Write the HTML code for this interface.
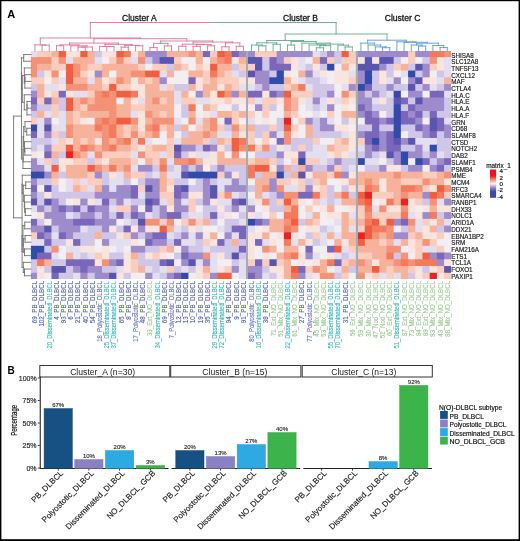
<!DOCTYPE html>
<html><head><meta charset="utf-8"><style>
html,body{margin:0;padding:0;background:#fff;width:520px;height:541px;overflow:hidden;font-family:"Liberation Sans",sans-serif;}
</style></head><body>
<svg width="520" height="541" viewBox="0 0 520 541" style="position:absolute;left:0;top:0;will-change:transform">
<rect x="30.9" y="51" width="7.16" height="7.1" fill="#e4dff0"/>
<rect x="37.06" y="51" width="8.21" height="7.1" fill="#facdbe"/>
<rect x="44.27" y="51" width="8.21" height="7.1" fill="#facdbe"/>
<rect x="51.48" y="51" width="8.21" height="7.1" fill="#f7b29b"/>
<rect x="58.69" y="51" width="8.21" height="7.1" fill="#f05f41"/>
<rect x="65.9" y="51" width="8.21" height="7.1" fill="#f9e4de"/>
<rect x="73.1" y="51" width="8.21" height="7.1" fill="#f9e4de"/>
<rect x="80.31" y="51" width="8.21" height="7.1" fill="#f05f41"/>
<rect x="87.52" y="51" width="8.21" height="7.1" fill="#f7b29b"/>
<rect x="94.73" y="51" width="8.21" height="7.1" fill="#d0c7e8"/>
<rect x="101.94" y="51" width="8.21" height="7.1" fill="#f9e4de"/>
<rect x="109.15" y="51" width="8.21" height="7.1" fill="#f9e4de"/>
<rect x="116.36" y="51" width="8.21" height="7.1" fill="#f05f41"/>
<rect x="123.57" y="51" width="8.21" height="7.1" fill="#f37a5c"/>
<rect x="130.78" y="51" width="8.21" height="7.1" fill="#f9e4de"/>
<rect x="137.98" y="51" width="8.21" height="7.1" fill="#f7b29b"/>
<rect x="145.19" y="51" width="8.21" height="7.1" fill="#9d8bcc"/>
<rect x="152.4" y="51" width="8.21" height="7.1" fill="#9d8bcc"/>
<rect x="159.61" y="51" width="8.21" height="7.1" fill="#9d8bcc"/>
<rect x="166.82" y="51" width="8.21" height="7.1" fill="#f7b29b"/>
<rect x="174.03" y="51" width="8.21" height="7.1" fill="#f7b29b"/>
<rect x="181.24" y="51" width="8.21" height="7.1" fill="#f7b29b"/>
<rect x="188.45" y="51" width="8.21" height="7.1" fill="#f49176"/>
<rect x="195.66" y="51" width="8.21" height="7.1" fill="#f7b29b"/>
<rect x="202.87" y="51" width="8.21" height="7.1" fill="#7a67bc"/>
<rect x="210.07" y="51" width="8.21" height="7.1" fill="#facdbe"/>
<rect x="217.28" y="51" width="8.21" height="7.1" fill="#f05f41"/>
<rect x="224.49" y="51" width="8.21" height="7.1" fill="#f37a5c"/>
<rect x="231.7" y="51" width="8.21" height="7.1" fill="#7a67bc"/>
<rect x="238.91" y="51" width="7.19" height="7.1" fill="#9d8bcc"/>
<rect x="248" y="51" width="8.01" height="7.1" fill="#9d8bcc"/>
<rect x="255.01" y="51" width="8.21" height="7.1" fill="#facdbe"/>
<rect x="262.22" y="51" width="8.21" height="7.1" fill="#facdbe"/>
<rect x="269.43" y="51" width="8.21" height="7.1" fill="#facdbe"/>
<rect x="276.64" y="51" width="8.21" height="7.1" fill="#9d8bcc"/>
<rect x="283.85" y="51" width="8.21" height="7.1" fill="#9d8bcc"/>
<rect x="291.05" y="51" width="8.21" height="7.1" fill="#9d8bcc"/>
<rect x="298.26" y="51" width="8.21" height="7.1" fill="#9d8bcc"/>
<rect x="305.47" y="51" width="8.21" height="7.1" fill="#9d8bcc"/>
<rect x="312.68" y="51" width="8.21" height="7.1" fill="#e4dff0"/>
<rect x="319.89" y="51" width="8.21" height="7.1" fill="#d0c7e8"/>
<rect x="327.1" y="51" width="8.21" height="7.1" fill="#9d8bcc"/>
<rect x="334.31" y="51" width="8.21" height="7.1" fill="#d0c7e8"/>
<rect x="341.52" y="51" width="8.21" height="7.1" fill="#f05f41"/>
<rect x="348.73" y="51" width="7.17" height="7.1" fill="#facdbe"/>
<rect x="358" y="51" width="7.81" height="7.1" fill="#9d8bcc"/>
<rect x="364.81" y="51" width="8.21" height="7.1" fill="#9d8bcc"/>
<rect x="372.02" y="51" width="8.21" height="7.1" fill="#9d8bcc"/>
<rect x="379.23" y="51" width="8.21" height="7.1" fill="#9d8bcc"/>
<rect x="386.44" y="51" width="8.21" height="7.1" fill="#9d8bcc"/>
<rect x="393.65" y="51" width="8.21" height="7.1" fill="#9d8bcc"/>
<rect x="400.85" y="51" width="8.21" height="7.1" fill="#9d8bcc"/>
<rect x="408.06" y="51" width="8.21" height="7.1" fill="#facdbe"/>
<rect x="415.27" y="51" width="8.21" height="7.1" fill="#9d8bcc"/>
<rect x="422.48" y="51" width="8.21" height="7.1" fill="#9d8bcc"/>
<rect x="429.69" y="51" width="8.21" height="7.1" fill="#f37a5c"/>
<rect x="436.9" y="51" width="8.21" height="7.1" fill="#f37a5c"/>
<rect x="444.11" y="51" width="6.89" height="7.1" fill="#f49176"/>
<rect x="30.9" y="57.1" width="7.16" height="7.74" fill="#f49176"/>
<rect x="37.06" y="57.1" width="8.21" height="7.74" fill="#f49176"/>
<rect x="44.27" y="57.1" width="8.21" height="7.74" fill="#f49176"/>
<rect x="51.48" y="57.1" width="8.21" height="7.74" fill="#facdbe"/>
<rect x="58.69" y="57.1" width="8.21" height="7.74" fill="#f49176"/>
<rect x="65.9" y="57.1" width="8.21" height="7.74" fill="#e4dff0"/>
<rect x="73.1" y="57.1" width="8.21" height="7.74" fill="#f7b29b"/>
<rect x="80.31" y="57.1" width="8.21" height="7.74" fill="#f7b29b"/>
<rect x="87.52" y="57.1" width="8.21" height="7.74" fill="#f7b29b"/>
<rect x="94.73" y="57.1" width="8.21" height="7.74" fill="#e4dff0"/>
<rect x="101.94" y="57.1" width="8.21" height="7.74" fill="#f2eef2"/>
<rect x="109.15" y="57.1" width="8.21" height="7.74" fill="#facdbe"/>
<rect x="116.36" y="57.1" width="8.21" height="7.74" fill="#f49176"/>
<rect x="123.57" y="57.1" width="8.21" height="7.74" fill="#facdbe"/>
<rect x="130.78" y="57.1" width="8.21" height="7.74" fill="#e4dff0"/>
<rect x="137.98" y="57.1" width="8.21" height="7.74" fill="#f49176"/>
<rect x="145.19" y="57.1" width="8.21" height="7.74" fill="#d0c7e8"/>
<rect x="152.4" y="57.1" width="8.21" height="7.74" fill="#9d8bcc"/>
<rect x="159.61" y="57.1" width="8.21" height="7.74" fill="#5a55af"/>
<rect x="166.82" y="57.1" width="8.21" height="7.74" fill="#5a55af"/>
<rect x="174.03" y="57.1" width="8.21" height="7.74" fill="#facdbe"/>
<rect x="181.24" y="57.1" width="8.21" height="7.74" fill="#f2eef2"/>
<rect x="188.45" y="57.1" width="8.21" height="7.74" fill="#f2eef2"/>
<rect x="195.66" y="57.1" width="8.21" height="7.74" fill="#f7b29b"/>
<rect x="202.87" y="57.1" width="8.21" height="7.74" fill="#f2eef2"/>
<rect x="210.07" y="57.1" width="8.21" height="7.74" fill="#f7b29b"/>
<rect x="217.28" y="57.1" width="8.21" height="7.74" fill="#f49176"/>
<rect x="224.49" y="57.1" width="8.21" height="7.74" fill="#f37a5c"/>
<rect x="231.7" y="57.1" width="8.21" height="7.74" fill="#f9e4de"/>
<rect x="238.91" y="57.1" width="7.19" height="7.74" fill="#f7b29b"/>
<rect x="248" y="57.1" width="8.01" height="7.74" fill="#5a55af"/>
<rect x="255.01" y="57.1" width="8.21" height="7.74" fill="#5a55af"/>
<rect x="262.22" y="57.1" width="8.21" height="7.74" fill="#d0c7e8"/>
<rect x="269.43" y="57.1" width="8.21" height="7.74" fill="#7a67bc"/>
<rect x="276.64" y="57.1" width="8.21" height="7.74" fill="#9d8bcc"/>
<rect x="283.85" y="57.1" width="8.21" height="7.74" fill="#facdbe"/>
<rect x="291.05" y="57.1" width="8.21" height="7.74" fill="#f9e4de"/>
<rect x="298.26" y="57.1" width="8.21" height="7.74" fill="#e4dff0"/>
<rect x="305.47" y="57.1" width="8.21" height="7.74" fill="#f2eef2"/>
<rect x="312.68" y="57.1" width="8.21" height="7.74" fill="#f7b29b"/>
<rect x="319.89" y="57.1" width="8.21" height="7.74" fill="#7a67bc"/>
<rect x="327.1" y="57.1" width="8.21" height="7.74" fill="#facdbe"/>
<rect x="334.31" y="57.1" width="8.21" height="7.74" fill="#d0c7e8"/>
<rect x="341.52" y="57.1" width="8.21" height="7.74" fill="#facdbe"/>
<rect x="348.73" y="57.1" width="7.17" height="7.74" fill="#facdbe"/>
<rect x="358" y="57.1" width="7.81" height="7.74" fill="#f9e4de"/>
<rect x="364.81" y="57.1" width="8.21" height="7.74" fill="#5a55af"/>
<rect x="372.02" y="57.1" width="8.21" height="7.74" fill="#f9e4de"/>
<rect x="379.23" y="57.1" width="8.21" height="7.74" fill="#5a55af"/>
<rect x="386.44" y="57.1" width="8.21" height="7.74" fill="#5a55af"/>
<rect x="393.65" y="57.1" width="8.21" height="7.74" fill="#d0c7e8"/>
<rect x="400.85" y="57.1" width="8.21" height="7.74" fill="#f2eef2"/>
<rect x="408.06" y="57.1" width="8.21" height="7.74" fill="#facdbe"/>
<rect x="415.27" y="57.1" width="8.21" height="7.74" fill="#f2eef2"/>
<rect x="422.48" y="57.1" width="8.21" height="7.74" fill="#d0c7e8"/>
<rect x="429.69" y="57.1" width="8.21" height="7.74" fill="#f49176"/>
<rect x="436.9" y="57.1" width="8.21" height="7.74" fill="#f9e4de"/>
<rect x="444.11" y="57.1" width="6.89" height="7.74" fill="#e4dff0"/>
<rect x="30.9" y="63.84" width="7.16" height="7.74" fill="#f49176"/>
<rect x="37.06" y="63.84" width="8.21" height="7.74" fill="#f7b29b"/>
<rect x="44.27" y="63.84" width="8.21" height="7.74" fill="#f7b29b"/>
<rect x="51.48" y="63.84" width="8.21" height="7.74" fill="#facdbe"/>
<rect x="58.69" y="63.84" width="8.21" height="7.74" fill="#facdbe"/>
<rect x="65.9" y="63.84" width="8.21" height="7.74" fill="#f05f41"/>
<rect x="73.1" y="63.84" width="8.21" height="7.74" fill="#f49176"/>
<rect x="80.31" y="63.84" width="8.21" height="7.74" fill="#f7b29b"/>
<rect x="87.52" y="63.84" width="8.21" height="7.74" fill="#facdbe"/>
<rect x="94.73" y="63.84" width="8.21" height="7.74" fill="#facdbe"/>
<rect x="101.94" y="63.84" width="8.21" height="7.74" fill="#f7b29b"/>
<rect x="109.15" y="63.84" width="8.21" height="7.74" fill="#f7b29b"/>
<rect x="116.36" y="63.84" width="8.21" height="7.74" fill="#f7b29b"/>
<rect x="123.57" y="63.84" width="8.21" height="7.74" fill="#f7b29b"/>
<rect x="130.78" y="63.84" width="8.21" height="7.74" fill="#f7b29b"/>
<rect x="137.98" y="63.84" width="8.21" height="7.74" fill="#facdbe"/>
<rect x="145.19" y="63.84" width="8.21" height="7.74" fill="#f2eef2"/>
<rect x="152.4" y="63.84" width="8.21" height="7.74" fill="#facdbe"/>
<rect x="159.61" y="63.84" width="8.21" height="7.74" fill="#facdbe"/>
<rect x="166.82" y="63.84" width="8.21" height="7.74" fill="#d0c7e8"/>
<rect x="174.03" y="63.84" width="8.21" height="7.74" fill="#f7b29b"/>
<rect x="181.24" y="63.84" width="8.21" height="7.74" fill="#facdbe"/>
<rect x="188.45" y="63.84" width="8.21" height="7.74" fill="#f2eef2"/>
<rect x="195.66" y="63.84" width="8.21" height="7.74" fill="#facdbe"/>
<rect x="202.87" y="63.84" width="8.21" height="7.74" fill="#f9e4de"/>
<rect x="210.07" y="63.84" width="8.21" height="7.74" fill="#f05f41"/>
<rect x="217.28" y="63.84" width="8.21" height="7.74" fill="#f7b29b"/>
<rect x="224.49" y="63.84" width="8.21" height="7.74" fill="#f7b29b"/>
<rect x="231.7" y="63.84" width="8.21" height="7.74" fill="#d0c7e8"/>
<rect x="238.91" y="63.84" width="7.19" height="7.74" fill="#facdbe"/>
<rect x="248" y="63.84" width="8.01" height="7.74" fill="#facdbe"/>
<rect x="255.01" y="63.84" width="8.21" height="7.74" fill="#5a55af"/>
<rect x="262.22" y="63.84" width="8.21" height="7.74" fill="#d0c7e8"/>
<rect x="269.43" y="63.84" width="8.21" height="7.74" fill="#7a67bc"/>
<rect x="276.64" y="63.84" width="8.21" height="7.74" fill="#7a67bc"/>
<rect x="283.85" y="63.84" width="8.21" height="7.74" fill="#7a67bc"/>
<rect x="291.05" y="63.84" width="8.21" height="7.74" fill="#f9e4de"/>
<rect x="298.26" y="63.84" width="8.21" height="7.74" fill="#e4dff0"/>
<rect x="305.47" y="63.84" width="8.21" height="7.74" fill="#d0c7e8"/>
<rect x="312.68" y="63.84" width="8.21" height="7.74" fill="#f9e4de"/>
<rect x="319.89" y="63.84" width="8.21" height="7.74" fill="#d0c7e8"/>
<rect x="327.1" y="63.84" width="8.21" height="7.74" fill="#324baa"/>
<rect x="334.31" y="63.84" width="8.21" height="7.74" fill="#f2eef2"/>
<rect x="341.52" y="63.84" width="8.21" height="7.74" fill="#f7b29b"/>
<rect x="348.73" y="63.84" width="7.17" height="7.74" fill="#f9e4de"/>
<rect x="358" y="63.84" width="7.81" height="7.74" fill="#5a55af"/>
<rect x="364.81" y="63.84" width="8.21" height="7.74" fill="#5a55af"/>
<rect x="372.02" y="63.84" width="8.21" height="7.74" fill="#5a55af"/>
<rect x="379.23" y="63.84" width="8.21" height="7.74" fill="#9d8bcc"/>
<rect x="386.44" y="63.84" width="8.21" height="7.74" fill="#d0c7e8"/>
<rect x="393.65" y="63.84" width="8.21" height="7.74" fill="#facdbe"/>
<rect x="400.85" y="63.84" width="8.21" height="7.74" fill="#f7b29b"/>
<rect x="408.06" y="63.84" width="8.21" height="7.74" fill="#d0c7e8"/>
<rect x="415.27" y="63.84" width="8.21" height="7.74" fill="#5a55af"/>
<rect x="422.48" y="63.84" width="8.21" height="7.74" fill="#9d8bcc"/>
<rect x="429.69" y="63.84" width="8.21" height="7.74" fill="#facdbe"/>
<rect x="436.9" y="63.84" width="8.21" height="7.74" fill="#f9e4de"/>
<rect x="444.11" y="63.84" width="6.89" height="7.74" fill="#e4dff0"/>
<rect x="30.9" y="70.58" width="7.16" height="7.74" fill="#f49176"/>
<rect x="37.06" y="70.58" width="8.21" height="7.74" fill="#d0c7e8"/>
<rect x="44.27" y="70.58" width="8.21" height="7.74" fill="#f9e4de"/>
<rect x="51.48" y="70.58" width="8.21" height="7.74" fill="#f49176"/>
<rect x="58.69" y="70.58" width="8.21" height="7.74" fill="#f2eef2"/>
<rect x="65.9" y="70.58" width="8.21" height="7.74" fill="#f05f41"/>
<rect x="73.1" y="70.58" width="8.21" height="7.74" fill="#f49176"/>
<rect x="80.31" y="70.58" width="8.21" height="7.74" fill="#facdbe"/>
<rect x="87.52" y="70.58" width="8.21" height="7.74" fill="#f9e4de"/>
<rect x="94.73" y="70.58" width="8.21" height="7.74" fill="#9d8bcc"/>
<rect x="101.94" y="70.58" width="8.21" height="7.74" fill="#f7b29b"/>
<rect x="109.15" y="70.58" width="8.21" height="7.74" fill="#f2eef2"/>
<rect x="116.36" y="70.58" width="8.21" height="7.74" fill="#f7b29b"/>
<rect x="123.57" y="70.58" width="8.21" height="7.74" fill="#f7b29b"/>
<rect x="130.78" y="70.58" width="8.21" height="7.74" fill="#f49176"/>
<rect x="137.98" y="70.58" width="8.21" height="7.74" fill="#f49176"/>
<rect x="145.19" y="70.58" width="8.21" height="7.74" fill="#f05f41"/>
<rect x="152.4" y="70.58" width="8.21" height="7.74" fill="#f05f41"/>
<rect x="159.61" y="70.58" width="8.21" height="7.74" fill="#e4dff0"/>
<rect x="166.82" y="70.58" width="8.21" height="7.74" fill="#f7b29b"/>
<rect x="174.03" y="70.58" width="8.21" height="7.74" fill="#f2eef2"/>
<rect x="181.24" y="70.58" width="8.21" height="7.74" fill="#f2eef2"/>
<rect x="188.45" y="70.58" width="8.21" height="7.74" fill="#f7b29b"/>
<rect x="195.66" y="70.58" width="8.21" height="7.74" fill="#f7b29b"/>
<rect x="202.87" y="70.58" width="8.21" height="7.74" fill="#facdbe"/>
<rect x="210.07" y="70.58" width="8.21" height="7.74" fill="#f37a5c"/>
<rect x="217.28" y="70.58" width="8.21" height="7.74" fill="#f7b29b"/>
<rect x="224.49" y="70.58" width="8.21" height="7.74" fill="#facdbe"/>
<rect x="231.7" y="70.58" width="8.21" height="7.74" fill="#e4dff0"/>
<rect x="238.91" y="70.58" width="7.19" height="7.74" fill="#d0c7e8"/>
<rect x="248" y="70.58" width="8.01" height="7.74" fill="#5a55af"/>
<rect x="255.01" y="70.58" width="8.21" height="7.74" fill="#9d8bcc"/>
<rect x="262.22" y="70.58" width="8.21" height="7.74" fill="#9d8bcc"/>
<rect x="269.43" y="70.58" width="8.21" height="7.74" fill="#d0c7e8"/>
<rect x="276.64" y="70.58" width="8.21" height="7.74" fill="#324baa"/>
<rect x="283.85" y="70.58" width="8.21" height="7.74" fill="#f9e4de"/>
<rect x="291.05" y="70.58" width="8.21" height="7.74" fill="#f2eef2"/>
<rect x="298.26" y="70.58" width="8.21" height="7.74" fill="#f7b29b"/>
<rect x="305.47" y="70.58" width="8.21" height="7.74" fill="#9d8bcc"/>
<rect x="312.68" y="70.58" width="8.21" height="7.74" fill="#e4dff0"/>
<rect x="319.89" y="70.58" width="8.21" height="7.74" fill="#f9e4de"/>
<rect x="327.1" y="70.58" width="8.21" height="7.74" fill="#f2eef2"/>
<rect x="334.31" y="70.58" width="8.21" height="7.74" fill="#f9e4de"/>
<rect x="341.52" y="70.58" width="8.21" height="7.74" fill="#f9e4de"/>
<rect x="348.73" y="70.58" width="7.17" height="7.74" fill="#e4dff0"/>
<rect x="358" y="70.58" width="7.81" height="7.74" fill="#9d8bcc"/>
<rect x="364.81" y="70.58" width="8.21" height="7.74" fill="#324baa"/>
<rect x="372.02" y="70.58" width="8.21" height="7.74" fill="#d0c7e8"/>
<rect x="379.23" y="70.58" width="8.21" height="7.74" fill="#f9e4de"/>
<rect x="386.44" y="70.58" width="8.21" height="7.74" fill="#d0c7e8"/>
<rect x="393.65" y="70.58" width="8.21" height="7.74" fill="#f2eef2"/>
<rect x="400.85" y="70.58" width="8.21" height="7.74" fill="#e4dff0"/>
<rect x="408.06" y="70.58" width="8.21" height="7.74" fill="#324baa"/>
<rect x="415.27" y="70.58" width="8.21" height="7.74" fill="#d0c7e8"/>
<rect x="422.48" y="70.58" width="8.21" height="7.74" fill="#9d8bcc"/>
<rect x="429.69" y="70.58" width="8.21" height="7.74" fill="#f2eef2"/>
<rect x="436.9" y="70.58" width="8.21" height="7.74" fill="#d0c7e8"/>
<rect x="444.11" y="70.58" width="6.89" height="7.74" fill="#e4dff0"/>
<rect x="30.9" y="77.32" width="7.16" height="7.74" fill="#facdbe"/>
<rect x="37.06" y="77.32" width="8.21" height="7.74" fill="#facdbe"/>
<rect x="44.27" y="77.32" width="8.21" height="7.74" fill="#f2eef2"/>
<rect x="51.48" y="77.32" width="8.21" height="7.74" fill="#facdbe"/>
<rect x="58.69" y="77.32" width="8.21" height="7.74" fill="#e4dff0"/>
<rect x="65.9" y="77.32" width="8.21" height="7.74" fill="#f05f41"/>
<rect x="73.1" y="77.32" width="8.21" height="7.74" fill="#f7b29b"/>
<rect x="80.31" y="77.32" width="8.21" height="7.74" fill="#f7b29b"/>
<rect x="87.52" y="77.32" width="8.21" height="7.74" fill="#e4dff0"/>
<rect x="94.73" y="77.32" width="8.21" height="7.74" fill="#f7b29b"/>
<rect x="101.94" y="77.32" width="8.21" height="7.74" fill="#f9e4de"/>
<rect x="109.15" y="77.32" width="8.21" height="7.74" fill="#facdbe"/>
<rect x="116.36" y="77.32" width="8.21" height="7.74" fill="#f49176"/>
<rect x="123.57" y="77.32" width="8.21" height="7.74" fill="#f7b29b"/>
<rect x="130.78" y="77.32" width="8.21" height="7.74" fill="#f9e4de"/>
<rect x="137.98" y="77.32" width="8.21" height="7.74" fill="#f7b29b"/>
<rect x="145.19" y="77.32" width="8.21" height="7.74" fill="#facdbe"/>
<rect x="152.4" y="77.32" width="8.21" height="7.74" fill="#f7b29b"/>
<rect x="159.61" y="77.32" width="8.21" height="7.74" fill="#9d8bcc"/>
<rect x="166.82" y="77.32" width="8.21" height="7.74" fill="#f2eef2"/>
<rect x="174.03" y="77.32" width="8.21" height="7.74" fill="#f2eef2"/>
<rect x="181.24" y="77.32" width="8.21" height="7.74" fill="#f2eef2"/>
<rect x="188.45" y="77.32" width="8.21" height="7.74" fill="#7a67bc"/>
<rect x="195.66" y="77.32" width="8.21" height="7.74" fill="#f9e4de"/>
<rect x="202.87" y="77.32" width="8.21" height="7.74" fill="#facdbe"/>
<rect x="210.07" y="77.32" width="8.21" height="7.74" fill="#f7b29b"/>
<rect x="217.28" y="77.32" width="8.21" height="7.74" fill="#facdbe"/>
<rect x="224.49" y="77.32" width="8.21" height="7.74" fill="#facdbe"/>
<rect x="231.7" y="77.32" width="8.21" height="7.74" fill="#facdbe"/>
<rect x="238.91" y="77.32" width="7.19" height="7.74" fill="#f9e4de"/>
<rect x="248" y="77.32" width="8.01" height="7.74" fill="#f9e4de"/>
<rect x="255.01" y="77.32" width="8.21" height="7.74" fill="#9d8bcc"/>
<rect x="262.22" y="77.32" width="8.21" height="7.74" fill="#9d8bcc"/>
<rect x="269.43" y="77.32" width="8.21" height="7.74" fill="#324baa"/>
<rect x="276.64" y="77.32" width="8.21" height="7.74" fill="#324baa"/>
<rect x="283.85" y="77.32" width="8.21" height="7.74" fill="#f7b29b"/>
<rect x="291.05" y="77.32" width="8.21" height="7.74" fill="#f9e4de"/>
<rect x="298.26" y="77.32" width="8.21" height="7.74" fill="#e4dff0"/>
<rect x="305.47" y="77.32" width="8.21" height="7.74" fill="#d0c7e8"/>
<rect x="312.68" y="77.32" width="8.21" height="7.74" fill="#d0c7e8"/>
<rect x="319.89" y="77.32" width="8.21" height="7.74" fill="#e4dff0"/>
<rect x="327.1" y="77.32" width="8.21" height="7.74" fill="#f2eef2"/>
<rect x="334.31" y="77.32" width="8.21" height="7.74" fill="#f9e4de"/>
<rect x="341.52" y="77.32" width="8.21" height="7.74" fill="#f9e4de"/>
<rect x="348.73" y="77.32" width="7.17" height="7.74" fill="#facdbe"/>
<rect x="358" y="77.32" width="7.81" height="7.74" fill="#9d8bcc"/>
<rect x="364.81" y="77.32" width="8.21" height="7.74" fill="#324baa"/>
<rect x="372.02" y="77.32" width="8.21" height="7.74" fill="#d0c7e8"/>
<rect x="379.23" y="77.32" width="8.21" height="7.74" fill="#f9e4de"/>
<rect x="386.44" y="77.32" width="8.21" height="7.74" fill="#e4dff0"/>
<rect x="393.65" y="77.32" width="8.21" height="7.74" fill="#9d8bcc"/>
<rect x="400.85" y="77.32" width="8.21" height="7.74" fill="#f2eef2"/>
<rect x="408.06" y="77.32" width="8.21" height="7.74" fill="#9d8bcc"/>
<rect x="415.27" y="77.32" width="8.21" height="7.74" fill="#5a55af"/>
<rect x="422.48" y="77.32" width="8.21" height="7.74" fill="#f9e4de"/>
<rect x="429.69" y="77.32" width="8.21" height="7.74" fill="#f9e4de"/>
<rect x="436.9" y="77.32" width="8.21" height="7.74" fill="#e4dff0"/>
<rect x="444.11" y="77.32" width="6.89" height="7.74" fill="#f7b29b"/>
<rect x="30.9" y="84.06" width="7.16" height="7.74" fill="#d0c7e8"/>
<rect x="37.06" y="84.06" width="8.21" height="7.74" fill="#f7b29b"/>
<rect x="44.27" y="84.06" width="8.21" height="7.74" fill="#e4dff0"/>
<rect x="51.48" y="84.06" width="8.21" height="7.74" fill="#e4dff0"/>
<rect x="58.69" y="84.06" width="8.21" height="7.74" fill="#f9e4de"/>
<rect x="65.9" y="84.06" width="8.21" height="7.74" fill="#f49176"/>
<rect x="73.1" y="84.06" width="8.21" height="7.74" fill="#f49176"/>
<rect x="80.31" y="84.06" width="8.21" height="7.74" fill="#f49176"/>
<rect x="87.52" y="84.06" width="8.21" height="7.74" fill="#f7b29b"/>
<rect x="94.73" y="84.06" width="8.21" height="7.74" fill="#f7b29b"/>
<rect x="101.94" y="84.06" width="8.21" height="7.74" fill="#facdbe"/>
<rect x="109.15" y="84.06" width="8.21" height="7.74" fill="#f05f41"/>
<rect x="116.36" y="84.06" width="8.21" height="7.74" fill="#facdbe"/>
<rect x="123.57" y="84.06" width="8.21" height="7.74" fill="#facdbe"/>
<rect x="130.78" y="84.06" width="8.21" height="7.74" fill="#f9e4de"/>
<rect x="137.98" y="84.06" width="8.21" height="7.74" fill="#f9e4de"/>
<rect x="145.19" y="84.06" width="8.21" height="7.74" fill="#f7b29b"/>
<rect x="152.4" y="84.06" width="8.21" height="7.74" fill="#f7b29b"/>
<rect x="159.61" y="84.06" width="8.21" height="7.74" fill="#e4dff0"/>
<rect x="166.82" y="84.06" width="8.21" height="7.74" fill="#facdbe"/>
<rect x="174.03" y="84.06" width="8.21" height="7.74" fill="#d0c7e8"/>
<rect x="181.24" y="84.06" width="8.21" height="7.74" fill="#d0c7e8"/>
<rect x="188.45" y="84.06" width="8.21" height="7.74" fill="#f7b29b"/>
<rect x="195.66" y="84.06" width="8.21" height="7.74" fill="#f9e4de"/>
<rect x="202.87" y="84.06" width="8.21" height="7.74" fill="#f7b29b"/>
<rect x="210.07" y="84.06" width="8.21" height="7.74" fill="#f7b29b"/>
<rect x="217.28" y="84.06" width="8.21" height="7.74" fill="#f9e4de"/>
<rect x="224.49" y="84.06" width="8.21" height="7.74" fill="#f7b29b"/>
<rect x="231.7" y="84.06" width="8.21" height="7.74" fill="#facdbe"/>
<rect x="238.91" y="84.06" width="7.19" height="7.74" fill="#e4dff0"/>
<rect x="248" y="84.06" width="8.01" height="7.74" fill="#e4dff0"/>
<rect x="255.01" y="84.06" width="8.21" height="7.74" fill="#d0c7e8"/>
<rect x="262.22" y="84.06" width="8.21" height="7.74" fill="#9d8bcc"/>
<rect x="269.43" y="84.06" width="8.21" height="7.74" fill="#d0c7e8"/>
<rect x="276.64" y="84.06" width="8.21" height="7.74" fill="#d0c7e8"/>
<rect x="283.85" y="84.06" width="8.21" height="7.74" fill="#facdbe"/>
<rect x="291.05" y="84.06" width="8.21" height="7.74" fill="#f7b29b"/>
<rect x="298.26" y="84.06" width="8.21" height="7.74" fill="#f37a5c"/>
<rect x="305.47" y="84.06" width="8.21" height="7.74" fill="#e4dff0"/>
<rect x="312.68" y="84.06" width="8.21" height="7.74" fill="#d0c7e8"/>
<rect x="319.89" y="84.06" width="8.21" height="7.74" fill="#d0c7e8"/>
<rect x="327.1" y="84.06" width="8.21" height="7.74" fill="#d0c7e8"/>
<rect x="334.31" y="84.06" width="8.21" height="7.74" fill="#f2eef2"/>
<rect x="341.52" y="84.06" width="8.21" height="7.74" fill="#e4dff0"/>
<rect x="348.73" y="84.06" width="7.17" height="7.74" fill="#9d8bcc"/>
<rect x="358" y="84.06" width="7.81" height="7.74" fill="#324baa"/>
<rect x="364.81" y="84.06" width="8.21" height="7.74" fill="#7a67bc"/>
<rect x="372.02" y="84.06" width="8.21" height="7.74" fill="#d0c7e8"/>
<rect x="379.23" y="84.06" width="8.21" height="7.74" fill="#d0c7e8"/>
<rect x="386.44" y="84.06" width="8.21" height="7.74" fill="#9d8bcc"/>
<rect x="393.65" y="84.06" width="8.21" height="7.74" fill="#d0c7e8"/>
<rect x="400.85" y="84.06" width="8.21" height="7.74" fill="#d0c7e8"/>
<rect x="408.06" y="84.06" width="8.21" height="7.74" fill="#5a55af"/>
<rect x="415.27" y="84.06" width="8.21" height="7.74" fill="#d0c7e8"/>
<rect x="422.48" y="84.06" width="8.21" height="7.74" fill="#9d8bcc"/>
<rect x="429.69" y="84.06" width="8.21" height="7.74" fill="#e4dff0"/>
<rect x="436.9" y="84.06" width="8.21" height="7.74" fill="#d0c7e8"/>
<rect x="444.11" y="84.06" width="6.89" height="7.74" fill="#9d8bcc"/>
<rect x="30.9" y="90.8" width="7.16" height="7.74" fill="#9d8bcc"/>
<rect x="37.06" y="90.8" width="8.21" height="7.74" fill="#f7b29b"/>
<rect x="44.27" y="90.8" width="8.21" height="7.74" fill="#f9e4de"/>
<rect x="51.48" y="90.8" width="8.21" height="7.74" fill="#facdbe"/>
<rect x="58.69" y="90.8" width="8.21" height="7.74" fill="#7a67bc"/>
<rect x="65.9" y="90.8" width="8.21" height="7.74" fill="#f9e4de"/>
<rect x="73.1" y="90.8" width="8.21" height="7.74" fill="#e4dff0"/>
<rect x="80.31" y="90.8" width="8.21" height="7.74" fill="#e4dff0"/>
<rect x="87.52" y="90.8" width="8.21" height="7.74" fill="#facdbe"/>
<rect x="94.73" y="90.8" width="8.21" height="7.74" fill="#f49176"/>
<rect x="101.94" y="90.8" width="8.21" height="7.74" fill="#f37a5c"/>
<rect x="109.15" y="90.8" width="8.21" height="7.74" fill="#f49176"/>
<rect x="116.36" y="90.8" width="8.21" height="7.74" fill="#f05f41"/>
<rect x="123.57" y="90.8" width="8.21" height="7.74" fill="#f05f41"/>
<rect x="130.78" y="90.8" width="8.21" height="7.74" fill="#f37a5c"/>
<rect x="137.98" y="90.8" width="8.21" height="7.74" fill="#f9e4de"/>
<rect x="145.19" y="90.8" width="8.21" height="7.74" fill="#f7b29b"/>
<rect x="152.4" y="90.8" width="8.21" height="7.74" fill="#f7b29b"/>
<rect x="159.61" y="90.8" width="8.21" height="7.74" fill="#f7b29b"/>
<rect x="166.82" y="90.8" width="8.21" height="7.74" fill="#f7b29b"/>
<rect x="174.03" y="90.8" width="8.21" height="7.74" fill="#e4dff0"/>
<rect x="181.24" y="90.8" width="8.21" height="7.74" fill="#f7b29b"/>
<rect x="188.45" y="90.8" width="8.21" height="7.74" fill="#f2eef2"/>
<rect x="195.66" y="90.8" width="8.21" height="7.74" fill="#9d8bcc"/>
<rect x="202.87" y="90.8" width="8.21" height="7.74" fill="#f7b29b"/>
<rect x="210.07" y="90.8" width="8.21" height="7.74" fill="#f9e4de"/>
<rect x="217.28" y="90.8" width="8.21" height="7.74" fill="#f05f41"/>
<rect x="224.49" y="90.8" width="8.21" height="7.74" fill="#f49176"/>
<rect x="231.7" y="90.8" width="8.21" height="7.74" fill="#9d8bcc"/>
<rect x="238.91" y="90.8" width="7.19" height="7.74" fill="#f7b29b"/>
<rect x="248" y="90.8" width="8.01" height="7.74" fill="#7a67bc"/>
<rect x="255.01" y="90.8" width="8.21" height="7.74" fill="#7a67bc"/>
<rect x="262.22" y="90.8" width="8.21" height="7.74" fill="#f9e4de"/>
<rect x="269.43" y="90.8" width="8.21" height="7.74" fill="#7a67bc"/>
<rect x="276.64" y="90.8" width="8.21" height="7.74" fill="#9d8bcc"/>
<rect x="283.85" y="90.8" width="8.21" height="7.74" fill="#f05f41"/>
<rect x="291.05" y="90.8" width="8.21" height="7.74" fill="#facdbe"/>
<rect x="298.26" y="90.8" width="8.21" height="7.74" fill="#facdbe"/>
<rect x="305.47" y="90.8" width="8.21" height="7.74" fill="#facdbe"/>
<rect x="312.68" y="90.8" width="8.21" height="7.74" fill="#d0c7e8"/>
<rect x="319.89" y="90.8" width="8.21" height="7.74" fill="#d0c7e8"/>
<rect x="327.1" y="90.8" width="8.21" height="7.74" fill="#9d8bcc"/>
<rect x="334.31" y="90.8" width="8.21" height="7.74" fill="#f2eef2"/>
<rect x="341.52" y="90.8" width="8.21" height="7.74" fill="#f49176"/>
<rect x="348.73" y="90.8" width="7.17" height="7.74" fill="#facdbe"/>
<rect x="358" y="90.8" width="7.81" height="7.74" fill="#9d8bcc"/>
<rect x="364.81" y="90.8" width="8.21" height="7.74" fill="#d0c7e8"/>
<rect x="372.02" y="90.8" width="8.21" height="7.74" fill="#9d8bcc"/>
<rect x="379.23" y="90.8" width="8.21" height="7.74" fill="#d0c7e8"/>
<rect x="386.44" y="90.8" width="8.21" height="7.74" fill="#e4dff0"/>
<rect x="393.65" y="90.8" width="8.21" height="7.74" fill="#324baa"/>
<rect x="400.85" y="90.8" width="8.21" height="7.74" fill="#f2eef2"/>
<rect x="408.06" y="90.8" width="8.21" height="7.74" fill="#9d8bcc"/>
<rect x="415.27" y="90.8" width="8.21" height="7.74" fill="#9d8bcc"/>
<rect x="422.48" y="90.8" width="8.21" height="7.74" fill="#f2eef2"/>
<rect x="429.69" y="90.8" width="8.21" height="7.74" fill="#7a67bc"/>
<rect x="436.9" y="90.8" width="8.21" height="7.74" fill="#7a67bc"/>
<rect x="444.11" y="90.8" width="6.89" height="7.74" fill="#e4dff0"/>
<rect x="30.9" y="97.54" width="7.16" height="7.74" fill="#7a67bc"/>
<rect x="37.06" y="97.54" width="8.21" height="7.74" fill="#facdbe"/>
<rect x="44.27" y="97.54" width="8.21" height="7.74" fill="#7a67bc"/>
<rect x="51.48" y="97.54" width="8.21" height="7.74" fill="#f7b29b"/>
<rect x="58.69" y="97.54" width="8.21" height="7.74" fill="#d0c7e8"/>
<rect x="65.9" y="97.54" width="8.21" height="7.74" fill="#f05f41"/>
<rect x="73.1" y="97.54" width="8.21" height="7.74" fill="#f7b29b"/>
<rect x="80.31" y="97.54" width="8.21" height="7.74" fill="#f49176"/>
<rect x="87.52" y="97.54" width="8.21" height="7.74" fill="#f7b29b"/>
<rect x="94.73" y="97.54" width="8.21" height="7.74" fill="#f49176"/>
<rect x="101.94" y="97.54" width="8.21" height="7.74" fill="#f49176"/>
<rect x="109.15" y="97.54" width="8.21" height="7.74" fill="#f49176"/>
<rect x="116.36" y="97.54" width="8.21" height="7.74" fill="#f2eef2"/>
<rect x="123.57" y="97.54" width="8.21" height="7.74" fill="#f7b29b"/>
<rect x="130.78" y="97.54" width="8.21" height="7.74" fill="#f9e4de"/>
<rect x="137.98" y="97.54" width="8.21" height="7.74" fill="#e4dff0"/>
<rect x="145.19" y="97.54" width="8.21" height="7.74" fill="#f7b29b"/>
<rect x="152.4" y="97.54" width="8.21" height="7.74" fill="#f49176"/>
<rect x="159.61" y="97.54" width="8.21" height="7.74" fill="#facdbe"/>
<rect x="166.82" y="97.54" width="8.21" height="7.74" fill="#f7b29b"/>
<rect x="174.03" y="97.54" width="8.21" height="7.74" fill="#e4dff0"/>
<rect x="181.24" y="97.54" width="8.21" height="7.74" fill="#facdbe"/>
<rect x="188.45" y="97.54" width="8.21" height="7.74" fill="#facdbe"/>
<rect x="195.66" y="97.54" width="8.21" height="7.74" fill="#e4dff0"/>
<rect x="202.87" y="97.54" width="8.21" height="7.74" fill="#e4dff0"/>
<rect x="210.07" y="97.54" width="8.21" height="7.74" fill="#f9e4de"/>
<rect x="217.28" y="97.54" width="8.21" height="7.74" fill="#f9e4de"/>
<rect x="224.49" y="97.54" width="8.21" height="7.74" fill="#facdbe"/>
<rect x="231.7" y="97.54" width="8.21" height="7.74" fill="#f9e4de"/>
<rect x="238.91" y="97.54" width="7.19" height="7.74" fill="#f9e4de"/>
<rect x="248" y="97.54" width="8.01" height="7.74" fill="#facdbe"/>
<rect x="255.01" y="97.54" width="8.21" height="7.74" fill="#e4dff0"/>
<rect x="262.22" y="97.54" width="8.21" height="7.74" fill="#facdbe"/>
<rect x="269.43" y="97.54" width="8.21" height="7.74" fill="#facdbe"/>
<rect x="276.64" y="97.54" width="8.21" height="7.74" fill="#f9e4de"/>
<rect x="283.85" y="97.54" width="8.21" height="7.74" fill="#f49176"/>
<rect x="291.05" y="97.54" width="8.21" height="7.74" fill="#f7b29b"/>
<rect x="298.26" y="97.54" width="8.21" height="7.74" fill="#f9e4de"/>
<rect x="305.47" y="97.54" width="8.21" height="7.74" fill="#e4dff0"/>
<rect x="312.68" y="97.54" width="8.21" height="7.74" fill="#9d8bcc"/>
<rect x="319.89" y="97.54" width="8.21" height="7.74" fill="#e4dff0"/>
<rect x="327.1" y="97.54" width="8.21" height="7.74" fill="#f9e4de"/>
<rect x="334.31" y="97.54" width="8.21" height="7.74" fill="#e4dff0"/>
<rect x="341.52" y="97.54" width="8.21" height="7.74" fill="#facdbe"/>
<rect x="348.73" y="97.54" width="7.17" height="7.74" fill="#f9e4de"/>
<rect x="358" y="97.54" width="7.81" height="7.74" fill="#9d8bcc"/>
<rect x="364.81" y="97.54" width="8.21" height="7.74" fill="#9d8bcc"/>
<rect x="372.02" y="97.54" width="8.21" height="7.74" fill="#e4dff0"/>
<rect x="379.23" y="97.54" width="8.21" height="7.74" fill="#f9e4de"/>
<rect x="386.44" y="97.54" width="8.21" height="7.74" fill="#d0c7e8"/>
<rect x="393.65" y="97.54" width="8.21" height="7.74" fill="#5a55af"/>
<rect x="400.85" y="97.54" width="8.21" height="7.74" fill="#7a67bc"/>
<rect x="408.06" y="97.54" width="8.21" height="7.74" fill="#d0c7e8"/>
<rect x="415.27" y="97.54" width="8.21" height="7.74" fill="#5a55af"/>
<rect x="422.48" y="97.54" width="8.21" height="7.74" fill="#9d8bcc"/>
<rect x="429.69" y="97.54" width="8.21" height="7.74" fill="#9d8bcc"/>
<rect x="436.9" y="97.54" width="8.21" height="7.74" fill="#9d8bcc"/>
<rect x="444.11" y="97.54" width="6.89" height="7.74" fill="#d0c7e8"/>
<rect x="30.9" y="104.28" width="7.16" height="7.74" fill="#9d8bcc"/>
<rect x="37.06" y="104.28" width="8.21" height="7.74" fill="#d0c7e8"/>
<rect x="44.27" y="104.28" width="8.21" height="7.74" fill="#d0c7e8"/>
<rect x="51.48" y="104.28" width="8.21" height="7.74" fill="#facdbe"/>
<rect x="58.69" y="104.28" width="8.21" height="7.74" fill="#d0c7e8"/>
<rect x="65.9" y="104.28" width="8.21" height="7.74" fill="#f05f41"/>
<rect x="73.1" y="104.28" width="8.21" height="7.74" fill="#f7b29b"/>
<rect x="80.31" y="104.28" width="8.21" height="7.74" fill="#facdbe"/>
<rect x="87.52" y="104.28" width="8.21" height="7.74" fill="#f49176"/>
<rect x="94.73" y="104.28" width="8.21" height="7.74" fill="#f49176"/>
<rect x="101.94" y="104.28" width="8.21" height="7.74" fill="#f49176"/>
<rect x="109.15" y="104.28" width="8.21" height="7.74" fill="#f49176"/>
<rect x="116.36" y="104.28" width="8.21" height="7.74" fill="#f7b29b"/>
<rect x="123.57" y="104.28" width="8.21" height="7.74" fill="#f7b29b"/>
<rect x="130.78" y="104.28" width="8.21" height="7.74" fill="#facdbe"/>
<rect x="137.98" y="104.28" width="8.21" height="7.74" fill="#facdbe"/>
<rect x="145.19" y="104.28" width="8.21" height="7.74" fill="#f7b29b"/>
<rect x="152.4" y="104.28" width="8.21" height="7.74" fill="#f7b29b"/>
<rect x="159.61" y="104.28" width="8.21" height="7.74" fill="#f7b29b"/>
<rect x="166.82" y="104.28" width="8.21" height="7.74" fill="#f7b29b"/>
<rect x="174.03" y="104.28" width="8.21" height="7.74" fill="#f2eef2"/>
<rect x="181.24" y="104.28" width="8.21" height="7.74" fill="#d0c7e8"/>
<rect x="188.45" y="104.28" width="8.21" height="7.74" fill="#f37a5c"/>
<rect x="195.66" y="104.28" width="8.21" height="7.74" fill="#f2eef2"/>
<rect x="202.87" y="104.28" width="8.21" height="7.74" fill="#f7b29b"/>
<rect x="210.07" y="104.28" width="8.21" height="7.74" fill="#facdbe"/>
<rect x="217.28" y="104.28" width="8.21" height="7.74" fill="#f2eef2"/>
<rect x="224.49" y="104.28" width="8.21" height="7.74" fill="#f2eef2"/>
<rect x="231.7" y="104.28" width="8.21" height="7.74" fill="#d0c7e8"/>
<rect x="238.91" y="104.28" width="7.19" height="7.74" fill="#f2eef2"/>
<rect x="248" y="104.28" width="8.01" height="7.74" fill="#f2eef2"/>
<rect x="255.01" y="104.28" width="8.21" height="7.74" fill="#9d8bcc"/>
<rect x="262.22" y="104.28" width="8.21" height="7.74" fill="#facdbe"/>
<rect x="269.43" y="104.28" width="8.21" height="7.74" fill="#d0c7e8"/>
<rect x="276.64" y="104.28" width="8.21" height="7.74" fill="#f2eef2"/>
<rect x="283.85" y="104.28" width="8.21" height="7.74" fill="#f49176"/>
<rect x="291.05" y="104.28" width="8.21" height="7.74" fill="#f7b29b"/>
<rect x="298.26" y="104.28" width="8.21" height="7.74" fill="#f2eef2"/>
<rect x="305.47" y="104.28" width="8.21" height="7.74" fill="#e4dff0"/>
<rect x="312.68" y="104.28" width="8.21" height="7.74" fill="#d0c7e8"/>
<rect x="319.89" y="104.28" width="8.21" height="7.74" fill="#e4dff0"/>
<rect x="327.1" y="104.28" width="8.21" height="7.74" fill="#9d8bcc"/>
<rect x="334.31" y="104.28" width="8.21" height="7.74" fill="#f2eef2"/>
<rect x="341.52" y="104.28" width="8.21" height="7.74" fill="#f9e4de"/>
<rect x="348.73" y="104.28" width="7.17" height="7.74" fill="#f2eef2"/>
<rect x="358" y="104.28" width="7.81" height="7.74" fill="#7a67bc"/>
<rect x="364.81" y="104.28" width="8.21" height="7.74" fill="#9d8bcc"/>
<rect x="372.02" y="104.28" width="8.21" height="7.74" fill="#d0c7e8"/>
<rect x="379.23" y="104.28" width="8.21" height="7.74" fill="#d0c7e8"/>
<rect x="386.44" y="104.28" width="8.21" height="7.74" fill="#d0c7e8"/>
<rect x="393.65" y="104.28" width="8.21" height="7.74" fill="#324baa"/>
<rect x="400.85" y="104.28" width="8.21" height="7.74" fill="#d0c7e8"/>
<rect x="408.06" y="104.28" width="8.21" height="7.74" fill="#7a67bc"/>
<rect x="415.27" y="104.28" width="8.21" height="7.74" fill="#9d8bcc"/>
<rect x="422.48" y="104.28" width="8.21" height="7.74" fill="#9d8bcc"/>
<rect x="429.69" y="104.28" width="8.21" height="7.74" fill="#9d8bcc"/>
<rect x="436.9" y="104.28" width="8.21" height="7.74" fill="#9d8bcc"/>
<rect x="444.11" y="104.28" width="6.89" height="7.74" fill="#d0c7e8"/>
<rect x="30.9" y="111.02" width="7.16" height="7.74" fill="#d0c7e8"/>
<rect x="37.06" y="111.02" width="8.21" height="7.74" fill="#f7b29b"/>
<rect x="44.27" y="111.02" width="8.21" height="7.74" fill="#e4dff0"/>
<rect x="51.48" y="111.02" width="8.21" height="7.74" fill="#facdbe"/>
<rect x="58.69" y="111.02" width="8.21" height="7.74" fill="#e4dff0"/>
<rect x="65.9" y="111.02" width="8.21" height="7.74" fill="#f7b29b"/>
<rect x="73.1" y="111.02" width="8.21" height="7.74" fill="#facdbe"/>
<rect x="80.31" y="111.02" width="8.21" height="7.74" fill="#f7b29b"/>
<rect x="87.52" y="111.02" width="8.21" height="7.74" fill="#f7b29b"/>
<rect x="94.73" y="111.02" width="8.21" height="7.74" fill="#f7b29b"/>
<rect x="101.94" y="111.02" width="8.21" height="7.74" fill="#f7b29b"/>
<rect x="109.15" y="111.02" width="8.21" height="7.74" fill="#f49176"/>
<rect x="116.36" y="111.02" width="8.21" height="7.74" fill="#f7b29b"/>
<rect x="123.57" y="111.02" width="8.21" height="7.74" fill="#f7b29b"/>
<rect x="130.78" y="111.02" width="8.21" height="7.74" fill="#e4dff0"/>
<rect x="137.98" y="111.02" width="8.21" height="7.74" fill="#f9e4de"/>
<rect x="145.19" y="111.02" width="8.21" height="7.74" fill="#f49176"/>
<rect x="152.4" y="111.02" width="8.21" height="7.74" fill="#f7b29b"/>
<rect x="159.61" y="111.02" width="8.21" height="7.74" fill="#facdbe"/>
<rect x="166.82" y="111.02" width="8.21" height="7.74" fill="#f7b29b"/>
<rect x="174.03" y="111.02" width="8.21" height="7.74" fill="#f2eef2"/>
<rect x="181.24" y="111.02" width="8.21" height="7.74" fill="#d0c7e8"/>
<rect x="188.45" y="111.02" width="8.21" height="7.74" fill="#f7b29b"/>
<rect x="195.66" y="111.02" width="8.21" height="7.74" fill="#f2eef2"/>
<rect x="202.87" y="111.02" width="8.21" height="7.74" fill="#f9e4de"/>
<rect x="210.07" y="111.02" width="8.21" height="7.74" fill="#e4dff0"/>
<rect x="217.28" y="111.02" width="8.21" height="7.74" fill="#f7b29b"/>
<rect x="224.49" y="111.02" width="8.21" height="7.74" fill="#f7b29b"/>
<rect x="231.7" y="111.02" width="8.21" height="7.74" fill="#facdbe"/>
<rect x="238.91" y="111.02" width="7.19" height="7.74" fill="#f7b29b"/>
<rect x="248" y="111.02" width="8.01" height="7.74" fill="#facdbe"/>
<rect x="255.01" y="111.02" width="8.21" height="7.74" fill="#f2eef2"/>
<rect x="262.22" y="111.02" width="8.21" height="7.74" fill="#facdbe"/>
<rect x="269.43" y="111.02" width="8.21" height="7.74" fill="#f2eef2"/>
<rect x="276.64" y="111.02" width="8.21" height="7.74" fill="#f2eef2"/>
<rect x="283.85" y="111.02" width="8.21" height="7.74" fill="#f7b29b"/>
<rect x="291.05" y="111.02" width="8.21" height="7.74" fill="#facdbe"/>
<rect x="298.26" y="111.02" width="8.21" height="7.74" fill="#f2eef2"/>
<rect x="305.47" y="111.02" width="8.21" height="7.74" fill="#f2eef2"/>
<rect x="312.68" y="111.02" width="8.21" height="7.74" fill="#e4dff0"/>
<rect x="319.89" y="111.02" width="8.21" height="7.74" fill="#f2eef2"/>
<rect x="327.1" y="111.02" width="8.21" height="7.74" fill="#facdbe"/>
<rect x="334.31" y="111.02" width="8.21" height="7.74" fill="#f2eef2"/>
<rect x="341.52" y="111.02" width="8.21" height="7.74" fill="#f7b29b"/>
<rect x="348.73" y="111.02" width="7.17" height="7.74" fill="#f7b29b"/>
<rect x="358" y="111.02" width="7.81" height="7.74" fill="#9d8bcc"/>
<rect x="364.81" y="111.02" width="8.21" height="7.74" fill="#7a67bc"/>
<rect x="372.02" y="111.02" width="8.21" height="7.74" fill="#9d8bcc"/>
<rect x="379.23" y="111.02" width="8.21" height="7.74" fill="#f2eef2"/>
<rect x="386.44" y="111.02" width="8.21" height="7.74" fill="#d0c7e8"/>
<rect x="393.65" y="111.02" width="8.21" height="7.74" fill="#324baa"/>
<rect x="400.85" y="111.02" width="8.21" height="7.74" fill="#7a67bc"/>
<rect x="408.06" y="111.02" width="8.21" height="7.74" fill="#9d8bcc"/>
<rect x="415.27" y="111.02" width="8.21" height="7.74" fill="#7a67bc"/>
<rect x="422.48" y="111.02" width="8.21" height="7.74" fill="#d0c7e8"/>
<rect x="429.69" y="111.02" width="8.21" height="7.74" fill="#7a67bc"/>
<rect x="436.9" y="111.02" width="8.21" height="7.74" fill="#d0c7e8"/>
<rect x="444.11" y="111.02" width="6.89" height="7.74" fill="#d0c7e8"/>
<rect x="30.9" y="117.76" width="7.16" height="7.74" fill="#facdbe"/>
<rect x="37.06" y="117.76" width="8.21" height="7.74" fill="#e4dff0"/>
<rect x="44.27" y="117.76" width="8.21" height="7.74" fill="#9d8bcc"/>
<rect x="51.48" y="117.76" width="8.21" height="7.74" fill="#f2eef2"/>
<rect x="58.69" y="117.76" width="8.21" height="7.74" fill="#e4dff0"/>
<rect x="65.9" y="117.76" width="8.21" height="7.74" fill="#f7b29b"/>
<rect x="73.1" y="117.76" width="8.21" height="7.74" fill="#facdbe"/>
<rect x="80.31" y="117.76" width="8.21" height="7.74" fill="#f9e4de"/>
<rect x="87.52" y="117.76" width="8.21" height="7.74" fill="#f2eef2"/>
<rect x="94.73" y="117.76" width="8.21" height="7.74" fill="#f49176"/>
<rect x="101.94" y="117.76" width="8.21" height="7.74" fill="#f37a5c"/>
<rect x="109.15" y="117.76" width="8.21" height="7.74" fill="#f49176"/>
<rect x="116.36" y="117.76" width="8.21" height="7.74" fill="#f05f41"/>
<rect x="123.57" y="117.76" width="8.21" height="7.74" fill="#f05f41"/>
<rect x="130.78" y="117.76" width="8.21" height="7.74" fill="#f49176"/>
<rect x="137.98" y="117.76" width="8.21" height="7.74" fill="#f9e4de"/>
<rect x="145.19" y="117.76" width="8.21" height="7.74" fill="#f7b29b"/>
<rect x="152.4" y="117.76" width="8.21" height="7.74" fill="#f49176"/>
<rect x="159.61" y="117.76" width="8.21" height="7.74" fill="#f49176"/>
<rect x="166.82" y="117.76" width="8.21" height="7.74" fill="#f49176"/>
<rect x="174.03" y="117.76" width="8.21" height="7.74" fill="#e4dff0"/>
<rect x="181.24" y="117.76" width="8.21" height="7.74" fill="#f2eef2"/>
<rect x="188.45" y="117.76" width="8.21" height="7.74" fill="#f49176"/>
<rect x="195.66" y="117.76" width="8.21" height="7.74" fill="#e4dff0"/>
<rect x="202.87" y="117.76" width="8.21" height="7.74" fill="#f7b29b"/>
<rect x="210.07" y="117.76" width="8.21" height="7.74" fill="#f49176"/>
<rect x="217.28" y="117.76" width="8.21" height="7.74" fill="#f2eef2"/>
<rect x="224.49" y="117.76" width="8.21" height="7.74" fill="#7a67bc"/>
<rect x="231.7" y="117.76" width="8.21" height="7.74" fill="#facdbe"/>
<rect x="238.91" y="117.76" width="7.19" height="7.74" fill="#f2eef2"/>
<rect x="248" y="117.76" width="8.01" height="7.74" fill="#e4dff0"/>
<rect x="255.01" y="117.76" width="8.21" height="7.74" fill="#f2eef2"/>
<rect x="262.22" y="117.76" width="8.21" height="7.74" fill="#f9e4de"/>
<rect x="269.43" y="117.76" width="8.21" height="7.74" fill="#f2eef2"/>
<rect x="276.64" y="117.76" width="8.21" height="7.74" fill="#d0c7e8"/>
<rect x="283.85" y="117.76" width="8.21" height="7.74" fill="#e82326"/>
<rect x="291.05" y="117.76" width="8.21" height="7.74" fill="#f2eef2"/>
<rect x="298.26" y="117.76" width="8.21" height="7.74" fill="#facdbe"/>
<rect x="305.47" y="117.76" width="8.21" height="7.74" fill="#9d8bcc"/>
<rect x="312.68" y="117.76" width="8.21" height="7.74" fill="#d0c7e8"/>
<rect x="319.89" y="117.76" width="8.21" height="7.74" fill="#9d8bcc"/>
<rect x="327.1" y="117.76" width="8.21" height="7.74" fill="#e4dff0"/>
<rect x="334.31" y="117.76" width="8.21" height="7.74" fill="#f2eef2"/>
<rect x="341.52" y="117.76" width="8.21" height="7.74" fill="#d0c7e8"/>
<rect x="348.73" y="117.76" width="7.17" height="7.74" fill="#f9e4de"/>
<rect x="358" y="117.76" width="7.81" height="7.74" fill="#f2eef2"/>
<rect x="364.81" y="117.76" width="8.21" height="7.74" fill="#7a67bc"/>
<rect x="372.02" y="117.76" width="8.21" height="7.74" fill="#7a67bc"/>
<rect x="379.23" y="117.76" width="8.21" height="7.74" fill="#9d8bcc"/>
<rect x="386.44" y="117.76" width="8.21" height="7.74" fill="#7a67bc"/>
<rect x="393.65" y="117.76" width="8.21" height="7.74" fill="#324baa"/>
<rect x="400.85" y="117.76" width="8.21" height="7.74" fill="#7a67bc"/>
<rect x="408.06" y="117.76" width="8.21" height="7.74" fill="#7a67bc"/>
<rect x="415.27" y="117.76" width="8.21" height="7.74" fill="#9d8bcc"/>
<rect x="422.48" y="117.76" width="8.21" height="7.74" fill="#f2eef2"/>
<rect x="429.69" y="117.76" width="8.21" height="7.74" fill="#5a55af"/>
<rect x="436.9" y="117.76" width="8.21" height="7.74" fill="#7a67bc"/>
<rect x="444.11" y="117.76" width="6.89" height="7.74" fill="#e4dff0"/>
<rect x="30.9" y="124.5" width="7.16" height="7.74" fill="#324baa"/>
<rect x="37.06" y="124.5" width="8.21" height="7.74" fill="#e4dff0"/>
<rect x="44.27" y="124.5" width="8.21" height="7.74" fill="#5a55af"/>
<rect x="51.48" y="124.5" width="8.21" height="7.74" fill="#e4dff0"/>
<rect x="58.69" y="124.5" width="8.21" height="7.74" fill="#e4dff0"/>
<rect x="65.9" y="124.5" width="8.21" height="7.74" fill="#f49176"/>
<rect x="73.1" y="124.5" width="8.21" height="7.74" fill="#f7b29b"/>
<rect x="80.31" y="124.5" width="8.21" height="7.74" fill="#f7b29b"/>
<rect x="87.52" y="124.5" width="8.21" height="7.74" fill="#f7b29b"/>
<rect x="94.73" y="124.5" width="8.21" height="7.74" fill="#f37a5c"/>
<rect x="101.94" y="124.5" width="8.21" height="7.74" fill="#f49176"/>
<rect x="109.15" y="124.5" width="8.21" height="7.74" fill="#f37a5c"/>
<rect x="116.36" y="124.5" width="8.21" height="7.74" fill="#f7b29b"/>
<rect x="123.57" y="124.5" width="8.21" height="7.74" fill="#facdbe"/>
<rect x="130.78" y="124.5" width="8.21" height="7.74" fill="#f7b29b"/>
<rect x="137.98" y="124.5" width="8.21" height="7.74" fill="#f9e4de"/>
<rect x="145.19" y="124.5" width="8.21" height="7.74" fill="#f49176"/>
<rect x="152.4" y="124.5" width="8.21" height="7.74" fill="#f37a5c"/>
<rect x="159.61" y="124.5" width="8.21" height="7.74" fill="#facdbe"/>
<rect x="166.82" y="124.5" width="8.21" height="7.74" fill="#f7b29b"/>
<rect x="174.03" y="124.5" width="8.21" height="7.74" fill="#d0c7e8"/>
<rect x="181.24" y="124.5" width="8.21" height="7.74" fill="#f7b29b"/>
<rect x="188.45" y="124.5" width="8.21" height="7.74" fill="#f2eef2"/>
<rect x="195.66" y="124.5" width="8.21" height="7.74" fill="#facdbe"/>
<rect x="202.87" y="124.5" width="8.21" height="7.74" fill="#f7b29b"/>
<rect x="210.07" y="124.5" width="8.21" height="7.74" fill="#f49176"/>
<rect x="217.28" y="124.5" width="8.21" height="7.74" fill="#facdbe"/>
<rect x="224.49" y="124.5" width="8.21" height="7.74" fill="#d0c7e8"/>
<rect x="231.7" y="124.5" width="8.21" height="7.74" fill="#f49176"/>
<rect x="238.91" y="124.5" width="7.19" height="7.74" fill="#facdbe"/>
<rect x="248" y="124.5" width="8.01" height="7.74" fill="#f7b29b"/>
<rect x="255.01" y="124.5" width="8.21" height="7.74" fill="#d0c7e8"/>
<rect x="262.22" y="124.5" width="8.21" height="7.74" fill="#d0c7e8"/>
<rect x="269.43" y="124.5" width="8.21" height="7.74" fill="#facdbe"/>
<rect x="276.64" y="124.5" width="8.21" height="7.74" fill="#d0c7e8"/>
<rect x="283.85" y="124.5" width="8.21" height="7.74" fill="#f05f41"/>
<rect x="291.05" y="124.5" width="8.21" height="7.74" fill="#facdbe"/>
<rect x="298.26" y="124.5" width="8.21" height="7.74" fill="#f2eef2"/>
<rect x="305.47" y="124.5" width="8.21" height="7.74" fill="#f7b29b"/>
<rect x="312.68" y="124.5" width="8.21" height="7.74" fill="#d0c7e8"/>
<rect x="319.89" y="124.5" width="8.21" height="7.74" fill="#9d8bcc"/>
<rect x="327.1" y="124.5" width="8.21" height="7.74" fill="#9d8bcc"/>
<rect x="334.31" y="124.5" width="8.21" height="7.74" fill="#f9e4de"/>
<rect x="341.52" y="124.5" width="8.21" height="7.74" fill="#f9e4de"/>
<rect x="348.73" y="124.5" width="7.17" height="7.74" fill="#f2eef2"/>
<rect x="358" y="124.5" width="7.81" height="7.74" fill="#d0c7e8"/>
<rect x="364.81" y="124.5" width="8.21" height="7.74" fill="#d0c7e8"/>
<rect x="372.02" y="124.5" width="8.21" height="7.74" fill="#7a67bc"/>
<rect x="379.23" y="124.5" width="8.21" height="7.74" fill="#d0c7e8"/>
<rect x="386.44" y="124.5" width="8.21" height="7.74" fill="#d0c7e8"/>
<rect x="393.65" y="124.5" width="8.21" height="7.74" fill="#324baa"/>
<rect x="400.85" y="124.5" width="8.21" height="7.74" fill="#d0c7e8"/>
<rect x="408.06" y="124.5" width="8.21" height="7.74" fill="#d0c7e8"/>
<rect x="415.27" y="124.5" width="8.21" height="7.74" fill="#7a67bc"/>
<rect x="422.48" y="124.5" width="8.21" height="7.74" fill="#9d8bcc"/>
<rect x="429.69" y="124.5" width="8.21" height="7.74" fill="#5a55af"/>
<rect x="436.9" y="124.5" width="8.21" height="7.74" fill="#7a67bc"/>
<rect x="444.11" y="124.5" width="6.89" height="7.74" fill="#9d8bcc"/>
<rect x="30.9" y="131.24" width="7.16" height="7.74" fill="#7a67bc"/>
<rect x="37.06" y="131.24" width="8.21" height="7.74" fill="#e4dff0"/>
<rect x="44.27" y="131.24" width="8.21" height="7.74" fill="#9d8bcc"/>
<rect x="51.48" y="131.24" width="8.21" height="7.74" fill="#facdbe"/>
<rect x="58.69" y="131.24" width="8.21" height="7.74" fill="#d0c7e8"/>
<rect x="65.9" y="131.24" width="8.21" height="7.74" fill="#f49176"/>
<rect x="73.1" y="131.24" width="8.21" height="7.74" fill="#f7b29b"/>
<rect x="80.31" y="131.24" width="8.21" height="7.74" fill="#f7b29b"/>
<rect x="87.52" y="131.24" width="8.21" height="7.74" fill="#f7b29b"/>
<rect x="94.73" y="131.24" width="8.21" height="7.74" fill="#f7b29b"/>
<rect x="101.94" y="131.24" width="8.21" height="7.74" fill="#f49176"/>
<rect x="109.15" y="131.24" width="8.21" height="7.74" fill="#f37a5c"/>
<rect x="116.36" y="131.24" width="8.21" height="7.74" fill="#f7b29b"/>
<rect x="123.57" y="131.24" width="8.21" height="7.74" fill="#facdbe"/>
<rect x="130.78" y="131.24" width="8.21" height="7.74" fill="#f49176"/>
<rect x="137.98" y="131.24" width="8.21" height="7.74" fill="#facdbe"/>
<rect x="145.19" y="131.24" width="8.21" height="7.74" fill="#f7b29b"/>
<rect x="152.4" y="131.24" width="8.21" height="7.74" fill="#f49176"/>
<rect x="159.61" y="131.24" width="8.21" height="7.74" fill="#f2eef2"/>
<rect x="166.82" y="131.24" width="8.21" height="7.74" fill="#f7b29b"/>
<rect x="174.03" y="131.24" width="8.21" height="7.74" fill="#f2eef2"/>
<rect x="181.24" y="131.24" width="8.21" height="7.74" fill="#d0c7e8"/>
<rect x="188.45" y="131.24" width="8.21" height="7.74" fill="#f7b29b"/>
<rect x="195.66" y="131.24" width="8.21" height="7.74" fill="#f7b29b"/>
<rect x="202.87" y="131.24" width="8.21" height="7.74" fill="#f49176"/>
<rect x="210.07" y="131.24" width="8.21" height="7.74" fill="#f7b29b"/>
<rect x="217.28" y="131.24" width="8.21" height="7.74" fill="#e4dff0"/>
<rect x="224.49" y="131.24" width="8.21" height="7.74" fill="#e4dff0"/>
<rect x="231.7" y="131.24" width="8.21" height="7.74" fill="#f7b29b"/>
<rect x="238.91" y="131.24" width="7.19" height="7.74" fill="#f9e4de"/>
<rect x="248" y="131.24" width="8.01" height="7.74" fill="#facdbe"/>
<rect x="255.01" y="131.24" width="8.21" height="7.74" fill="#d0c7e8"/>
<rect x="262.22" y="131.24" width="8.21" height="7.74" fill="#facdbe"/>
<rect x="269.43" y="131.24" width="8.21" height="7.74" fill="#9d8bcc"/>
<rect x="276.64" y="131.24" width="8.21" height="7.74" fill="#e4dff0"/>
<rect x="283.85" y="131.24" width="8.21" height="7.74" fill="#f49176"/>
<rect x="291.05" y="131.24" width="8.21" height="7.74" fill="#f9e4de"/>
<rect x="298.26" y="131.24" width="8.21" height="7.74" fill="#f2eef2"/>
<rect x="305.47" y="131.24" width="8.21" height="7.74" fill="#f7b29b"/>
<rect x="312.68" y="131.24" width="8.21" height="7.74" fill="#d0c7e8"/>
<rect x="319.89" y="131.24" width="8.21" height="7.74" fill="#d0c7e8"/>
<rect x="327.1" y="131.24" width="8.21" height="7.74" fill="#d0c7e8"/>
<rect x="334.31" y="131.24" width="8.21" height="7.74" fill="#d0c7e8"/>
<rect x="341.52" y="131.24" width="8.21" height="7.74" fill="#e4dff0"/>
<rect x="348.73" y="131.24" width="7.17" height="7.74" fill="#f9e4de"/>
<rect x="358" y="131.24" width="7.81" height="7.74" fill="#9d8bcc"/>
<rect x="364.81" y="131.24" width="8.21" height="7.74" fill="#7a67bc"/>
<rect x="372.02" y="131.24" width="8.21" height="7.74" fill="#7a67bc"/>
<rect x="379.23" y="131.24" width="8.21" height="7.74" fill="#9d8bcc"/>
<rect x="386.44" y="131.24" width="8.21" height="7.74" fill="#7a67bc"/>
<rect x="393.65" y="131.24" width="8.21" height="7.74" fill="#324baa"/>
<rect x="400.85" y="131.24" width="8.21" height="7.74" fill="#f2eef2"/>
<rect x="408.06" y="131.24" width="8.21" height="7.74" fill="#d0c7e8"/>
<rect x="415.27" y="131.24" width="8.21" height="7.74" fill="#d0c7e8"/>
<rect x="422.48" y="131.24" width="8.21" height="7.74" fill="#9d8bcc"/>
<rect x="429.69" y="131.24" width="8.21" height="7.74" fill="#7a67bc"/>
<rect x="436.9" y="131.24" width="8.21" height="7.74" fill="#d0c7e8"/>
<rect x="444.11" y="131.24" width="6.89" height="7.74" fill="#9d8bcc"/>
<rect x="30.9" y="137.98" width="7.16" height="7.74" fill="#d0c7e8"/>
<rect x="37.06" y="137.98" width="8.21" height="7.74" fill="#d0c7e8"/>
<rect x="44.27" y="137.98" width="8.21" height="7.74" fill="#d0c7e8"/>
<rect x="51.48" y="137.98" width="8.21" height="7.74" fill="#e4dff0"/>
<rect x="58.69" y="137.98" width="8.21" height="7.74" fill="#facdbe"/>
<rect x="65.9" y="137.98" width="8.21" height="7.74" fill="#f9e4de"/>
<rect x="73.1" y="137.98" width="8.21" height="7.74" fill="#f7b29b"/>
<rect x="80.31" y="137.98" width="8.21" height="7.74" fill="#facdbe"/>
<rect x="87.52" y="137.98" width="8.21" height="7.74" fill="#f7b29b"/>
<rect x="94.73" y="137.98" width="8.21" height="7.74" fill="#f9e4de"/>
<rect x="101.94" y="137.98" width="8.21" height="7.74" fill="#f49176"/>
<rect x="109.15" y="137.98" width="8.21" height="7.74" fill="#f7b29b"/>
<rect x="116.36" y="137.98" width="8.21" height="7.74" fill="#f49176"/>
<rect x="123.57" y="137.98" width="8.21" height="7.74" fill="#f37a5c"/>
<rect x="130.78" y="137.98" width="8.21" height="7.74" fill="#facdbe"/>
<rect x="137.98" y="137.98" width="8.21" height="7.74" fill="#f37a5c"/>
<rect x="145.19" y="137.98" width="8.21" height="7.74" fill="#e4dff0"/>
<rect x="152.4" y="137.98" width="8.21" height="7.74" fill="#f2eef2"/>
<rect x="159.61" y="137.98" width="8.21" height="7.74" fill="#f2eef2"/>
<rect x="166.82" y="137.98" width="8.21" height="7.74" fill="#facdbe"/>
<rect x="174.03" y="137.98" width="8.21" height="7.74" fill="#e4dff0"/>
<rect x="181.24" y="137.98" width="8.21" height="7.74" fill="#f7b29b"/>
<rect x="188.45" y="137.98" width="8.21" height="7.74" fill="#f7b29b"/>
<rect x="195.66" y="137.98" width="8.21" height="7.74" fill="#f7b29b"/>
<rect x="202.87" y="137.98" width="8.21" height="7.74" fill="#facdbe"/>
<rect x="210.07" y="137.98" width="8.21" height="7.74" fill="#d0c7e8"/>
<rect x="217.28" y="137.98" width="8.21" height="7.74" fill="#f7b29b"/>
<rect x="224.49" y="137.98" width="8.21" height="7.74" fill="#facdbe"/>
<rect x="231.7" y="137.98" width="8.21" height="7.74" fill="#f05f41"/>
<rect x="238.91" y="137.98" width="7.19" height="7.74" fill="#f37a5c"/>
<rect x="248" y="137.98" width="8.01" height="7.74" fill="#facdbe"/>
<rect x="255.01" y="137.98" width="8.21" height="7.74" fill="#f2eef2"/>
<rect x="262.22" y="137.98" width="8.21" height="7.74" fill="#facdbe"/>
<rect x="269.43" y="137.98" width="8.21" height="7.74" fill="#f2eef2"/>
<rect x="276.64" y="137.98" width="8.21" height="7.74" fill="#7a67bc"/>
<rect x="283.85" y="137.98" width="8.21" height="7.74" fill="#f49176"/>
<rect x="291.05" y="137.98" width="8.21" height="7.74" fill="#d0c7e8"/>
<rect x="298.26" y="137.98" width="8.21" height="7.74" fill="#d0c7e8"/>
<rect x="305.47" y="137.98" width="8.21" height="7.74" fill="#d0c7e8"/>
<rect x="312.68" y="137.98" width="8.21" height="7.74" fill="#facdbe"/>
<rect x="319.89" y="137.98" width="8.21" height="7.74" fill="#f2eef2"/>
<rect x="327.1" y="137.98" width="8.21" height="7.74" fill="#f2eef2"/>
<rect x="334.31" y="137.98" width="8.21" height="7.74" fill="#facdbe"/>
<rect x="341.52" y="137.98" width="8.21" height="7.74" fill="#f7b29b"/>
<rect x="348.73" y="137.98" width="7.17" height="7.74" fill="#f9e4de"/>
<rect x="358" y="137.98" width="7.81" height="7.74" fill="#facdbe"/>
<rect x="364.81" y="137.98" width="8.21" height="7.74" fill="#7a67bc"/>
<rect x="372.02" y="137.98" width="8.21" height="7.74" fill="#324baa"/>
<rect x="379.23" y="137.98" width="8.21" height="7.74" fill="#9d8bcc"/>
<rect x="386.44" y="137.98" width="8.21" height="7.74" fill="#7a67bc"/>
<rect x="393.65" y="137.98" width="8.21" height="7.74" fill="#5a55af"/>
<rect x="400.85" y="137.98" width="8.21" height="7.74" fill="#9d8bcc"/>
<rect x="408.06" y="137.98" width="8.21" height="7.74" fill="#5a55af"/>
<rect x="415.27" y="137.98" width="8.21" height="7.74" fill="#e4dff0"/>
<rect x="422.48" y="137.98" width="8.21" height="7.74" fill="#e4dff0"/>
<rect x="429.69" y="137.98" width="8.21" height="7.74" fill="#e4dff0"/>
<rect x="436.9" y="137.98" width="8.21" height="7.74" fill="#d0c7e8"/>
<rect x="444.11" y="137.98" width="6.89" height="7.74" fill="#d0c7e8"/>
<rect x="30.9" y="144.72" width="7.16" height="7.74" fill="#d0c7e8"/>
<rect x="37.06" y="144.72" width="8.21" height="7.74" fill="#e4dff0"/>
<rect x="44.27" y="144.72" width="8.21" height="7.74" fill="#9d8bcc"/>
<rect x="51.48" y="144.72" width="8.21" height="7.74" fill="#facdbe"/>
<rect x="58.69" y="144.72" width="8.21" height="7.74" fill="#facdbe"/>
<rect x="65.9" y="144.72" width="8.21" height="7.74" fill="#f05f41"/>
<rect x="73.1" y="144.72" width="8.21" height="7.74" fill="#f7b29b"/>
<rect x="80.31" y="144.72" width="8.21" height="7.74" fill="#f37a5c"/>
<rect x="87.52" y="144.72" width="8.21" height="7.74" fill="#f49176"/>
<rect x="94.73" y="144.72" width="8.21" height="7.74" fill="#f7b29b"/>
<rect x="101.94" y="144.72" width="8.21" height="7.74" fill="#f49176"/>
<rect x="109.15" y="144.72" width="8.21" height="7.74" fill="#f37a5c"/>
<rect x="116.36" y="144.72" width="8.21" height="7.74" fill="#f7b29b"/>
<rect x="123.57" y="144.72" width="8.21" height="7.74" fill="#f7b29b"/>
<rect x="130.78" y="144.72" width="8.21" height="7.74" fill="#facdbe"/>
<rect x="137.98" y="144.72" width="8.21" height="7.74" fill="#f9e4de"/>
<rect x="145.19" y="144.72" width="8.21" height="7.74" fill="#facdbe"/>
<rect x="152.4" y="144.72" width="8.21" height="7.74" fill="#f7b29b"/>
<rect x="159.61" y="144.72" width="8.21" height="7.74" fill="#f7b29b"/>
<rect x="166.82" y="144.72" width="8.21" height="7.74" fill="#facdbe"/>
<rect x="174.03" y="144.72" width="8.21" height="7.74" fill="#5a55af"/>
<rect x="181.24" y="144.72" width="8.21" height="7.74" fill="#9d8bcc"/>
<rect x="188.45" y="144.72" width="8.21" height="7.74" fill="#9d8bcc"/>
<rect x="195.66" y="144.72" width="8.21" height="7.74" fill="#d0c7e8"/>
<rect x="202.87" y="144.72" width="8.21" height="7.74" fill="#7a67bc"/>
<rect x="210.07" y="144.72" width="8.21" height="7.74" fill="#9d8bcc"/>
<rect x="217.28" y="144.72" width="8.21" height="7.74" fill="#f9e4de"/>
<rect x="224.49" y="144.72" width="8.21" height="7.74" fill="#d0c7e8"/>
<rect x="231.7" y="144.72" width="8.21" height="7.74" fill="#f05f41"/>
<rect x="238.91" y="144.72" width="7.19" height="7.74" fill="#f49176"/>
<rect x="248" y="144.72" width="8.01" height="7.74" fill="#f37a5c"/>
<rect x="255.01" y="144.72" width="8.21" height="7.74" fill="#facdbe"/>
<rect x="262.22" y="144.72" width="8.21" height="7.74" fill="#f49176"/>
<rect x="269.43" y="144.72" width="8.21" height="7.74" fill="#d0c7e8"/>
<rect x="276.64" y="144.72" width="8.21" height="7.74" fill="#f9e4de"/>
<rect x="283.85" y="144.72" width="8.21" height="7.74" fill="#e4dff0"/>
<rect x="291.05" y="144.72" width="8.21" height="7.74" fill="#d0c7e8"/>
<rect x="298.26" y="144.72" width="8.21" height="7.74" fill="#facdbe"/>
<rect x="305.47" y="144.72" width="8.21" height="7.74" fill="#d0c7e8"/>
<rect x="312.68" y="144.72" width="8.21" height="7.74" fill="#e4dff0"/>
<rect x="319.89" y="144.72" width="8.21" height="7.74" fill="#e4dff0"/>
<rect x="327.1" y="144.72" width="8.21" height="7.74" fill="#f7b29b"/>
<rect x="334.31" y="144.72" width="8.21" height="7.74" fill="#facdbe"/>
<rect x="341.52" y="144.72" width="8.21" height="7.74" fill="#facdbe"/>
<rect x="348.73" y="144.72" width="7.17" height="7.74" fill="#f9e4de"/>
<rect x="358" y="144.72" width="7.81" height="7.74" fill="#e4dff0"/>
<rect x="364.81" y="144.72" width="8.21" height="7.74" fill="#9d8bcc"/>
<rect x="372.02" y="144.72" width="8.21" height="7.74" fill="#7a67bc"/>
<rect x="379.23" y="144.72" width="8.21" height="7.74" fill="#9d8bcc"/>
<rect x="386.44" y="144.72" width="8.21" height="7.74" fill="#7a67bc"/>
<rect x="393.65" y="144.72" width="8.21" height="7.74" fill="#7a67bc"/>
<rect x="400.85" y="144.72" width="8.21" height="7.74" fill="#d0c7e8"/>
<rect x="408.06" y="144.72" width="8.21" height="7.74" fill="#d0c7e8"/>
<rect x="415.27" y="144.72" width="8.21" height="7.74" fill="#9d8bcc"/>
<rect x="422.48" y="144.72" width="8.21" height="7.74" fill="#e4dff0"/>
<rect x="429.69" y="144.72" width="8.21" height="7.74" fill="#324baa"/>
<rect x="436.9" y="144.72" width="8.21" height="7.74" fill="#d0c7e8"/>
<rect x="444.11" y="144.72" width="6.89" height="7.74" fill="#d0c7e8"/>
<rect x="30.9" y="151.46" width="7.16" height="7.74" fill="#f9e4de"/>
<rect x="37.06" y="151.46" width="8.21" height="7.74" fill="#f2eef2"/>
<rect x="44.27" y="151.46" width="8.21" height="7.74" fill="#7a67bc"/>
<rect x="51.48" y="151.46" width="8.21" height="7.74" fill="#f7b29b"/>
<rect x="58.69" y="151.46" width="8.21" height="7.74" fill="#d0c7e8"/>
<rect x="65.9" y="151.46" width="8.21" height="7.74" fill="#e82326"/>
<rect x="73.1" y="151.46" width="8.21" height="7.74" fill="#f49176"/>
<rect x="80.31" y="151.46" width="8.21" height="7.74" fill="#f7b29b"/>
<rect x="87.52" y="151.46" width="8.21" height="7.74" fill="#e4dff0"/>
<rect x="94.73" y="151.46" width="8.21" height="7.74" fill="#f49176"/>
<rect x="101.94" y="151.46" width="8.21" height="7.74" fill="#facdbe"/>
<rect x="109.15" y="151.46" width="8.21" height="7.74" fill="#facdbe"/>
<rect x="116.36" y="151.46" width="8.21" height="7.74" fill="#facdbe"/>
<rect x="123.57" y="151.46" width="8.21" height="7.74" fill="#facdbe"/>
<rect x="130.78" y="151.46" width="8.21" height="7.74" fill="#e4dff0"/>
<rect x="137.98" y="151.46" width="8.21" height="7.74" fill="#f49176"/>
<rect x="145.19" y="151.46" width="8.21" height="7.74" fill="#facdbe"/>
<rect x="152.4" y="151.46" width="8.21" height="7.74" fill="#facdbe"/>
<rect x="159.61" y="151.46" width="8.21" height="7.74" fill="#e4dff0"/>
<rect x="166.82" y="151.46" width="8.21" height="7.74" fill="#facdbe"/>
<rect x="174.03" y="151.46" width="8.21" height="7.74" fill="#7a67bc"/>
<rect x="181.24" y="151.46" width="8.21" height="7.74" fill="#d0c7e8"/>
<rect x="188.45" y="151.46" width="8.21" height="7.74" fill="#f9e4de"/>
<rect x="195.66" y="151.46" width="8.21" height="7.74" fill="#e4dff0"/>
<rect x="202.87" y="151.46" width="8.21" height="7.74" fill="#e4dff0"/>
<rect x="210.07" y="151.46" width="8.21" height="7.74" fill="#f9e4de"/>
<rect x="217.28" y="151.46" width="8.21" height="7.74" fill="#f7b29b"/>
<rect x="224.49" y="151.46" width="8.21" height="7.74" fill="#f2eef2"/>
<rect x="231.7" y="151.46" width="8.21" height="7.74" fill="#f49176"/>
<rect x="238.91" y="151.46" width="7.19" height="7.74" fill="#f2eef2"/>
<rect x="248" y="151.46" width="8.01" height="7.74" fill="#f2eef2"/>
<rect x="255.01" y="151.46" width="8.21" height="7.74" fill="#d0c7e8"/>
<rect x="262.22" y="151.46" width="8.21" height="7.74" fill="#d0c7e8"/>
<rect x="269.43" y="151.46" width="8.21" height="7.74" fill="#d0c7e8"/>
<rect x="276.64" y="151.46" width="8.21" height="7.74" fill="#9d8bcc"/>
<rect x="283.85" y="151.46" width="8.21" height="7.74" fill="#f9e4de"/>
<rect x="291.05" y="151.46" width="8.21" height="7.74" fill="#f9e4de"/>
<rect x="298.26" y="151.46" width="8.21" height="7.74" fill="#7a67bc"/>
<rect x="305.47" y="151.46" width="8.21" height="7.74" fill="#e4dff0"/>
<rect x="312.68" y="151.46" width="8.21" height="7.74" fill="#e4dff0"/>
<rect x="319.89" y="151.46" width="8.21" height="7.74" fill="#e4dff0"/>
<rect x="327.1" y="151.46" width="8.21" height="7.74" fill="#f9e4de"/>
<rect x="334.31" y="151.46" width="8.21" height="7.74" fill="#facdbe"/>
<rect x="341.52" y="151.46" width="8.21" height="7.74" fill="#f9e4de"/>
<rect x="348.73" y="151.46" width="7.17" height="7.74" fill="#e4dff0"/>
<rect x="358" y="151.46" width="7.81" height="7.74" fill="#d0c7e8"/>
<rect x="364.81" y="151.46" width="8.21" height="7.74" fill="#9d8bcc"/>
<rect x="372.02" y="151.46" width="8.21" height="7.74" fill="#d0c7e8"/>
<rect x="379.23" y="151.46" width="8.21" height="7.74" fill="#e4dff0"/>
<rect x="386.44" y="151.46" width="8.21" height="7.74" fill="#5a55af"/>
<rect x="393.65" y="151.46" width="8.21" height="7.74" fill="#9d8bcc"/>
<rect x="400.85" y="151.46" width="8.21" height="7.74" fill="#324baa"/>
<rect x="408.06" y="151.46" width="8.21" height="7.74" fill="#9d8bcc"/>
<rect x="415.27" y="151.46" width="8.21" height="7.74" fill="#9d8bcc"/>
<rect x="422.48" y="151.46" width="8.21" height="7.74" fill="#d0c7e8"/>
<rect x="429.69" y="151.46" width="8.21" height="7.74" fill="#9d8bcc"/>
<rect x="436.9" y="151.46" width="8.21" height="7.74" fill="#e4dff0"/>
<rect x="444.11" y="151.46" width="6.89" height="7.74" fill="#d0c7e8"/>
<rect x="30.9" y="158.2" width="7.16" height="7.74" fill="#9d8bcc"/>
<rect x="37.06" y="158.2" width="8.21" height="7.74" fill="#e4dff0"/>
<rect x="44.27" y="158.2" width="8.21" height="7.74" fill="#facdbe"/>
<rect x="51.48" y="158.2" width="8.21" height="7.74" fill="#d0c7e8"/>
<rect x="58.69" y="158.2" width="8.21" height="7.74" fill="#f9e4de"/>
<rect x="65.9" y="158.2" width="8.21" height="7.74" fill="#f9e4de"/>
<rect x="73.1" y="158.2" width="8.21" height="7.74" fill="#facdbe"/>
<rect x="80.31" y="158.2" width="8.21" height="7.74" fill="#facdbe"/>
<rect x="87.52" y="158.2" width="8.21" height="7.74" fill="#d0c7e8"/>
<rect x="94.73" y="158.2" width="8.21" height="7.74" fill="#facdbe"/>
<rect x="101.94" y="158.2" width="8.21" height="7.74" fill="#f9e4de"/>
<rect x="109.15" y="158.2" width="8.21" height="7.74" fill="#f7b29b"/>
<rect x="116.36" y="158.2" width="8.21" height="7.74" fill="#f7b29b"/>
<rect x="123.57" y="158.2" width="8.21" height="7.74" fill="#f7b29b"/>
<rect x="130.78" y="158.2" width="8.21" height="7.74" fill="#facdbe"/>
<rect x="137.98" y="158.2" width="8.21" height="7.74" fill="#f2eef2"/>
<rect x="145.19" y="158.2" width="8.21" height="7.74" fill="#f7b29b"/>
<rect x="152.4" y="158.2" width="8.21" height="7.74" fill="#facdbe"/>
<rect x="159.61" y="158.2" width="8.21" height="7.74" fill="#f49176"/>
<rect x="166.82" y="158.2" width="8.21" height="7.74" fill="#e4dff0"/>
<rect x="174.03" y="158.2" width="8.21" height="7.74" fill="#f49176"/>
<rect x="181.24" y="158.2" width="8.21" height="7.74" fill="#f49176"/>
<rect x="188.45" y="158.2" width="8.21" height="7.74" fill="#f37a5c"/>
<rect x="195.66" y="158.2" width="8.21" height="7.74" fill="#f7b29b"/>
<rect x="202.87" y="158.2" width="8.21" height="7.74" fill="#f9e4de"/>
<rect x="210.07" y="158.2" width="8.21" height="7.74" fill="#f9e4de"/>
<rect x="217.28" y="158.2" width="8.21" height="7.74" fill="#f7b29b"/>
<rect x="224.49" y="158.2" width="8.21" height="7.74" fill="#f7b29b"/>
<rect x="231.7" y="158.2" width="8.21" height="7.74" fill="#f7b29b"/>
<rect x="238.91" y="158.2" width="7.19" height="7.74" fill="#f7b29b"/>
<rect x="248" y="158.2" width="8.01" height="7.74" fill="#facdbe"/>
<rect x="255.01" y="158.2" width="8.21" height="7.74" fill="#f7b29b"/>
<rect x="262.22" y="158.2" width="8.21" height="7.74" fill="#f7b29b"/>
<rect x="269.43" y="158.2" width="8.21" height="7.74" fill="#facdbe"/>
<rect x="276.64" y="158.2" width="8.21" height="7.74" fill="#d0c7e8"/>
<rect x="283.85" y="158.2" width="8.21" height="7.74" fill="#f2eef2"/>
<rect x="291.05" y="158.2" width="8.21" height="7.74" fill="#facdbe"/>
<rect x="298.26" y="158.2" width="8.21" height="7.74" fill="#324baa"/>
<rect x="305.47" y="158.2" width="8.21" height="7.74" fill="#facdbe"/>
<rect x="312.68" y="158.2" width="8.21" height="7.74" fill="#facdbe"/>
<rect x="319.89" y="158.2" width="8.21" height="7.74" fill="#e4dff0"/>
<rect x="327.1" y="158.2" width="8.21" height="7.74" fill="#d0c7e8"/>
<rect x="334.31" y="158.2" width="8.21" height="7.74" fill="#9d8bcc"/>
<rect x="341.52" y="158.2" width="8.21" height="7.74" fill="#d0c7e8"/>
<rect x="348.73" y="158.2" width="7.17" height="7.74" fill="#d0c7e8"/>
<rect x="358" y="158.2" width="7.81" height="7.74" fill="#324baa"/>
<rect x="364.81" y="158.2" width="8.21" height="7.74" fill="#e4dff0"/>
<rect x="372.02" y="158.2" width="8.21" height="7.74" fill="#e4dff0"/>
<rect x="379.23" y="158.2" width="8.21" height="7.74" fill="#f2eef2"/>
<rect x="386.44" y="158.2" width="8.21" height="7.74" fill="#d0c7e8"/>
<rect x="393.65" y="158.2" width="8.21" height="7.74" fill="#9d8bcc"/>
<rect x="400.85" y="158.2" width="8.21" height="7.74" fill="#324baa"/>
<rect x="408.06" y="158.2" width="8.21" height="7.74" fill="#f2eef2"/>
<rect x="415.27" y="158.2" width="8.21" height="7.74" fill="#324baa"/>
<rect x="422.48" y="158.2" width="8.21" height="7.74" fill="#7a67bc"/>
<rect x="429.69" y="158.2" width="8.21" height="7.74" fill="#d0c7e8"/>
<rect x="436.9" y="158.2" width="8.21" height="7.74" fill="#9d8bcc"/>
<rect x="444.11" y="158.2" width="6.89" height="7.74" fill="#7a67bc"/>
<rect x="30.9" y="164.94" width="7.16" height="7.74" fill="#9d8bcc"/>
<rect x="37.06" y="164.94" width="8.21" height="7.74" fill="#9d8bcc"/>
<rect x="44.27" y="164.94" width="8.21" height="7.74" fill="#e4dff0"/>
<rect x="51.48" y="164.94" width="8.21" height="7.74" fill="#f05f41"/>
<rect x="58.69" y="164.94" width="8.21" height="7.74" fill="#f9e4de"/>
<rect x="65.9" y="164.94" width="8.21" height="7.74" fill="#f7b29b"/>
<rect x="73.1" y="164.94" width="8.21" height="7.74" fill="#f7b29b"/>
<rect x="80.31" y="164.94" width="8.21" height="7.74" fill="#f7b29b"/>
<rect x="87.52" y="164.94" width="8.21" height="7.74" fill="#f05f41"/>
<rect x="94.73" y="164.94" width="8.21" height="7.74" fill="#f49176"/>
<rect x="101.94" y="164.94" width="8.21" height="7.74" fill="#f7b29b"/>
<rect x="109.15" y="164.94" width="8.21" height="7.74" fill="#f37a5c"/>
<rect x="116.36" y="164.94" width="8.21" height="7.74" fill="#f7b29b"/>
<rect x="123.57" y="164.94" width="8.21" height="7.74" fill="#f49176"/>
<rect x="130.78" y="164.94" width="8.21" height="7.74" fill="#e4dff0"/>
<rect x="137.98" y="164.94" width="8.21" height="7.74" fill="#9d8bcc"/>
<rect x="145.19" y="164.94" width="8.21" height="7.74" fill="#9d8bcc"/>
<rect x="152.4" y="164.94" width="8.21" height="7.74" fill="#d0c7e8"/>
<rect x="159.61" y="164.94" width="8.21" height="7.74" fill="#f37a5c"/>
<rect x="166.82" y="164.94" width="8.21" height="7.74" fill="#d0c7e8"/>
<rect x="174.03" y="164.94" width="8.21" height="7.74" fill="#e4dff0"/>
<rect x="181.24" y="164.94" width="8.21" height="7.74" fill="#9d8bcc"/>
<rect x="188.45" y="164.94" width="8.21" height="7.74" fill="#d0c7e8"/>
<rect x="195.66" y="164.94" width="8.21" height="7.74" fill="#9d8bcc"/>
<rect x="202.87" y="164.94" width="8.21" height="7.74" fill="#f2eef2"/>
<rect x="210.07" y="164.94" width="8.21" height="7.74" fill="#d0c7e8"/>
<rect x="217.28" y="164.94" width="8.21" height="7.74" fill="#9d8bcc"/>
<rect x="224.49" y="164.94" width="8.21" height="7.74" fill="#d0c7e8"/>
<rect x="231.7" y="164.94" width="8.21" height="7.74" fill="#d0c7e8"/>
<rect x="238.91" y="164.94" width="7.19" height="7.74" fill="#d0c7e8"/>
<rect x="248" y="164.94" width="8.01" height="7.74" fill="#f37a5c"/>
<rect x="255.01" y="164.94" width="8.21" height="7.74" fill="#f05f41"/>
<rect x="262.22" y="164.94" width="8.21" height="7.74" fill="#f05f41"/>
<rect x="269.43" y="164.94" width="8.21" height="7.74" fill="#f9e4de"/>
<rect x="276.64" y="164.94" width="8.21" height="7.74" fill="#9d8bcc"/>
<rect x="283.85" y="164.94" width="8.21" height="7.74" fill="#f7b29b"/>
<rect x="291.05" y="164.94" width="8.21" height="7.74" fill="#d0c7e8"/>
<rect x="298.26" y="164.94" width="8.21" height="7.74" fill="#f7b29b"/>
<rect x="305.47" y="164.94" width="8.21" height="7.74" fill="#9d8bcc"/>
<rect x="312.68" y="164.94" width="8.21" height="7.74" fill="#d0c7e8"/>
<rect x="319.89" y="164.94" width="8.21" height="7.74" fill="#d0c7e8"/>
<rect x="327.1" y="164.94" width="8.21" height="7.74" fill="#9d8bcc"/>
<rect x="334.31" y="164.94" width="8.21" height="7.74" fill="#facdbe"/>
<rect x="341.52" y="164.94" width="8.21" height="7.74" fill="#d0c7e8"/>
<rect x="348.73" y="164.94" width="7.17" height="7.74" fill="#e4dff0"/>
<rect x="358" y="164.94" width="7.81" height="7.74" fill="#f2eef2"/>
<rect x="364.81" y="164.94" width="8.21" height="7.74" fill="#d0c7e8"/>
<rect x="372.02" y="164.94" width="8.21" height="7.74" fill="#d0c7e8"/>
<rect x="379.23" y="164.94" width="8.21" height="7.74" fill="#9d8bcc"/>
<rect x="386.44" y="164.94" width="8.21" height="7.74" fill="#f9e4de"/>
<rect x="393.65" y="164.94" width="8.21" height="7.74" fill="#f9e4de"/>
<rect x="400.85" y="164.94" width="8.21" height="7.74" fill="#d0c7e8"/>
<rect x="408.06" y="164.94" width="8.21" height="7.74" fill="#9d8bcc"/>
<rect x="415.27" y="164.94" width="8.21" height="7.74" fill="#9d8bcc"/>
<rect x="422.48" y="164.94" width="8.21" height="7.74" fill="#f2eef2"/>
<rect x="429.69" y="164.94" width="8.21" height="7.74" fill="#9d8bcc"/>
<rect x="436.9" y="164.94" width="8.21" height="7.74" fill="#7a67bc"/>
<rect x="444.11" y="164.94" width="6.89" height="7.74" fill="#d0c7e8"/>
<rect x="30.9" y="171.68" width="7.16" height="7.74" fill="#324baa"/>
<rect x="37.06" y="171.68" width="8.21" height="7.74" fill="#324baa"/>
<rect x="44.27" y="171.68" width="8.21" height="7.74" fill="#9d8bcc"/>
<rect x="51.48" y="171.68" width="8.21" height="7.74" fill="#f7b29b"/>
<rect x="58.69" y="171.68" width="8.21" height="7.74" fill="#d0c7e8"/>
<rect x="65.9" y="171.68" width="8.21" height="7.74" fill="#f7b29b"/>
<rect x="73.1" y="171.68" width="8.21" height="7.74" fill="#f7b29b"/>
<rect x="80.31" y="171.68" width="8.21" height="7.74" fill="#f7b29b"/>
<rect x="87.52" y="171.68" width="8.21" height="7.74" fill="#facdbe"/>
<rect x="94.73" y="171.68" width="8.21" height="7.74" fill="#9d8bcc"/>
<rect x="101.94" y="171.68" width="8.21" height="7.74" fill="#d0c7e8"/>
<rect x="109.15" y="171.68" width="8.21" height="7.74" fill="#f9e4de"/>
<rect x="116.36" y="171.68" width="8.21" height="7.74" fill="#e4dff0"/>
<rect x="123.57" y="171.68" width="8.21" height="7.74" fill="#f7b29b"/>
<rect x="130.78" y="171.68" width="8.21" height="7.74" fill="#facdbe"/>
<rect x="137.98" y="171.68" width="8.21" height="7.74" fill="#facdbe"/>
<rect x="145.19" y="171.68" width="8.21" height="7.74" fill="#d0c7e8"/>
<rect x="152.4" y="171.68" width="8.21" height="7.74" fill="#e4dff0"/>
<rect x="159.61" y="171.68" width="8.21" height="7.74" fill="#f7b29b"/>
<rect x="166.82" y="171.68" width="8.21" height="7.74" fill="#e4dff0"/>
<rect x="174.03" y="171.68" width="8.21" height="7.74" fill="#e4dff0"/>
<rect x="181.24" y="171.68" width="8.21" height="7.74" fill="#5a55af"/>
<rect x="188.45" y="171.68" width="8.21" height="7.74" fill="#324baa"/>
<rect x="195.66" y="171.68" width="8.21" height="7.74" fill="#324baa"/>
<rect x="202.87" y="171.68" width="8.21" height="7.74" fill="#324baa"/>
<rect x="210.07" y="171.68" width="8.21" height="7.74" fill="#324baa"/>
<rect x="217.28" y="171.68" width="8.21" height="7.74" fill="#facdbe"/>
<rect x="224.49" y="171.68" width="8.21" height="7.74" fill="#9d8bcc"/>
<rect x="231.7" y="171.68" width="8.21" height="7.74" fill="#f9e4de"/>
<rect x="238.91" y="171.68" width="7.19" height="7.74" fill="#d0c7e8"/>
<rect x="248" y="171.68" width="8.01" height="7.74" fill="#f37a5c"/>
<rect x="255.01" y="171.68" width="8.21" height="7.74" fill="#d0c7e8"/>
<rect x="262.22" y="171.68" width="8.21" height="7.74" fill="#f7b29b"/>
<rect x="269.43" y="171.68" width="8.21" height="7.74" fill="#f7b29b"/>
<rect x="276.64" y="171.68" width="8.21" height="7.74" fill="#324baa"/>
<rect x="283.85" y="171.68" width="8.21" height="7.74" fill="#d0c7e8"/>
<rect x="291.05" y="171.68" width="8.21" height="7.74" fill="#f7b29b"/>
<rect x="298.26" y="171.68" width="8.21" height="7.74" fill="#5a55af"/>
<rect x="305.47" y="171.68" width="8.21" height="7.74" fill="#f9e4de"/>
<rect x="312.68" y="171.68" width="8.21" height="7.74" fill="#f7b29b"/>
<rect x="319.89" y="171.68" width="8.21" height="7.74" fill="#f7b29b"/>
<rect x="327.1" y="171.68" width="8.21" height="7.74" fill="#facdbe"/>
<rect x="334.31" y="171.68" width="8.21" height="7.74" fill="#f37a5c"/>
<rect x="341.52" y="171.68" width="8.21" height="7.74" fill="#9d8bcc"/>
<rect x="348.73" y="171.68" width="7.17" height="7.74" fill="#f9e4de"/>
<rect x="358" y="171.68" width="7.81" height="7.74" fill="#f7b29b"/>
<rect x="364.81" y="171.68" width="8.21" height="7.74" fill="#f7b29b"/>
<rect x="372.02" y="171.68" width="8.21" height="7.74" fill="#f7b29b"/>
<rect x="379.23" y="171.68" width="8.21" height="7.74" fill="#f7b29b"/>
<rect x="386.44" y="171.68" width="8.21" height="7.74" fill="#f7b29b"/>
<rect x="393.65" y="171.68" width="8.21" height="7.74" fill="#f49176"/>
<rect x="400.85" y="171.68" width="8.21" height="7.74" fill="#f7b29b"/>
<rect x="408.06" y="171.68" width="8.21" height="7.74" fill="#f7b29b"/>
<rect x="415.27" y="171.68" width="8.21" height="7.74" fill="#f7b29b"/>
<rect x="422.48" y="171.68" width="8.21" height="7.74" fill="#facdbe"/>
<rect x="429.69" y="171.68" width="8.21" height="7.74" fill="#facdbe"/>
<rect x="436.9" y="171.68" width="8.21" height="7.74" fill="#f7b29b"/>
<rect x="444.11" y="171.68" width="6.89" height="7.74" fill="#f49176"/>
<rect x="30.9" y="178.42" width="7.16" height="7.74" fill="#9d8bcc"/>
<rect x="37.06" y="178.42" width="8.21" height="7.74" fill="#d0c7e8"/>
<rect x="44.27" y="178.42" width="8.21" height="7.74" fill="#d0c7e8"/>
<rect x="51.48" y="178.42" width="8.21" height="7.74" fill="#facdbe"/>
<rect x="58.69" y="178.42" width="8.21" height="7.74" fill="#f2eef2"/>
<rect x="65.9" y="178.42" width="8.21" height="7.74" fill="#e4dff0"/>
<rect x="73.1" y="178.42" width="8.21" height="7.74" fill="#facdbe"/>
<rect x="80.31" y="178.42" width="8.21" height="7.74" fill="#e4dff0"/>
<rect x="87.52" y="178.42" width="8.21" height="7.74" fill="#facdbe"/>
<rect x="94.73" y="178.42" width="8.21" height="7.74" fill="#facdbe"/>
<rect x="101.94" y="178.42" width="8.21" height="7.74" fill="#d0c7e8"/>
<rect x="109.15" y="178.42" width="8.21" height="7.74" fill="#e4dff0"/>
<rect x="116.36" y="178.42" width="8.21" height="7.74" fill="#e4dff0"/>
<rect x="123.57" y="178.42" width="8.21" height="7.74" fill="#d0c7e8"/>
<rect x="130.78" y="178.42" width="8.21" height="7.74" fill="#f2eef2"/>
<rect x="137.98" y="178.42" width="8.21" height="7.74" fill="#d0c7e8"/>
<rect x="145.19" y="178.42" width="8.21" height="7.74" fill="#9d8bcc"/>
<rect x="152.4" y="178.42" width="8.21" height="7.74" fill="#9d8bcc"/>
<rect x="159.61" y="178.42" width="8.21" height="7.74" fill="#f7b29b"/>
<rect x="166.82" y="178.42" width="8.21" height="7.74" fill="#facdbe"/>
<rect x="174.03" y="178.42" width="8.21" height="7.74" fill="#d0c7e8"/>
<rect x="181.24" y="178.42" width="8.21" height="7.74" fill="#d0c7e8"/>
<rect x="188.45" y="178.42" width="8.21" height="7.74" fill="#f2eef2"/>
<rect x="195.66" y="178.42" width="8.21" height="7.74" fill="#d0c7e8"/>
<rect x="202.87" y="178.42" width="8.21" height="7.74" fill="#9d8bcc"/>
<rect x="210.07" y="178.42" width="8.21" height="7.74" fill="#d0c7e8"/>
<rect x="217.28" y="178.42" width="8.21" height="7.74" fill="#e4dff0"/>
<rect x="224.49" y="178.42" width="8.21" height="7.74" fill="#e4dff0"/>
<rect x="231.7" y="178.42" width="8.21" height="7.74" fill="#9d8bcc"/>
<rect x="238.91" y="178.42" width="7.19" height="7.74" fill="#d0c7e8"/>
<rect x="248" y="178.42" width="8.01" height="7.74" fill="#f2eef2"/>
<rect x="255.01" y="178.42" width="8.21" height="7.74" fill="#f7b29b"/>
<rect x="262.22" y="178.42" width="8.21" height="7.74" fill="#f7b29b"/>
<rect x="269.43" y="178.42" width="8.21" height="7.74" fill="#9d8bcc"/>
<rect x="276.64" y="178.42" width="8.21" height="7.74" fill="#facdbe"/>
<rect x="283.85" y="178.42" width="8.21" height="7.74" fill="#facdbe"/>
<rect x="291.05" y="178.42" width="8.21" height="7.74" fill="#f9e4de"/>
<rect x="298.26" y="178.42" width="8.21" height="7.74" fill="#facdbe"/>
<rect x="305.47" y="178.42" width="8.21" height="7.74" fill="#d0c7e8"/>
<rect x="312.68" y="178.42" width="8.21" height="7.74" fill="#facdbe"/>
<rect x="319.89" y="178.42" width="8.21" height="7.74" fill="#f7b29b"/>
<rect x="327.1" y="178.42" width="8.21" height="7.74" fill="#f2eef2"/>
<rect x="334.31" y="178.42" width="8.21" height="7.74" fill="#f2eef2"/>
<rect x="341.52" y="178.42" width="8.21" height="7.74" fill="#f9e4de"/>
<rect x="348.73" y="178.42" width="7.17" height="7.74" fill="#f7b29b"/>
<rect x="358" y="178.42" width="7.81" height="7.74" fill="#f7b29b"/>
<rect x="364.81" y="178.42" width="8.21" height="7.74" fill="#f49176"/>
<rect x="372.02" y="178.42" width="8.21" height="7.74" fill="#f7b29b"/>
<rect x="379.23" y="178.42" width="8.21" height="7.74" fill="#f9e4de"/>
<rect x="386.44" y="178.42" width="8.21" height="7.74" fill="#f7b29b"/>
<rect x="393.65" y="178.42" width="8.21" height="7.74" fill="#f7b29b"/>
<rect x="400.85" y="178.42" width="8.21" height="7.74" fill="#facdbe"/>
<rect x="408.06" y="178.42" width="8.21" height="7.74" fill="#facdbe"/>
<rect x="415.27" y="178.42" width="8.21" height="7.74" fill="#facdbe"/>
<rect x="422.48" y="178.42" width="8.21" height="7.74" fill="#f49176"/>
<rect x="429.69" y="178.42" width="8.21" height="7.74" fill="#f7b29b"/>
<rect x="436.9" y="178.42" width="8.21" height="7.74" fill="#f7b29b"/>
<rect x="444.11" y="178.42" width="6.89" height="7.74" fill="#f9e4de"/>
<rect x="30.9" y="185.16" width="7.16" height="7.74" fill="#7a67bc"/>
<rect x="37.06" y="185.16" width="8.21" height="7.74" fill="#f2eef2"/>
<rect x="44.27" y="185.16" width="8.21" height="7.74" fill="#5a55af"/>
<rect x="51.48" y="185.16" width="8.21" height="7.74" fill="#d0c7e8"/>
<rect x="58.69" y="185.16" width="8.21" height="7.74" fill="#f2eef2"/>
<rect x="65.9" y="185.16" width="8.21" height="7.74" fill="#e4dff0"/>
<rect x="73.1" y="185.16" width="8.21" height="7.74" fill="#f7b29b"/>
<rect x="80.31" y="185.16" width="8.21" height="7.74" fill="#facdbe"/>
<rect x="87.52" y="185.16" width="8.21" height="7.74" fill="#e4dff0"/>
<rect x="94.73" y="185.16" width="8.21" height="7.74" fill="#f7b29b"/>
<rect x="101.94" y="185.16" width="8.21" height="7.74" fill="#9d8bcc"/>
<rect x="109.15" y="185.16" width="8.21" height="7.74" fill="#e4dff0"/>
<rect x="116.36" y="185.16" width="8.21" height="7.74" fill="#9d8bcc"/>
<rect x="123.57" y="185.16" width="8.21" height="7.74" fill="#9d8bcc"/>
<rect x="130.78" y="185.16" width="8.21" height="7.74" fill="#7a67bc"/>
<rect x="137.98" y="185.16" width="8.21" height="7.74" fill="#facdbe"/>
<rect x="145.19" y="185.16" width="8.21" height="7.74" fill="#5a55af"/>
<rect x="152.4" y="185.16" width="8.21" height="7.74" fill="#9d8bcc"/>
<rect x="159.61" y="185.16" width="8.21" height="7.74" fill="#f7b29b"/>
<rect x="166.82" y="185.16" width="8.21" height="7.74" fill="#f9e4de"/>
<rect x="174.03" y="185.16" width="8.21" height="7.74" fill="#7a67bc"/>
<rect x="181.24" y="185.16" width="8.21" height="7.74" fill="#5a55af"/>
<rect x="188.45" y="185.16" width="8.21" height="7.74" fill="#d0c7e8"/>
<rect x="195.66" y="185.16" width="8.21" height="7.74" fill="#d0c7e8"/>
<rect x="202.87" y="185.16" width="8.21" height="7.74" fill="#9d8bcc"/>
<rect x="210.07" y="185.16" width="8.21" height="7.74" fill="#5a55af"/>
<rect x="217.28" y="185.16" width="8.21" height="7.74" fill="#e4dff0"/>
<rect x="224.49" y="185.16" width="8.21" height="7.74" fill="#9d8bcc"/>
<rect x="231.7" y="185.16" width="8.21" height="7.74" fill="#9d8bcc"/>
<rect x="238.91" y="185.16" width="7.19" height="7.74" fill="#9d8bcc"/>
<rect x="248" y="185.16" width="8.01" height="7.74" fill="#d0c7e8"/>
<rect x="255.01" y="185.16" width="8.21" height="7.74" fill="#f7b29b"/>
<rect x="262.22" y="185.16" width="8.21" height="7.74" fill="#f49176"/>
<rect x="269.43" y="185.16" width="8.21" height="7.74" fill="#9d8bcc"/>
<rect x="276.64" y="185.16" width="8.21" height="7.74" fill="#f49176"/>
<rect x="283.85" y="185.16" width="8.21" height="7.74" fill="#e4dff0"/>
<rect x="291.05" y="185.16" width="8.21" height="7.74" fill="#e4dff0"/>
<rect x="298.26" y="185.16" width="8.21" height="7.74" fill="#facdbe"/>
<rect x="305.47" y="185.16" width="8.21" height="7.74" fill="#9d8bcc"/>
<rect x="312.68" y="185.16" width="8.21" height="7.74" fill="#f9e4de"/>
<rect x="319.89" y="185.16" width="8.21" height="7.74" fill="#facdbe"/>
<rect x="327.1" y="185.16" width="8.21" height="7.74" fill="#d0c7e8"/>
<rect x="334.31" y="185.16" width="8.21" height="7.74" fill="#f2eef2"/>
<rect x="341.52" y="185.16" width="8.21" height="7.74" fill="#d0c7e8"/>
<rect x="348.73" y="185.16" width="7.17" height="7.74" fill="#f9e4de"/>
<rect x="358" y="185.16" width="7.81" height="7.74" fill="#facdbe"/>
<rect x="364.81" y="185.16" width="8.21" height="7.74" fill="#f37a5c"/>
<rect x="372.02" y="185.16" width="8.21" height="7.74" fill="#f49176"/>
<rect x="379.23" y="185.16" width="8.21" height="7.74" fill="#f9e4de"/>
<rect x="386.44" y="185.16" width="8.21" height="7.74" fill="#f7b29b"/>
<rect x="393.65" y="185.16" width="8.21" height="7.74" fill="#f7b29b"/>
<rect x="400.85" y="185.16" width="8.21" height="7.74" fill="#f37a5c"/>
<rect x="408.06" y="185.16" width="8.21" height="7.74" fill="#f37a5c"/>
<rect x="415.27" y="185.16" width="8.21" height="7.74" fill="#f49176"/>
<rect x="422.48" y="185.16" width="8.21" height="7.74" fill="#facdbe"/>
<rect x="429.69" y="185.16" width="8.21" height="7.74" fill="#f9e4de"/>
<rect x="436.9" y="185.16" width="8.21" height="7.74" fill="#f05f41"/>
<rect x="444.11" y="185.16" width="6.89" height="7.74" fill="#f49176"/>
<rect x="30.9" y="191.9" width="7.16" height="7.74" fill="#9d8bcc"/>
<rect x="37.06" y="191.9" width="8.21" height="7.74" fill="#d0c7e8"/>
<rect x="44.27" y="191.9" width="8.21" height="7.74" fill="#f9e4de"/>
<rect x="51.48" y="191.9" width="8.21" height="7.74" fill="#d0c7e8"/>
<rect x="58.69" y="191.9" width="8.21" height="7.74" fill="#d0c7e8"/>
<rect x="65.9" y="191.9" width="8.21" height="7.74" fill="#d0c7e8"/>
<rect x="73.1" y="191.9" width="8.21" height="7.74" fill="#d0c7e8"/>
<rect x="80.31" y="191.9" width="8.21" height="7.74" fill="#d0c7e8"/>
<rect x="87.52" y="191.9" width="8.21" height="7.74" fill="#d0c7e8"/>
<rect x="94.73" y="191.9" width="8.21" height="7.74" fill="#9d8bcc"/>
<rect x="101.94" y="191.9" width="8.21" height="7.74" fill="#9d8bcc"/>
<rect x="109.15" y="191.9" width="8.21" height="7.74" fill="#9d8bcc"/>
<rect x="116.36" y="191.9" width="8.21" height="7.74" fill="#9d8bcc"/>
<rect x="123.57" y="191.9" width="8.21" height="7.74" fill="#9d8bcc"/>
<rect x="130.78" y="191.9" width="8.21" height="7.74" fill="#7a67bc"/>
<rect x="137.98" y="191.9" width="8.21" height="7.74" fill="#e4dff0"/>
<rect x="145.19" y="191.9" width="8.21" height="7.74" fill="#9d8bcc"/>
<rect x="152.4" y="191.9" width="8.21" height="7.74" fill="#9d8bcc"/>
<rect x="159.61" y="191.9" width="8.21" height="7.74" fill="#facdbe"/>
<rect x="166.82" y="191.9" width="8.21" height="7.74" fill="#facdbe"/>
<rect x="174.03" y="191.9" width="8.21" height="7.74" fill="#7a67bc"/>
<rect x="181.24" y="191.9" width="8.21" height="7.74" fill="#9d8bcc"/>
<rect x="188.45" y="191.9" width="8.21" height="7.74" fill="#f9e4de"/>
<rect x="195.66" y="191.9" width="8.21" height="7.74" fill="#f9e4de"/>
<rect x="202.87" y="191.9" width="8.21" height="7.74" fill="#9d8bcc"/>
<rect x="210.07" y="191.9" width="8.21" height="7.74" fill="#5a55af"/>
<rect x="217.28" y="191.9" width="8.21" height="7.74" fill="#facdbe"/>
<rect x="224.49" y="191.9" width="8.21" height="7.74" fill="#f49176"/>
<rect x="231.7" y="191.9" width="8.21" height="7.74" fill="#e4dff0"/>
<rect x="238.91" y="191.9" width="7.19" height="7.74" fill="#d0c7e8"/>
<rect x="248" y="191.9" width="8.01" height="7.74" fill="#f2eef2"/>
<rect x="255.01" y="191.9" width="8.21" height="7.74" fill="#f7b29b"/>
<rect x="262.22" y="191.9" width="8.21" height="7.74" fill="#e4dff0"/>
<rect x="269.43" y="191.9" width="8.21" height="7.74" fill="#d0c7e8"/>
<rect x="276.64" y="191.9" width="8.21" height="7.74" fill="#9d8bcc"/>
<rect x="283.85" y="191.9" width="8.21" height="7.74" fill="#f49176"/>
<rect x="291.05" y="191.9" width="8.21" height="7.74" fill="#f49176"/>
<rect x="298.26" y="191.9" width="8.21" height="7.74" fill="#7a67bc"/>
<rect x="305.47" y="191.9" width="8.21" height="7.74" fill="#7a67bc"/>
<rect x="312.68" y="191.9" width="8.21" height="7.74" fill="#f37a5c"/>
<rect x="319.89" y="191.9" width="8.21" height="7.74" fill="#facdbe"/>
<rect x="327.1" y="191.9" width="8.21" height="7.74" fill="#d0c7e8"/>
<rect x="334.31" y="191.9" width="8.21" height="7.74" fill="#f7b29b"/>
<rect x="341.52" y="191.9" width="8.21" height="7.74" fill="#f37a5c"/>
<rect x="348.73" y="191.9" width="7.17" height="7.74" fill="#d0c7e8"/>
<rect x="358" y="191.9" width="7.81" height="7.74" fill="#f05f41"/>
<rect x="364.81" y="191.9" width="8.21" height="7.74" fill="#e82326"/>
<rect x="372.02" y="191.9" width="8.21" height="7.74" fill="#facdbe"/>
<rect x="379.23" y="191.9" width="8.21" height="7.74" fill="#facdbe"/>
<rect x="386.44" y="191.9" width="8.21" height="7.74" fill="#facdbe"/>
<rect x="393.65" y="191.9" width="8.21" height="7.74" fill="#f7b29b"/>
<rect x="400.85" y="191.9" width="8.21" height="7.74" fill="#f49176"/>
<rect x="408.06" y="191.9" width="8.21" height="7.74" fill="#f7b29b"/>
<rect x="415.27" y="191.9" width="8.21" height="7.74" fill="#f7b29b"/>
<rect x="422.48" y="191.9" width="8.21" height="7.74" fill="#9d8bcc"/>
<rect x="429.69" y="191.9" width="8.21" height="7.74" fill="#f05f41"/>
<rect x="436.9" y="191.9" width="8.21" height="7.74" fill="#f37a5c"/>
<rect x="444.11" y="191.9" width="6.89" height="7.74" fill="#facdbe"/>
<rect x="30.9" y="198.64" width="7.16" height="7.74" fill="#5a55af"/>
<rect x="37.06" y="198.64" width="8.21" height="7.74" fill="#d0c7e8"/>
<rect x="44.27" y="198.64" width="8.21" height="7.74" fill="#5a55af"/>
<rect x="51.48" y="198.64" width="8.21" height="7.74" fill="#9d8bcc"/>
<rect x="58.69" y="198.64" width="8.21" height="7.74" fill="#d0c7e8"/>
<rect x="65.9" y="198.64" width="8.21" height="7.74" fill="#f2eef2"/>
<rect x="73.1" y="198.64" width="8.21" height="7.74" fill="#f9e4de"/>
<rect x="80.31" y="198.64" width="8.21" height="7.74" fill="#9d8bcc"/>
<rect x="87.52" y="198.64" width="8.21" height="7.74" fill="#f9e4de"/>
<rect x="94.73" y="198.64" width="8.21" height="7.74" fill="#e4dff0"/>
<rect x="101.94" y="198.64" width="8.21" height="7.74" fill="#7a67bc"/>
<rect x="109.15" y="198.64" width="8.21" height="7.74" fill="#d0c7e8"/>
<rect x="116.36" y="198.64" width="8.21" height="7.74" fill="#9d8bcc"/>
<rect x="123.57" y="198.64" width="8.21" height="7.74" fill="#e4dff0"/>
<rect x="130.78" y="198.64" width="8.21" height="7.74" fill="#d0c7e8"/>
<rect x="137.98" y="198.64" width="8.21" height="7.74" fill="#d0c7e8"/>
<rect x="145.19" y="198.64" width="8.21" height="7.74" fill="#5a55af"/>
<rect x="152.4" y="198.64" width="8.21" height="7.74" fill="#7a67bc"/>
<rect x="159.61" y="198.64" width="8.21" height="7.74" fill="#e4dff0"/>
<rect x="166.82" y="198.64" width="8.21" height="7.74" fill="#facdbe"/>
<rect x="174.03" y="198.64" width="8.21" height="7.74" fill="#9d8bcc"/>
<rect x="181.24" y="198.64" width="8.21" height="7.74" fill="#e4dff0"/>
<rect x="188.45" y="198.64" width="8.21" height="7.74" fill="#facdbe"/>
<rect x="195.66" y="198.64" width="8.21" height="7.74" fill="#d0c7e8"/>
<rect x="202.87" y="198.64" width="8.21" height="7.74" fill="#9d8bcc"/>
<rect x="210.07" y="198.64" width="8.21" height="7.74" fill="#f9e4de"/>
<rect x="217.28" y="198.64" width="8.21" height="7.74" fill="#e4dff0"/>
<rect x="224.49" y="198.64" width="8.21" height="7.74" fill="#e4dff0"/>
<rect x="231.7" y="198.64" width="8.21" height="7.74" fill="#7a67bc"/>
<rect x="238.91" y="198.64" width="7.19" height="7.74" fill="#5a55af"/>
<rect x="248" y="198.64" width="8.01" height="7.74" fill="#e4dff0"/>
<rect x="255.01" y="198.64" width="8.21" height="7.74" fill="#f9e4de"/>
<rect x="262.22" y="198.64" width="8.21" height="7.74" fill="#f49176"/>
<rect x="269.43" y="198.64" width="8.21" height="7.74" fill="#d0c7e8"/>
<rect x="276.64" y="198.64" width="8.21" height="7.74" fill="#facdbe"/>
<rect x="283.85" y="198.64" width="8.21" height="7.74" fill="#f05f41"/>
<rect x="291.05" y="198.64" width="8.21" height="7.74" fill="#f7b29b"/>
<rect x="298.26" y="198.64" width="8.21" height="7.74" fill="#f9e4de"/>
<rect x="305.47" y="198.64" width="8.21" height="7.74" fill="#f2eef2"/>
<rect x="312.68" y="198.64" width="8.21" height="7.74" fill="#facdbe"/>
<rect x="319.89" y="198.64" width="8.21" height="7.74" fill="#e4dff0"/>
<rect x="327.1" y="198.64" width="8.21" height="7.74" fill="#d0c7e8"/>
<rect x="334.31" y="198.64" width="8.21" height="7.74" fill="#e4dff0"/>
<rect x="341.52" y="198.64" width="8.21" height="7.74" fill="#f7b29b"/>
<rect x="348.73" y="198.64" width="7.17" height="7.74" fill="#f7b29b"/>
<rect x="358" y="198.64" width="7.81" height="7.74" fill="#f37a5c"/>
<rect x="364.81" y="198.64" width="8.21" height="7.74" fill="#f05f41"/>
<rect x="372.02" y="198.64" width="8.21" height="7.74" fill="#f2eef2"/>
<rect x="379.23" y="198.64" width="8.21" height="7.74" fill="#f9e4de"/>
<rect x="386.44" y="198.64" width="8.21" height="7.74" fill="#f37a5c"/>
<rect x="393.65" y="198.64" width="8.21" height="7.74" fill="#f7b29b"/>
<rect x="400.85" y="198.64" width="8.21" height="7.74" fill="#e82326"/>
<rect x="408.06" y="198.64" width="8.21" height="7.74" fill="#f9e4de"/>
<rect x="415.27" y="198.64" width="8.21" height="7.74" fill="#facdbe"/>
<rect x="422.48" y="198.64" width="8.21" height="7.74" fill="#d0c7e8"/>
<rect x="429.69" y="198.64" width="8.21" height="7.74" fill="#f49176"/>
<rect x="436.9" y="198.64" width="8.21" height="7.74" fill="#e4dff0"/>
<rect x="444.11" y="198.64" width="6.89" height="7.74" fill="#9d8bcc"/>
<rect x="30.9" y="205.38" width="7.16" height="7.74" fill="#e4dff0"/>
<rect x="37.06" y="205.38" width="8.21" height="7.74" fill="#9d8bcc"/>
<rect x="44.27" y="205.38" width="8.21" height="7.74" fill="#d0c7e8"/>
<rect x="51.48" y="205.38" width="8.21" height="7.74" fill="#9d8bcc"/>
<rect x="58.69" y="205.38" width="8.21" height="7.74" fill="#7a67bc"/>
<rect x="65.9" y="205.38" width="8.21" height="7.74" fill="#9d8bcc"/>
<rect x="73.1" y="205.38" width="8.21" height="7.74" fill="#7a67bc"/>
<rect x="80.31" y="205.38" width="8.21" height="7.74" fill="#d0c7e8"/>
<rect x="87.52" y="205.38" width="8.21" height="7.74" fill="#7a67bc"/>
<rect x="94.73" y="205.38" width="8.21" height="7.74" fill="#9d8bcc"/>
<rect x="101.94" y="205.38" width="8.21" height="7.74" fill="#9d8bcc"/>
<rect x="109.15" y="205.38" width="8.21" height="7.74" fill="#e4dff0"/>
<rect x="116.36" y="205.38" width="8.21" height="7.74" fill="#facdbe"/>
<rect x="123.57" y="205.38" width="8.21" height="7.74" fill="#facdbe"/>
<rect x="130.78" y="205.38" width="8.21" height="7.74" fill="#9d8bcc"/>
<rect x="137.98" y="205.38" width="8.21" height="7.74" fill="#f2eef2"/>
<rect x="145.19" y="205.38" width="8.21" height="7.74" fill="#7a67bc"/>
<rect x="152.4" y="205.38" width="8.21" height="7.74" fill="#d0c7e8"/>
<rect x="159.61" y="205.38" width="8.21" height="7.74" fill="#9d8bcc"/>
<rect x="166.82" y="205.38" width="8.21" height="7.74" fill="#f9e4de"/>
<rect x="174.03" y="205.38" width="8.21" height="7.74" fill="#9d8bcc"/>
<rect x="181.24" y="205.38" width="8.21" height="7.74" fill="#9d8bcc"/>
<rect x="188.45" y="205.38" width="8.21" height="7.74" fill="#facdbe"/>
<rect x="195.66" y="205.38" width="8.21" height="7.74" fill="#f2eef2"/>
<rect x="202.87" y="205.38" width="8.21" height="7.74" fill="#d0c7e8"/>
<rect x="210.07" y="205.38" width="8.21" height="7.74" fill="#d0c7e8"/>
<rect x="217.28" y="205.38" width="8.21" height="7.74" fill="#f9e4de"/>
<rect x="224.49" y="205.38" width="8.21" height="7.74" fill="#d0c7e8"/>
<rect x="231.7" y="205.38" width="8.21" height="7.74" fill="#9d8bcc"/>
<rect x="238.91" y="205.38" width="7.19" height="7.74" fill="#e4dff0"/>
<rect x="248" y="205.38" width="8.01" height="7.74" fill="#9d8bcc"/>
<rect x="255.01" y="205.38" width="8.21" height="7.74" fill="#f2eef2"/>
<rect x="262.22" y="205.38" width="8.21" height="7.74" fill="#f9e4de"/>
<rect x="269.43" y="205.38" width="8.21" height="7.74" fill="#d0c7e8"/>
<rect x="276.64" y="205.38" width="8.21" height="7.74" fill="#d0c7e8"/>
<rect x="283.85" y="205.38" width="8.21" height="7.74" fill="#f7b29b"/>
<rect x="291.05" y="205.38" width="8.21" height="7.74" fill="#f37a5c"/>
<rect x="298.26" y="205.38" width="8.21" height="7.74" fill="#f2eef2"/>
<rect x="305.47" y="205.38" width="8.21" height="7.74" fill="#facdbe"/>
<rect x="312.68" y="205.38" width="8.21" height="7.74" fill="#f2eef2"/>
<rect x="319.89" y="205.38" width="8.21" height="7.74" fill="#f9e4de"/>
<rect x="327.1" y="205.38" width="8.21" height="7.74" fill="#f7b29b"/>
<rect x="334.31" y="205.38" width="8.21" height="7.74" fill="#f2eef2"/>
<rect x="341.52" y="205.38" width="8.21" height="7.74" fill="#f2eef2"/>
<rect x="348.73" y="205.38" width="7.17" height="7.74" fill="#f9e4de"/>
<rect x="358" y="205.38" width="7.81" height="7.74" fill="#facdbe"/>
<rect x="364.81" y="205.38" width="8.21" height="7.74" fill="#f37a5c"/>
<rect x="372.02" y="205.38" width="8.21" height="7.74" fill="#e4dff0"/>
<rect x="379.23" y="205.38" width="8.21" height="7.74" fill="#f49176"/>
<rect x="386.44" y="205.38" width="8.21" height="7.74" fill="#f9e4de"/>
<rect x="393.65" y="205.38" width="8.21" height="7.74" fill="#f9e4de"/>
<rect x="400.85" y="205.38" width="8.21" height="7.74" fill="#f49176"/>
<rect x="408.06" y="205.38" width="8.21" height="7.74" fill="#f9e4de"/>
<rect x="415.27" y="205.38" width="8.21" height="7.74" fill="#f2eef2"/>
<rect x="422.48" y="205.38" width="8.21" height="7.74" fill="#f9e4de"/>
<rect x="429.69" y="205.38" width="8.21" height="7.74" fill="#f7b29b"/>
<rect x="436.9" y="205.38" width="8.21" height="7.74" fill="#f9e4de"/>
<rect x="444.11" y="205.38" width="6.89" height="7.74" fill="#f9e4de"/>
<rect x="30.9" y="212.12" width="7.16" height="7.74" fill="#f2eef2"/>
<rect x="37.06" y="212.12" width="8.21" height="7.74" fill="#f9e4de"/>
<rect x="44.27" y="212.12" width="8.21" height="7.74" fill="#9d8bcc"/>
<rect x="51.48" y="212.12" width="8.21" height="7.74" fill="#9d8bcc"/>
<rect x="58.69" y="212.12" width="8.21" height="7.74" fill="#9d8bcc"/>
<rect x="65.9" y="212.12" width="8.21" height="7.74" fill="#e4dff0"/>
<rect x="73.1" y="212.12" width="8.21" height="7.74" fill="#d0c7e8"/>
<rect x="80.31" y="212.12" width="8.21" height="7.74" fill="#9d8bcc"/>
<rect x="87.52" y="212.12" width="8.21" height="7.74" fill="#9d8bcc"/>
<rect x="94.73" y="212.12" width="8.21" height="7.74" fill="#d0c7e8"/>
<rect x="101.94" y="212.12" width="8.21" height="7.74" fill="#9d8bcc"/>
<rect x="109.15" y="212.12" width="8.21" height="7.74" fill="#d0c7e8"/>
<rect x="116.36" y="212.12" width="8.21" height="7.74" fill="#7a67bc"/>
<rect x="123.57" y="212.12" width="8.21" height="7.74" fill="#d0c7e8"/>
<rect x="130.78" y="212.12" width="8.21" height="7.74" fill="#7a67bc"/>
<rect x="137.98" y="212.12" width="8.21" height="7.74" fill="#9d8bcc"/>
<rect x="145.19" y="212.12" width="8.21" height="7.74" fill="#e4dff0"/>
<rect x="152.4" y="212.12" width="8.21" height="7.74" fill="#d0c7e8"/>
<rect x="159.61" y="212.12" width="8.21" height="7.74" fill="#9d8bcc"/>
<rect x="166.82" y="212.12" width="8.21" height="7.74" fill="#7a67bc"/>
<rect x="174.03" y="212.12" width="8.21" height="7.74" fill="#7a67bc"/>
<rect x="181.24" y="212.12" width="8.21" height="7.74" fill="#d0c7e8"/>
<rect x="188.45" y="212.12" width="8.21" height="7.74" fill="#e4dff0"/>
<rect x="195.66" y="212.12" width="8.21" height="7.74" fill="#e4dff0"/>
<rect x="202.87" y="212.12" width="8.21" height="7.74" fill="#d0c7e8"/>
<rect x="210.07" y="212.12" width="8.21" height="7.74" fill="#7a67bc"/>
<rect x="217.28" y="212.12" width="8.21" height="7.74" fill="#e4dff0"/>
<rect x="224.49" y="212.12" width="8.21" height="7.74" fill="#f9e4de"/>
<rect x="231.7" y="212.12" width="8.21" height="7.74" fill="#f2eef2"/>
<rect x="238.91" y="212.12" width="7.19" height="7.74" fill="#d0c7e8"/>
<rect x="248" y="212.12" width="8.01" height="7.74" fill="#f9e4de"/>
<rect x="255.01" y="212.12" width="8.21" height="7.74" fill="#e4dff0"/>
<rect x="262.22" y="212.12" width="8.21" height="7.74" fill="#f2eef2"/>
<rect x="269.43" y="212.12" width="8.21" height="7.74" fill="#facdbe"/>
<rect x="276.64" y="212.12" width="8.21" height="7.74" fill="#f2eef2"/>
<rect x="283.85" y="212.12" width="8.21" height="7.74" fill="#f37a5c"/>
<rect x="291.05" y="212.12" width="8.21" height="7.74" fill="#f37a5c"/>
<rect x="298.26" y="212.12" width="8.21" height="7.74" fill="#f2eef2"/>
<rect x="305.47" y="212.12" width="8.21" height="7.74" fill="#e4dff0"/>
<rect x="312.68" y="212.12" width="8.21" height="7.74" fill="#f7b29b"/>
<rect x="319.89" y="212.12" width="8.21" height="7.74" fill="#f2eef2"/>
<rect x="327.1" y="212.12" width="8.21" height="7.74" fill="#f9e4de"/>
<rect x="334.31" y="212.12" width="8.21" height="7.74" fill="#f9e4de"/>
<rect x="341.52" y="212.12" width="8.21" height="7.74" fill="#f7b29b"/>
<rect x="348.73" y="212.12" width="7.17" height="7.74" fill="#e4dff0"/>
<rect x="358" y="212.12" width="7.81" height="7.74" fill="#facdbe"/>
<rect x="364.81" y="212.12" width="8.21" height="7.74" fill="#f49176"/>
<rect x="372.02" y="212.12" width="8.21" height="7.74" fill="#facdbe"/>
<rect x="379.23" y="212.12" width="8.21" height="7.74" fill="#facdbe"/>
<rect x="386.44" y="212.12" width="8.21" height="7.74" fill="#facdbe"/>
<rect x="393.65" y="212.12" width="8.21" height="7.74" fill="#facdbe"/>
<rect x="400.85" y="212.12" width="8.21" height="7.74" fill="#f37a5c"/>
<rect x="408.06" y="212.12" width="8.21" height="7.74" fill="#e4dff0"/>
<rect x="415.27" y="212.12" width="8.21" height="7.74" fill="#f9e4de"/>
<rect x="422.48" y="212.12" width="8.21" height="7.74" fill="#9d8bcc"/>
<rect x="429.69" y="212.12" width="8.21" height="7.74" fill="#f37a5c"/>
<rect x="436.9" y="212.12" width="8.21" height="7.74" fill="#d0c7e8"/>
<rect x="444.11" y="212.12" width="6.89" height="7.74" fill="#9d8bcc"/>
<rect x="30.9" y="218.86" width="7.16" height="7.74" fill="#7a67bc"/>
<rect x="37.06" y="218.86" width="8.21" height="7.74" fill="#d0c7e8"/>
<rect x="44.27" y="218.86" width="8.21" height="7.74" fill="#f2eef2"/>
<rect x="51.48" y="218.86" width="8.21" height="7.74" fill="#9d8bcc"/>
<rect x="58.69" y="218.86" width="8.21" height="7.74" fill="#9d8bcc"/>
<rect x="65.9" y="218.86" width="8.21" height="7.74" fill="#9d8bcc"/>
<rect x="73.1" y="218.86" width="8.21" height="7.74" fill="#7a67bc"/>
<rect x="80.31" y="218.86" width="8.21" height="7.74" fill="#7a67bc"/>
<rect x="87.52" y="218.86" width="8.21" height="7.74" fill="#7a67bc"/>
<rect x="94.73" y="218.86" width="8.21" height="7.74" fill="#9d8bcc"/>
<rect x="101.94" y="218.86" width="8.21" height="7.74" fill="#9d8bcc"/>
<rect x="109.15" y="218.86" width="8.21" height="7.74" fill="#9d8bcc"/>
<rect x="116.36" y="218.86" width="8.21" height="7.74" fill="#f2eef2"/>
<rect x="123.57" y="218.86" width="8.21" height="7.74" fill="#e4dff0"/>
<rect x="130.78" y="218.86" width="8.21" height="7.74" fill="#d0c7e8"/>
<rect x="137.98" y="218.86" width="8.21" height="7.74" fill="#5a55af"/>
<rect x="145.19" y="218.86" width="8.21" height="7.74" fill="#f49176"/>
<rect x="152.4" y="218.86" width="8.21" height="7.74" fill="#f49176"/>
<rect x="159.61" y="218.86" width="8.21" height="7.74" fill="#facdbe"/>
<rect x="166.82" y="218.86" width="8.21" height="7.74" fill="#f49176"/>
<rect x="174.03" y="218.86" width="8.21" height="7.74" fill="#f2eef2"/>
<rect x="181.24" y="218.86" width="8.21" height="7.74" fill="#facdbe"/>
<rect x="188.45" y="218.86" width="8.21" height="7.74" fill="#f49176"/>
<rect x="195.66" y="218.86" width="8.21" height="7.74" fill="#facdbe"/>
<rect x="202.87" y="218.86" width="8.21" height="7.74" fill="#f7b29b"/>
<rect x="210.07" y="218.86" width="8.21" height="7.74" fill="#d0c7e8"/>
<rect x="217.28" y="218.86" width="8.21" height="7.74" fill="#f2eef2"/>
<rect x="224.49" y="218.86" width="8.21" height="7.74" fill="#d0c7e8"/>
<rect x="231.7" y="218.86" width="8.21" height="7.74" fill="#d0c7e8"/>
<rect x="238.91" y="218.86" width="7.19" height="7.74" fill="#e4dff0"/>
<rect x="248" y="218.86" width="8.01" height="7.74" fill="#324baa"/>
<rect x="255.01" y="218.86" width="8.21" height="7.74" fill="#7a67bc"/>
<rect x="262.22" y="218.86" width="8.21" height="7.74" fill="#9d8bcc"/>
<rect x="269.43" y="218.86" width="8.21" height="7.74" fill="#f7b29b"/>
<rect x="276.64" y="218.86" width="8.21" height="7.74" fill="#f7b29b"/>
<rect x="283.85" y="218.86" width="8.21" height="7.74" fill="#f49176"/>
<rect x="291.05" y="218.86" width="8.21" height="7.74" fill="#f05f41"/>
<rect x="298.26" y="218.86" width="8.21" height="7.74" fill="#d0c7e8"/>
<rect x="305.47" y="218.86" width="8.21" height="7.74" fill="#f7b29b"/>
<rect x="312.68" y="218.86" width="8.21" height="7.74" fill="#facdbe"/>
<rect x="319.89" y="218.86" width="8.21" height="7.74" fill="#f2eef2"/>
<rect x="327.1" y="218.86" width="8.21" height="7.74" fill="#f2eef2"/>
<rect x="334.31" y="218.86" width="8.21" height="7.74" fill="#e4dff0"/>
<rect x="341.52" y="218.86" width="8.21" height="7.74" fill="#f7b29b"/>
<rect x="348.73" y="218.86" width="7.17" height="7.74" fill="#facdbe"/>
<rect x="358" y="218.86" width="7.81" height="7.74" fill="#f7b29b"/>
<rect x="364.81" y="218.86" width="8.21" height="7.74" fill="#f37a5c"/>
<rect x="372.02" y="218.86" width="8.21" height="7.74" fill="#f05f41"/>
<rect x="379.23" y="218.86" width="8.21" height="7.74" fill="#facdbe"/>
<rect x="386.44" y="218.86" width="8.21" height="7.74" fill="#f05f41"/>
<rect x="393.65" y="218.86" width="8.21" height="7.74" fill="#9d8bcc"/>
<rect x="400.85" y="218.86" width="8.21" height="7.74" fill="#7a67bc"/>
<rect x="408.06" y="218.86" width="8.21" height="7.74" fill="#f49176"/>
<rect x="415.27" y="218.86" width="8.21" height="7.74" fill="#e4dff0"/>
<rect x="422.48" y="218.86" width="8.21" height="7.74" fill="#facdbe"/>
<rect x="429.69" y="218.86" width="8.21" height="7.74" fill="#f9e4de"/>
<rect x="436.9" y="218.86" width="8.21" height="7.74" fill="#f7b29b"/>
<rect x="444.11" y="218.86" width="6.89" height="7.74" fill="#e4dff0"/>
<rect x="30.9" y="225.6" width="7.16" height="7.74" fill="#9d8bcc"/>
<rect x="37.06" y="225.6" width="8.21" height="7.74" fill="#9d8bcc"/>
<rect x="44.27" y="225.6" width="8.21" height="7.74" fill="#5a55af"/>
<rect x="51.48" y="225.6" width="8.21" height="7.74" fill="#d0c7e8"/>
<rect x="58.69" y="225.6" width="8.21" height="7.74" fill="#9d8bcc"/>
<rect x="65.9" y="225.6" width="8.21" height="7.74" fill="#9d8bcc"/>
<rect x="73.1" y="225.6" width="8.21" height="7.74" fill="#9d8bcc"/>
<rect x="80.31" y="225.6" width="8.21" height="7.74" fill="#e4dff0"/>
<rect x="87.52" y="225.6" width="8.21" height="7.74" fill="#d0c7e8"/>
<rect x="94.73" y="225.6" width="8.21" height="7.74" fill="#d0c7e8"/>
<rect x="101.94" y="225.6" width="8.21" height="7.74" fill="#9d8bcc"/>
<rect x="109.15" y="225.6" width="8.21" height="7.74" fill="#f9e4de"/>
<rect x="116.36" y="225.6" width="8.21" height="7.74" fill="#d0c7e8"/>
<rect x="123.57" y="225.6" width="8.21" height="7.74" fill="#7a67bc"/>
<rect x="130.78" y="225.6" width="8.21" height="7.74" fill="#f9e4de"/>
<rect x="137.98" y="225.6" width="8.21" height="7.74" fill="#9d8bcc"/>
<rect x="145.19" y="225.6" width="8.21" height="7.74" fill="#f9e4de"/>
<rect x="152.4" y="225.6" width="8.21" height="7.74" fill="#f9e4de"/>
<rect x="159.61" y="225.6" width="8.21" height="7.74" fill="#f05f41"/>
<rect x="166.82" y="225.6" width="8.21" height="7.74" fill="#f7b29b"/>
<rect x="174.03" y="225.6" width="8.21" height="7.74" fill="#e4dff0"/>
<rect x="181.24" y="225.6" width="8.21" height="7.74" fill="#d0c7e8"/>
<rect x="188.45" y="225.6" width="8.21" height="7.74" fill="#f9e4de"/>
<rect x="195.66" y="225.6" width="8.21" height="7.74" fill="#e4dff0"/>
<rect x="202.87" y="225.6" width="8.21" height="7.74" fill="#f2eef2"/>
<rect x="210.07" y="225.6" width="8.21" height="7.74" fill="#f2eef2"/>
<rect x="217.28" y="225.6" width="8.21" height="7.74" fill="#e4dff0"/>
<rect x="224.49" y="225.6" width="8.21" height="7.74" fill="#d0c7e8"/>
<rect x="231.7" y="225.6" width="8.21" height="7.74" fill="#7a67bc"/>
<rect x="238.91" y="225.6" width="7.19" height="7.74" fill="#7a67bc"/>
<rect x="248" y="225.6" width="8.01" height="7.74" fill="#e4dff0"/>
<rect x="255.01" y="225.6" width="8.21" height="7.74" fill="#f2eef2"/>
<rect x="262.22" y="225.6" width="8.21" height="7.74" fill="#f9e4de"/>
<rect x="269.43" y="225.6" width="8.21" height="7.74" fill="#f7b29b"/>
<rect x="276.64" y="225.6" width="8.21" height="7.74" fill="#f7b29b"/>
<rect x="283.85" y="225.6" width="8.21" height="7.74" fill="#f37a5c"/>
<rect x="291.05" y="225.6" width="8.21" height="7.74" fill="#f49176"/>
<rect x="298.26" y="225.6" width="8.21" height="7.74" fill="#f2eef2"/>
<rect x="305.47" y="225.6" width="8.21" height="7.74" fill="#f9e4de"/>
<rect x="312.68" y="225.6" width="8.21" height="7.74" fill="#f9e4de"/>
<rect x="319.89" y="225.6" width="8.21" height="7.74" fill="#d0c7e8"/>
<rect x="327.1" y="225.6" width="8.21" height="7.74" fill="#e4dff0"/>
<rect x="334.31" y="225.6" width="8.21" height="7.74" fill="#f2eef2"/>
<rect x="341.52" y="225.6" width="8.21" height="7.74" fill="#f7b29b"/>
<rect x="348.73" y="225.6" width="7.17" height="7.74" fill="#e4dff0"/>
<rect x="358" y="225.6" width="7.81" height="7.74" fill="#facdbe"/>
<rect x="364.81" y="225.6" width="8.21" height="7.74" fill="#f05f41"/>
<rect x="372.02" y="225.6" width="8.21" height="7.74" fill="#f37a5c"/>
<rect x="379.23" y="225.6" width="8.21" height="7.74" fill="#f37a5c"/>
<rect x="386.44" y="225.6" width="8.21" height="7.74" fill="#f49176"/>
<rect x="393.65" y="225.6" width="8.21" height="7.74" fill="#f2eef2"/>
<rect x="400.85" y="225.6" width="8.21" height="7.74" fill="#d0c7e8"/>
<rect x="408.06" y="225.6" width="8.21" height="7.74" fill="#f7b29b"/>
<rect x="415.27" y="225.6" width="8.21" height="7.74" fill="#e4dff0"/>
<rect x="422.48" y="225.6" width="8.21" height="7.74" fill="#f9e4de"/>
<rect x="429.69" y="225.6" width="8.21" height="7.74" fill="#f7b29b"/>
<rect x="436.9" y="225.6" width="8.21" height="7.74" fill="#d0c7e8"/>
<rect x="444.11" y="225.6" width="6.89" height="7.74" fill="#9d8bcc"/>
<rect x="30.9" y="232.34" width="7.16" height="7.74" fill="#facdbe"/>
<rect x="37.06" y="232.34" width="8.21" height="7.74" fill="#7a67bc"/>
<rect x="44.27" y="232.34" width="8.21" height="7.74" fill="#9d8bcc"/>
<rect x="51.48" y="232.34" width="8.21" height="7.74" fill="#e4dff0"/>
<rect x="58.69" y="232.34" width="8.21" height="7.74" fill="#7a67bc"/>
<rect x="65.9" y="232.34" width="8.21" height="7.74" fill="#9d8bcc"/>
<rect x="73.1" y="232.34" width="8.21" height="7.74" fill="#d0c7e8"/>
<rect x="80.31" y="232.34" width="8.21" height="7.74" fill="#d0c7e8"/>
<rect x="87.52" y="232.34" width="8.21" height="7.74" fill="#d0c7e8"/>
<rect x="94.73" y="232.34" width="8.21" height="7.74" fill="#f7b29b"/>
<rect x="101.94" y="232.34" width="8.21" height="7.74" fill="#d0c7e8"/>
<rect x="109.15" y="232.34" width="8.21" height="7.74" fill="#d0c7e8"/>
<rect x="116.36" y="232.34" width="8.21" height="7.74" fill="#f9e4de"/>
<rect x="123.57" y="232.34" width="8.21" height="7.74" fill="#facdbe"/>
<rect x="130.78" y="232.34" width="8.21" height="7.74" fill="#9d8bcc"/>
<rect x="137.98" y="232.34" width="8.21" height="7.74" fill="#d0c7e8"/>
<rect x="145.19" y="232.34" width="8.21" height="7.74" fill="#9d8bcc"/>
<rect x="152.4" y="232.34" width="8.21" height="7.74" fill="#7a67bc"/>
<rect x="159.61" y="232.34" width="8.21" height="7.74" fill="#7a67bc"/>
<rect x="166.82" y="232.34" width="8.21" height="7.74" fill="#e4dff0"/>
<rect x="174.03" y="232.34" width="8.21" height="7.74" fill="#d0c7e8"/>
<rect x="181.24" y="232.34" width="8.21" height="7.74" fill="#9d8bcc"/>
<rect x="188.45" y="232.34" width="8.21" height="7.74" fill="#e4dff0"/>
<rect x="195.66" y="232.34" width="8.21" height="7.74" fill="#9d8bcc"/>
<rect x="202.87" y="232.34" width="8.21" height="7.74" fill="#f9e4de"/>
<rect x="210.07" y="232.34" width="8.21" height="7.74" fill="#f7b29b"/>
<rect x="217.28" y="232.34" width="8.21" height="7.74" fill="#f2eef2"/>
<rect x="224.49" y="232.34" width="8.21" height="7.74" fill="#9d8bcc"/>
<rect x="231.7" y="232.34" width="8.21" height="7.74" fill="#e4dff0"/>
<rect x="238.91" y="232.34" width="7.19" height="7.74" fill="#7a67bc"/>
<rect x="248" y="232.34" width="8.01" height="7.74" fill="#f9e4de"/>
<rect x="255.01" y="232.34" width="8.21" height="7.74" fill="#f9e4de"/>
<rect x="262.22" y="232.34" width="8.21" height="7.74" fill="#f7b29b"/>
<rect x="269.43" y="232.34" width="8.21" height="7.74" fill="#f2eef2"/>
<rect x="276.64" y="232.34" width="8.21" height="7.74" fill="#f9e4de"/>
<rect x="283.85" y="232.34" width="8.21" height="7.74" fill="#e82326"/>
<rect x="291.05" y="232.34" width="8.21" height="7.74" fill="#f9e4de"/>
<rect x="298.26" y="232.34" width="8.21" height="7.74" fill="#f2eef2"/>
<rect x="305.47" y="232.34" width="8.21" height="7.74" fill="#d0c7e8"/>
<rect x="312.68" y="232.34" width="8.21" height="7.74" fill="#facdbe"/>
<rect x="319.89" y="232.34" width="8.21" height="7.74" fill="#e4dff0"/>
<rect x="327.1" y="232.34" width="8.21" height="7.74" fill="#f7b29b"/>
<rect x="334.31" y="232.34" width="8.21" height="7.74" fill="#e4dff0"/>
<rect x="341.52" y="232.34" width="8.21" height="7.74" fill="#f7b29b"/>
<rect x="348.73" y="232.34" width="7.17" height="7.74" fill="#f7b29b"/>
<rect x="358" y="232.34" width="7.81" height="7.74" fill="#e82326"/>
<rect x="364.81" y="232.34" width="8.21" height="7.74" fill="#f05f41"/>
<rect x="372.02" y="232.34" width="8.21" height="7.74" fill="#f49176"/>
<rect x="379.23" y="232.34" width="8.21" height="7.74" fill="#f7b29b"/>
<rect x="386.44" y="232.34" width="8.21" height="7.74" fill="#f49176"/>
<rect x="393.65" y="232.34" width="8.21" height="7.74" fill="#9d8bcc"/>
<rect x="400.85" y="232.34" width="8.21" height="7.74" fill="#9d8bcc"/>
<rect x="408.06" y="232.34" width="8.21" height="7.74" fill="#facdbe"/>
<rect x="415.27" y="232.34" width="8.21" height="7.74" fill="#f7b29b"/>
<rect x="422.48" y="232.34" width="8.21" height="7.74" fill="#f9e4de"/>
<rect x="429.69" y="232.34" width="8.21" height="7.74" fill="#f9e4de"/>
<rect x="436.9" y="232.34" width="8.21" height="7.74" fill="#facdbe"/>
<rect x="444.11" y="232.34" width="6.89" height="7.74" fill="#f2eef2"/>
<rect x="30.9" y="239.08" width="7.16" height="7.74" fill="#e4dff0"/>
<rect x="37.06" y="239.08" width="8.21" height="7.74" fill="#e4dff0"/>
<rect x="44.27" y="239.08" width="8.21" height="7.74" fill="#7a67bc"/>
<rect x="51.48" y="239.08" width="8.21" height="7.74" fill="#d0c7e8"/>
<rect x="58.69" y="239.08" width="8.21" height="7.74" fill="#d0c7e8"/>
<rect x="65.9" y="239.08" width="8.21" height="7.74" fill="#f9e4de"/>
<rect x="73.1" y="239.08" width="8.21" height="7.74" fill="#7a67bc"/>
<rect x="80.31" y="239.08" width="8.21" height="7.74" fill="#d0c7e8"/>
<rect x="87.52" y="239.08" width="8.21" height="7.74" fill="#d0c7e8"/>
<rect x="94.73" y="239.08" width="8.21" height="7.74" fill="#f2eef2"/>
<rect x="101.94" y="239.08" width="8.21" height="7.74" fill="#9d8bcc"/>
<rect x="109.15" y="239.08" width="8.21" height="7.74" fill="#e4dff0"/>
<rect x="116.36" y="239.08" width="8.21" height="7.74" fill="#e4dff0"/>
<rect x="123.57" y="239.08" width="8.21" height="7.74" fill="#e4dff0"/>
<rect x="130.78" y="239.08" width="8.21" height="7.74" fill="#f9e4de"/>
<rect x="137.98" y="239.08" width="8.21" height="7.74" fill="#f2eef2"/>
<rect x="145.19" y="239.08" width="8.21" height="7.74" fill="#7a67bc"/>
<rect x="152.4" y="239.08" width="8.21" height="7.74" fill="#9d8bcc"/>
<rect x="159.61" y="239.08" width="8.21" height="7.74" fill="#9d8bcc"/>
<rect x="166.82" y="239.08" width="8.21" height="7.74" fill="#d0c7e8"/>
<rect x="174.03" y="239.08" width="8.21" height="7.74" fill="#7a67bc"/>
<rect x="181.24" y="239.08" width="8.21" height="7.74" fill="#e4dff0"/>
<rect x="188.45" y="239.08" width="8.21" height="7.74" fill="#e4dff0"/>
<rect x="195.66" y="239.08" width="8.21" height="7.74" fill="#d0c7e8"/>
<rect x="202.87" y="239.08" width="8.21" height="7.74" fill="#facdbe"/>
<rect x="210.07" y="239.08" width="8.21" height="7.74" fill="#f9e4de"/>
<rect x="217.28" y="239.08" width="8.21" height="7.74" fill="#7a67bc"/>
<rect x="224.49" y="239.08" width="8.21" height="7.74" fill="#d0c7e8"/>
<rect x="231.7" y="239.08" width="8.21" height="7.74" fill="#f7b29b"/>
<rect x="238.91" y="239.08" width="7.19" height="7.74" fill="#d0c7e8"/>
<rect x="248" y="239.08" width="8.01" height="7.74" fill="#f9e4de"/>
<rect x="255.01" y="239.08" width="8.21" height="7.74" fill="#7a67bc"/>
<rect x="262.22" y="239.08" width="8.21" height="7.74" fill="#e4dff0"/>
<rect x="269.43" y="239.08" width="8.21" height="7.74" fill="#f9e4de"/>
<rect x="276.64" y="239.08" width="8.21" height="7.74" fill="#f2eef2"/>
<rect x="283.85" y="239.08" width="8.21" height="7.74" fill="#f37a5c"/>
<rect x="291.05" y="239.08" width="8.21" height="7.74" fill="#e4dff0"/>
<rect x="298.26" y="239.08" width="8.21" height="7.74" fill="#f7b29b"/>
<rect x="305.47" y="239.08" width="8.21" height="7.74" fill="#f9e4de"/>
<rect x="312.68" y="239.08" width="8.21" height="7.74" fill="#d0c7e8"/>
<rect x="319.89" y="239.08" width="8.21" height="7.74" fill="#e4dff0"/>
<rect x="327.1" y="239.08" width="8.21" height="7.74" fill="#f2eef2"/>
<rect x="334.31" y="239.08" width="8.21" height="7.74" fill="#f7b29b"/>
<rect x="341.52" y="239.08" width="8.21" height="7.74" fill="#f9e4de"/>
<rect x="348.73" y="239.08" width="7.17" height="7.74" fill="#f7b29b"/>
<rect x="358" y="239.08" width="7.81" height="7.74" fill="#f05f41"/>
<rect x="364.81" y="239.08" width="8.21" height="7.74" fill="#f7b29b"/>
<rect x="372.02" y="239.08" width="8.21" height="7.74" fill="#f7b29b"/>
<rect x="379.23" y="239.08" width="8.21" height="7.74" fill="#facdbe"/>
<rect x="386.44" y="239.08" width="8.21" height="7.74" fill="#f7b29b"/>
<rect x="393.65" y="239.08" width="8.21" height="7.74" fill="#e4dff0"/>
<rect x="400.85" y="239.08" width="8.21" height="7.74" fill="#f7b29b"/>
<rect x="408.06" y="239.08" width="8.21" height="7.74" fill="#f9e4de"/>
<rect x="415.27" y="239.08" width="8.21" height="7.74" fill="#facdbe"/>
<rect x="422.48" y="239.08" width="8.21" height="7.74" fill="#f49176"/>
<rect x="429.69" y="239.08" width="8.21" height="7.74" fill="#facdbe"/>
<rect x="436.9" y="239.08" width="8.21" height="7.74" fill="#f2eef2"/>
<rect x="444.11" y="239.08" width="6.89" height="7.74" fill="#f2eef2"/>
<rect x="30.9" y="245.82" width="7.16" height="7.74" fill="#324baa"/>
<rect x="37.06" y="245.82" width="8.21" height="7.74" fill="#324baa"/>
<rect x="44.27" y="245.82" width="8.21" height="7.74" fill="#d0c7e8"/>
<rect x="51.48" y="245.82" width="8.21" height="7.74" fill="#f49176"/>
<rect x="58.69" y="245.82" width="8.21" height="7.74" fill="#f2eef2"/>
<rect x="65.9" y="245.82" width="8.21" height="7.74" fill="#e4dff0"/>
<rect x="73.1" y="245.82" width="8.21" height="7.74" fill="#e4dff0"/>
<rect x="80.31" y="245.82" width="8.21" height="7.74" fill="#f9e4de"/>
<rect x="87.52" y="245.82" width="8.21" height="7.74" fill="#f9e4de"/>
<rect x="94.73" y="245.82" width="8.21" height="7.74" fill="#f2eef2"/>
<rect x="101.94" y="245.82" width="8.21" height="7.74" fill="#f9e4de"/>
<rect x="109.15" y="245.82" width="8.21" height="7.74" fill="#f2eef2"/>
<rect x="116.36" y="245.82" width="8.21" height="7.74" fill="#e4dff0"/>
<rect x="123.57" y="245.82" width="8.21" height="7.74" fill="#f2eef2"/>
<rect x="130.78" y="245.82" width="8.21" height="7.74" fill="#9d8bcc"/>
<rect x="137.98" y="245.82" width="8.21" height="7.74" fill="#9d8bcc"/>
<rect x="145.19" y="245.82" width="8.21" height="7.74" fill="#d0c7e8"/>
<rect x="152.4" y="245.82" width="8.21" height="7.74" fill="#d0c7e8"/>
<rect x="159.61" y="245.82" width="8.21" height="7.74" fill="#facdbe"/>
<rect x="166.82" y="245.82" width="8.21" height="7.74" fill="#f7b29b"/>
<rect x="174.03" y="245.82" width="8.21" height="7.74" fill="#f2eef2"/>
<rect x="181.24" y="245.82" width="8.21" height="7.74" fill="#9d8bcc"/>
<rect x="188.45" y="245.82" width="8.21" height="7.74" fill="#d0c7e8"/>
<rect x="195.66" y="245.82" width="8.21" height="7.74" fill="#d0c7e8"/>
<rect x="202.87" y="245.82" width="8.21" height="7.74" fill="#e4dff0"/>
<rect x="210.07" y="245.82" width="8.21" height="7.74" fill="#d0c7e8"/>
<rect x="217.28" y="245.82" width="8.21" height="7.74" fill="#d0c7e8"/>
<rect x="224.49" y="245.82" width="8.21" height="7.74" fill="#d0c7e8"/>
<rect x="231.7" y="245.82" width="8.21" height="7.74" fill="#d0c7e8"/>
<rect x="238.91" y="245.82" width="7.19" height="7.74" fill="#7a67bc"/>
<rect x="248" y="245.82" width="8.01" height="7.74" fill="#f9e4de"/>
<rect x="255.01" y="245.82" width="8.21" height="7.74" fill="#f2eef2"/>
<rect x="262.22" y="245.82" width="8.21" height="7.74" fill="#f49176"/>
<rect x="269.43" y="245.82" width="8.21" height="7.74" fill="#f7b29b"/>
<rect x="276.64" y="245.82" width="8.21" height="7.74" fill="#f2eef2"/>
<rect x="283.85" y="245.82" width="8.21" height="7.74" fill="#f7b29b"/>
<rect x="291.05" y="245.82" width="8.21" height="7.74" fill="#f7b29b"/>
<rect x="298.26" y="245.82" width="8.21" height="7.74" fill="#f2eef2"/>
<rect x="305.47" y="245.82" width="8.21" height="7.74" fill="#7a67bc"/>
<rect x="312.68" y="245.82" width="8.21" height="7.74" fill="#f2eef2"/>
<rect x="319.89" y="245.82" width="8.21" height="7.74" fill="#f2eef2"/>
<rect x="327.1" y="245.82" width="8.21" height="7.74" fill="#7a67bc"/>
<rect x="334.31" y="245.82" width="8.21" height="7.74" fill="#f05f41"/>
<rect x="341.52" y="245.82" width="8.21" height="7.74" fill="#e4dff0"/>
<rect x="348.73" y="245.82" width="7.17" height="7.74" fill="#facdbe"/>
<rect x="358" y="245.82" width="7.81" height="7.74" fill="#f7b29b"/>
<rect x="364.81" y="245.82" width="8.21" height="7.74" fill="#f7b29b"/>
<rect x="372.02" y="245.82" width="8.21" height="7.74" fill="#f7b29b"/>
<rect x="379.23" y="245.82" width="8.21" height="7.74" fill="#f7b29b"/>
<rect x="386.44" y="245.82" width="8.21" height="7.74" fill="#f49176"/>
<rect x="393.65" y="245.82" width="8.21" height="7.74" fill="#f49176"/>
<rect x="400.85" y="245.82" width="8.21" height="7.74" fill="#f2eef2"/>
<rect x="408.06" y="245.82" width="8.21" height="7.74" fill="#f9e4de"/>
<rect x="415.27" y="245.82" width="8.21" height="7.74" fill="#facdbe"/>
<rect x="422.48" y="245.82" width="8.21" height="7.74" fill="#e4dff0"/>
<rect x="429.69" y="245.82" width="8.21" height="7.74" fill="#e4dff0"/>
<rect x="436.9" y="245.82" width="8.21" height="7.74" fill="#facdbe"/>
<rect x="444.11" y="245.82" width="6.89" height="7.74" fill="#f2eef2"/>
<rect x="30.9" y="252.56" width="7.16" height="7.74" fill="#324baa"/>
<rect x="37.06" y="252.56" width="8.21" height="7.74" fill="#7a67bc"/>
<rect x="44.27" y="252.56" width="8.21" height="7.74" fill="#7a67bc"/>
<rect x="51.48" y="252.56" width="8.21" height="7.74" fill="#e4dff0"/>
<rect x="58.69" y="252.56" width="8.21" height="7.74" fill="#f2eef2"/>
<rect x="65.9" y="252.56" width="8.21" height="7.74" fill="#f7b29b"/>
<rect x="73.1" y="252.56" width="8.21" height="7.74" fill="#e4dff0"/>
<rect x="80.31" y="252.56" width="8.21" height="7.74" fill="#d0c7e8"/>
<rect x="87.52" y="252.56" width="8.21" height="7.74" fill="#e4dff0"/>
<rect x="94.73" y="252.56" width="8.21" height="7.74" fill="#facdbe"/>
<rect x="101.94" y="252.56" width="8.21" height="7.74" fill="#f9e4de"/>
<rect x="109.15" y="252.56" width="8.21" height="7.74" fill="#d0c7e8"/>
<rect x="116.36" y="252.56" width="8.21" height="7.74" fill="#d0c7e8"/>
<rect x="123.57" y="252.56" width="8.21" height="7.74" fill="#f9e4de"/>
<rect x="130.78" y="252.56" width="8.21" height="7.74" fill="#f7b29b"/>
<rect x="137.98" y="252.56" width="8.21" height="7.74" fill="#d0c7e8"/>
<rect x="145.19" y="252.56" width="8.21" height="7.74" fill="#f9e4de"/>
<rect x="152.4" y="252.56" width="8.21" height="7.74" fill="#facdbe"/>
<rect x="159.61" y="252.56" width="8.21" height="7.74" fill="#f9e4de"/>
<rect x="166.82" y="252.56" width="8.21" height="7.74" fill="#f2eef2"/>
<rect x="174.03" y="252.56" width="8.21" height="7.74" fill="#d0c7e8"/>
<rect x="181.24" y="252.56" width="8.21" height="7.74" fill="#7a67bc"/>
<rect x="188.45" y="252.56" width="8.21" height="7.74" fill="#9d8bcc"/>
<rect x="195.66" y="252.56" width="8.21" height="7.74" fill="#9d8bcc"/>
<rect x="202.87" y="252.56" width="8.21" height="7.74" fill="#f49176"/>
<rect x="210.07" y="252.56" width="8.21" height="7.74" fill="#e4dff0"/>
<rect x="217.28" y="252.56" width="8.21" height="7.74" fill="#f9e4de"/>
<rect x="224.49" y="252.56" width="8.21" height="7.74" fill="#d0c7e8"/>
<rect x="231.7" y="252.56" width="8.21" height="7.74" fill="#5a55af"/>
<rect x="238.91" y="252.56" width="7.19" height="7.74" fill="#d0c7e8"/>
<rect x="248" y="252.56" width="8.01" height="7.74" fill="#f9e4de"/>
<rect x="255.01" y="252.56" width="8.21" height="7.74" fill="#f2eef2"/>
<rect x="262.22" y="252.56" width="8.21" height="7.74" fill="#f9e4de"/>
<rect x="269.43" y="252.56" width="8.21" height="7.74" fill="#f2eef2"/>
<rect x="276.64" y="252.56" width="8.21" height="7.74" fill="#f7b29b"/>
<rect x="283.85" y="252.56" width="8.21" height="7.74" fill="#f49176"/>
<rect x="291.05" y="252.56" width="8.21" height="7.74" fill="#f37a5c"/>
<rect x="298.26" y="252.56" width="8.21" height="7.74" fill="#f9e4de"/>
<rect x="305.47" y="252.56" width="8.21" height="7.74" fill="#9d8bcc"/>
<rect x="312.68" y="252.56" width="8.21" height="7.74" fill="#e4dff0"/>
<rect x="319.89" y="252.56" width="8.21" height="7.74" fill="#f2eef2"/>
<rect x="327.1" y="252.56" width="8.21" height="7.74" fill="#f9e4de"/>
<rect x="334.31" y="252.56" width="8.21" height="7.74" fill="#e4dff0"/>
<rect x="341.52" y="252.56" width="8.21" height="7.74" fill="#d0c7e8"/>
<rect x="348.73" y="252.56" width="7.17" height="7.74" fill="#e4dff0"/>
<rect x="358" y="252.56" width="7.81" height="7.74" fill="#facdbe"/>
<rect x="364.81" y="252.56" width="8.21" height="7.74" fill="#facdbe"/>
<rect x="372.02" y="252.56" width="8.21" height="7.74" fill="#f7b29b"/>
<rect x="379.23" y="252.56" width="8.21" height="7.74" fill="#f7b29b"/>
<rect x="386.44" y="252.56" width="8.21" height="7.74" fill="#f37a5c"/>
<rect x="393.65" y="252.56" width="8.21" height="7.74" fill="#d0c7e8"/>
<rect x="400.85" y="252.56" width="8.21" height="7.74" fill="#f49176"/>
<rect x="408.06" y="252.56" width="8.21" height="7.74" fill="#f2eef2"/>
<rect x="415.27" y="252.56" width="8.21" height="7.74" fill="#facdbe"/>
<rect x="422.48" y="252.56" width="8.21" height="7.74" fill="#f05f41"/>
<rect x="429.69" y="252.56" width="8.21" height="7.74" fill="#9d8bcc"/>
<rect x="436.9" y="252.56" width="8.21" height="7.74" fill="#7a67bc"/>
<rect x="444.11" y="252.56" width="6.89" height="7.74" fill="#9d8bcc"/>
<rect x="30.9" y="259.3" width="7.16" height="7.74" fill="#d0c7e8"/>
<rect x="37.06" y="259.3" width="8.21" height="7.74" fill="#f37a5c"/>
<rect x="44.27" y="259.3" width="8.21" height="7.74" fill="#f7b29b"/>
<rect x="51.48" y="259.3" width="8.21" height="7.74" fill="#d0c7e8"/>
<rect x="58.69" y="259.3" width="8.21" height="7.74" fill="#d0c7e8"/>
<rect x="65.9" y="259.3" width="8.21" height="7.74" fill="#7a67bc"/>
<rect x="73.1" y="259.3" width="8.21" height="7.74" fill="#7a67bc"/>
<rect x="80.31" y="259.3" width="8.21" height="7.74" fill="#7a67bc"/>
<rect x="87.52" y="259.3" width="8.21" height="7.74" fill="#7a67bc"/>
<rect x="94.73" y="259.3" width="8.21" height="7.74" fill="#f9e4de"/>
<rect x="101.94" y="259.3" width="8.21" height="7.74" fill="#f49176"/>
<rect x="109.15" y="259.3" width="8.21" height="7.74" fill="#9d8bcc"/>
<rect x="116.36" y="259.3" width="8.21" height="7.74" fill="#7a67bc"/>
<rect x="123.57" y="259.3" width="8.21" height="7.74" fill="#f9e4de"/>
<rect x="130.78" y="259.3" width="8.21" height="7.74" fill="#facdbe"/>
<rect x="137.98" y="259.3" width="8.21" height="7.74" fill="#d0c7e8"/>
<rect x="145.19" y="259.3" width="8.21" height="7.74" fill="#d0c7e8"/>
<rect x="152.4" y="259.3" width="8.21" height="7.74" fill="#d0c7e8"/>
<rect x="159.61" y="259.3" width="8.21" height="7.74" fill="#7a67bc"/>
<rect x="166.82" y="259.3" width="8.21" height="7.74" fill="#5a55af"/>
<rect x="174.03" y="259.3" width="8.21" height="7.74" fill="#f2eef2"/>
<rect x="181.24" y="259.3" width="8.21" height="7.74" fill="#9d8bcc"/>
<rect x="188.45" y="259.3" width="8.21" height="7.74" fill="#5a55af"/>
<rect x="195.66" y="259.3" width="8.21" height="7.74" fill="#e4dff0"/>
<rect x="202.87" y="259.3" width="8.21" height="7.74" fill="#9d8bcc"/>
<rect x="210.07" y="259.3" width="8.21" height="7.74" fill="#e4dff0"/>
<rect x="217.28" y="259.3" width="8.21" height="7.74" fill="#f2eef2"/>
<rect x="224.49" y="259.3" width="8.21" height="7.74" fill="#f2eef2"/>
<rect x="231.7" y="259.3" width="8.21" height="7.74" fill="#d0c7e8"/>
<rect x="238.91" y="259.3" width="7.19" height="7.74" fill="#e4dff0"/>
<rect x="248" y="259.3" width="8.01" height="7.74" fill="#facdbe"/>
<rect x="255.01" y="259.3" width="8.21" height="7.74" fill="#7a67bc"/>
<rect x="262.22" y="259.3" width="8.21" height="7.74" fill="#facdbe"/>
<rect x="269.43" y="259.3" width="8.21" height="7.74" fill="#5a55af"/>
<rect x="276.64" y="259.3" width="8.21" height="7.74" fill="#facdbe"/>
<rect x="283.85" y="259.3" width="8.21" height="7.74" fill="#f7b29b"/>
<rect x="291.05" y="259.3" width="8.21" height="7.74" fill="#f2eef2"/>
<rect x="298.26" y="259.3" width="8.21" height="7.74" fill="#f9e4de"/>
<rect x="305.47" y="259.3" width="8.21" height="7.74" fill="#f2eef2"/>
<rect x="312.68" y="259.3" width="8.21" height="7.74" fill="#f9e4de"/>
<rect x="319.89" y="259.3" width="8.21" height="7.74" fill="#f7b29b"/>
<rect x="327.1" y="259.3" width="8.21" height="7.74" fill="#f37a5c"/>
<rect x="334.31" y="259.3" width="8.21" height="7.74" fill="#7a67bc"/>
<rect x="341.52" y="259.3" width="8.21" height="7.74" fill="#facdbe"/>
<rect x="348.73" y="259.3" width="7.17" height="7.74" fill="#f7b29b"/>
<rect x="358" y="259.3" width="7.81" height="7.74" fill="#f49176"/>
<rect x="364.81" y="259.3" width="8.21" height="7.74" fill="#f7b29b"/>
<rect x="372.02" y="259.3" width="8.21" height="7.74" fill="#f9e4de"/>
<rect x="379.23" y="259.3" width="8.21" height="7.74" fill="#f7b29b"/>
<rect x="386.44" y="259.3" width="8.21" height="7.74" fill="#f7b29b"/>
<rect x="393.65" y="259.3" width="8.21" height="7.74" fill="#f49176"/>
<rect x="400.85" y="259.3" width="8.21" height="7.74" fill="#f37a5c"/>
<rect x="408.06" y="259.3" width="8.21" height="7.74" fill="#f49176"/>
<rect x="415.27" y="259.3" width="8.21" height="7.74" fill="#f37a5c"/>
<rect x="422.48" y="259.3" width="8.21" height="7.74" fill="#f37a5c"/>
<rect x="429.69" y="259.3" width="8.21" height="7.74" fill="#f37a5c"/>
<rect x="436.9" y="259.3" width="8.21" height="7.74" fill="#9d8bcc"/>
<rect x="444.11" y="259.3" width="6.89" height="7.74" fill="#f9e4de"/>
<rect x="30.9" y="266.04" width="7.16" height="7.74" fill="#d0c7e8"/>
<rect x="37.06" y="266.04" width="8.21" height="7.74" fill="#f9e4de"/>
<rect x="44.27" y="266.04" width="8.21" height="7.74" fill="#d0c7e8"/>
<rect x="51.48" y="266.04" width="8.21" height="7.74" fill="#5a55af"/>
<rect x="58.69" y="266.04" width="8.21" height="7.74" fill="#5a55af"/>
<rect x="65.9" y="266.04" width="8.21" height="7.74" fill="#d0c7e8"/>
<rect x="73.1" y="266.04" width="8.21" height="7.74" fill="#9d8bcc"/>
<rect x="80.31" y="266.04" width="8.21" height="7.74" fill="#7a67bc"/>
<rect x="87.52" y="266.04" width="8.21" height="7.74" fill="#9d8bcc"/>
<rect x="94.73" y="266.04" width="8.21" height="7.74" fill="#9d8bcc"/>
<rect x="101.94" y="266.04" width="8.21" height="7.74" fill="#d0c7e8"/>
<rect x="109.15" y="266.04" width="8.21" height="7.74" fill="#d0c7e8"/>
<rect x="116.36" y="266.04" width="8.21" height="7.74" fill="#e4dff0"/>
<rect x="123.57" y="266.04" width="8.21" height="7.74" fill="#f9e4de"/>
<rect x="130.78" y="266.04" width="8.21" height="7.74" fill="#facdbe"/>
<rect x="137.98" y="266.04" width="8.21" height="7.74" fill="#f7b29b"/>
<rect x="145.19" y="266.04" width="8.21" height="7.74" fill="#e4dff0"/>
<rect x="152.4" y="266.04" width="8.21" height="7.74" fill="#d0c7e8"/>
<rect x="159.61" y="266.04" width="8.21" height="7.74" fill="#e4dff0"/>
<rect x="166.82" y="266.04" width="8.21" height="7.74" fill="#facdbe"/>
<rect x="174.03" y="266.04" width="8.21" height="7.74" fill="#d0c7e8"/>
<rect x="181.24" y="266.04" width="8.21" height="7.74" fill="#e4dff0"/>
<rect x="188.45" y="266.04" width="8.21" height="7.74" fill="#d0c7e8"/>
<rect x="195.66" y="266.04" width="8.21" height="7.74" fill="#f9e4de"/>
<rect x="202.87" y="266.04" width="8.21" height="7.74" fill="#f7b29b"/>
<rect x="210.07" y="266.04" width="8.21" height="7.74" fill="#e4dff0"/>
<rect x="217.28" y="266.04" width="8.21" height="7.74" fill="#f9e4de"/>
<rect x="224.49" y="266.04" width="8.21" height="7.74" fill="#facdbe"/>
<rect x="231.7" y="266.04" width="8.21" height="7.74" fill="#9d8bcc"/>
<rect x="238.91" y="266.04" width="7.19" height="7.74" fill="#e4dff0"/>
<rect x="248" y="266.04" width="8.01" height="7.74" fill="#9d8bcc"/>
<rect x="255.01" y="266.04" width="8.21" height="7.74" fill="#9d8bcc"/>
<rect x="262.22" y="266.04" width="8.21" height="7.74" fill="#d0c7e8"/>
<rect x="269.43" y="266.04" width="8.21" height="7.74" fill="#f9e4de"/>
<rect x="276.64" y="266.04" width="8.21" height="7.74" fill="#f9e4de"/>
<rect x="283.85" y="266.04" width="8.21" height="7.74" fill="#f7b29b"/>
<rect x="291.05" y="266.04" width="8.21" height="7.74" fill="#f05f41"/>
<rect x="298.26" y="266.04" width="8.21" height="7.74" fill="#7a67bc"/>
<rect x="305.47" y="266.04" width="8.21" height="7.74" fill="#facdbe"/>
<rect x="312.68" y="266.04" width="8.21" height="7.74" fill="#f49176"/>
<rect x="319.89" y="266.04" width="8.21" height="7.74" fill="#f7b29b"/>
<rect x="327.1" y="266.04" width="8.21" height="7.74" fill="#f2eef2"/>
<rect x="334.31" y="266.04" width="8.21" height="7.74" fill="#e4dff0"/>
<rect x="341.52" y="266.04" width="8.21" height="7.74" fill="#f7b29b"/>
<rect x="348.73" y="266.04" width="7.17" height="7.74" fill="#d0c7e8"/>
<rect x="358" y="266.04" width="7.81" height="7.74" fill="#f7b29b"/>
<rect x="364.81" y="266.04" width="8.21" height="7.74" fill="#f7b29b"/>
<rect x="372.02" y="266.04" width="8.21" height="7.74" fill="#f05f41"/>
<rect x="379.23" y="266.04" width="8.21" height="7.74" fill="#f7b29b"/>
<rect x="386.44" y="266.04" width="8.21" height="7.74" fill="#facdbe"/>
<rect x="393.65" y="266.04" width="8.21" height="7.74" fill="#f7b29b"/>
<rect x="400.85" y="266.04" width="8.21" height="7.74" fill="#f7b29b"/>
<rect x="408.06" y="266.04" width="8.21" height="7.74" fill="#facdbe"/>
<rect x="415.27" y="266.04" width="8.21" height="7.74" fill="#f9e4de"/>
<rect x="422.48" y="266.04" width="8.21" height="7.74" fill="#d0c7e8"/>
<rect x="429.69" y="266.04" width="8.21" height="7.74" fill="#f9e4de"/>
<rect x="436.9" y="266.04" width="8.21" height="7.74" fill="#facdbe"/>
<rect x="444.11" y="266.04" width="6.89" height="7.74" fill="#5a55af"/>
<rect x="30.9" y="272.78" width="7.16" height="6.22" fill="#9d8bcc"/>
<rect x="37.06" y="272.78" width="8.21" height="6.22" fill="#f9e4de"/>
<rect x="44.27" y="272.78" width="8.21" height="6.22" fill="#f2eef2"/>
<rect x="51.48" y="272.78" width="8.21" height="6.22" fill="#7a67bc"/>
<rect x="58.69" y="272.78" width="8.21" height="6.22" fill="#d0c7e8"/>
<rect x="65.9" y="272.78" width="8.21" height="6.22" fill="#d0c7e8"/>
<rect x="73.1" y="272.78" width="8.21" height="6.22" fill="#e4dff0"/>
<rect x="80.31" y="272.78" width="8.21" height="6.22" fill="#9d8bcc"/>
<rect x="87.52" y="272.78" width="8.21" height="6.22" fill="#d0c7e8"/>
<rect x="94.73" y="272.78" width="8.21" height="6.22" fill="#9d8bcc"/>
<rect x="101.94" y="272.78" width="8.21" height="6.22" fill="#9d8bcc"/>
<rect x="109.15" y="272.78" width="8.21" height="6.22" fill="#5a55af"/>
<rect x="116.36" y="272.78" width="8.21" height="6.22" fill="#f9e4de"/>
<rect x="123.57" y="272.78" width="8.21" height="6.22" fill="#d0c7e8"/>
<rect x="130.78" y="272.78" width="8.21" height="6.22" fill="#f2eef2"/>
<rect x="137.98" y="272.78" width="8.21" height="6.22" fill="#f2eef2"/>
<rect x="145.19" y="272.78" width="8.21" height="6.22" fill="#9d8bcc"/>
<rect x="152.4" y="272.78" width="8.21" height="6.22" fill="#e4dff0"/>
<rect x="159.61" y="272.78" width="8.21" height="6.22" fill="#d0c7e8"/>
<rect x="166.82" y="272.78" width="8.21" height="6.22" fill="#9d8bcc"/>
<rect x="174.03" y="272.78" width="8.21" height="6.22" fill="#7a67bc"/>
<rect x="181.24" y="272.78" width="8.21" height="6.22" fill="#324baa"/>
<rect x="188.45" y="272.78" width="8.21" height="6.22" fill="#f2eef2"/>
<rect x="195.66" y="272.78" width="8.21" height="6.22" fill="#f9e4de"/>
<rect x="202.87" y="272.78" width="8.21" height="6.22" fill="#facdbe"/>
<rect x="210.07" y="272.78" width="8.21" height="6.22" fill="#9d8bcc"/>
<rect x="217.28" y="272.78" width="8.21" height="6.22" fill="#f05f41"/>
<rect x="224.49" y="272.78" width="8.21" height="6.22" fill="#f05f41"/>
<rect x="231.7" y="272.78" width="8.21" height="6.22" fill="#f2eef2"/>
<rect x="238.91" y="272.78" width="7.19" height="6.22" fill="#e4dff0"/>
<rect x="248" y="272.78" width="8.01" height="6.22" fill="#7a67bc"/>
<rect x="255.01" y="272.78" width="8.21" height="6.22" fill="#9d8bcc"/>
<rect x="262.22" y="272.78" width="8.21" height="6.22" fill="#e4dff0"/>
<rect x="269.43" y="272.78" width="8.21" height="6.22" fill="#d0c7e8"/>
<rect x="276.64" y="272.78" width="8.21" height="6.22" fill="#f9e4de"/>
<rect x="283.85" y="272.78" width="8.21" height="6.22" fill="#f7b29b"/>
<rect x="291.05" y="272.78" width="8.21" height="6.22" fill="#f37a5c"/>
<rect x="298.26" y="272.78" width="8.21" height="6.22" fill="#9d8bcc"/>
<rect x="305.47" y="272.78" width="8.21" height="6.22" fill="#e4dff0"/>
<rect x="312.68" y="272.78" width="8.21" height="6.22" fill="#f9e4de"/>
<rect x="319.89" y="272.78" width="8.21" height="6.22" fill="#f49176"/>
<rect x="327.1" y="272.78" width="8.21" height="6.22" fill="#f49176"/>
<rect x="334.31" y="272.78" width="8.21" height="6.22" fill="#d0c7e8"/>
<rect x="341.52" y="272.78" width="8.21" height="6.22" fill="#facdbe"/>
<rect x="348.73" y="272.78" width="7.17" height="6.22" fill="#f2eef2"/>
<rect x="358" y="272.78" width="7.81" height="6.22" fill="#f49176"/>
<rect x="364.81" y="272.78" width="8.21" height="6.22" fill="#f9e4de"/>
<rect x="372.02" y="272.78" width="8.21" height="6.22" fill="#facdbe"/>
<rect x="379.23" y="272.78" width="8.21" height="6.22" fill="#e4dff0"/>
<rect x="386.44" y="272.78" width="8.21" height="6.22" fill="#facdbe"/>
<rect x="393.65" y="272.78" width="8.21" height="6.22" fill="#e4dff0"/>
<rect x="400.85" y="272.78" width="8.21" height="6.22" fill="#f7b29b"/>
<rect x="408.06" y="272.78" width="8.21" height="6.22" fill="#d0c7e8"/>
<rect x="415.27" y="272.78" width="8.21" height="6.22" fill="#f9e4de"/>
<rect x="422.48" y="272.78" width="8.21" height="6.22" fill="#facdbe"/>
<rect x="429.69" y="272.78" width="8.21" height="6.22" fill="#e82326"/>
<rect x="436.9" y="272.78" width="8.21" height="6.22" fill="#f9e4de"/>
<rect x="444.11" y="272.78" width="6.89" height="6.22" fill="#facdbe"/>
<rect x="246" y="51" width="2" height="228" fill="#a3adb2"/>
<rect x="355.8" y="51" width="2.2" height="228" fill="#a3adb2"/>
<g stroke-width="0.9" fill="none" stroke-linecap="square">
<line x1="40.29" y1="38" x2="40.29" y2="44.86" stroke="#dc7499"/>
<line x1="34.9" y1="44.86" x2="34.9" y2="51" stroke="#dc7499"/>
<line x1="45.69" y1="44.86" x2="45.69" y2="45.12" stroke="#dc7499"/>
<line x1="42.09" y1="45.12" x2="42.09" y2="51" stroke="#dc7499"/>
<line x1="49.28" y1="45.12" x2="49.28" y2="51" stroke="#dc7499"/>
<line x1="42.09" y1="45.12" x2="49.28" y2="45.12" stroke="#dc7499"/>
<line x1="34.9" y1="44.86" x2="45.69" y2="44.86" stroke="#dc7499"/>
<line x1="140.39" y1="38" x2="140.39" y2="38.69" stroke="#dc7499"/>
<line x1="93.99" y1="38.69" x2="93.99" y2="43.05" stroke="#dc7499"/>
<line x1="69.5" y1="43.05" x2="69.5" y2="44.9" stroke="#dc7499"/>
<line x1="60.06" y1="44.9" x2="60.06" y2="45.78" stroke="#dc7499"/>
<line x1="56.47" y1="45.78" x2="56.47" y2="51" stroke="#dc7499"/>
<line x1="63.66" y1="45.78" x2="63.66" y2="51" stroke="#dc7499"/>
<line x1="56.47" y1="45.78" x2="63.66" y2="45.78" stroke="#dc7499"/>
<line x1="78.94" y1="44.9" x2="78.94" y2="45.81" stroke="#dc7499"/>
<line x1="70.85" y1="45.81" x2="70.85" y2="51" stroke="#dc7499"/>
<line x1="87.03" y1="45.81" x2="87.03" y2="47.02" stroke="#dc7499"/>
<line x1="81.63" y1="47.02" x2="81.63" y2="47.14" stroke="#dc7499"/>
<line x1="78.04" y1="47.14" x2="78.04" y2="51" stroke="#dc7499"/>
<line x1="85.23" y1="47.14" x2="85.23" y2="51" stroke="#dc7499"/>
<line x1="78.04" y1="47.14" x2="85.23" y2="47.14" stroke="#dc7499"/>
<line x1="92.42" y1="47.02" x2="92.42" y2="51" stroke="#dc7499"/>
<line x1="81.63" y1="47.02" x2="92.42" y2="47.02" stroke="#dc7499"/>
<line x1="70.85" y1="45.81" x2="87.03" y2="45.81" stroke="#dc7499"/>
<line x1="60.06" y1="44.9" x2="78.94" y2="44.9" stroke="#dc7499"/>
<line x1="118.48" y1="43.05" x2="118.48" y2="44.36" stroke="#dc7499"/>
<line x1="105" y1="44.36" x2="105" y2="46.45" stroke="#dc7499"/>
<line x1="99.61" y1="46.45" x2="99.61" y2="51" stroke="#dc7499"/>
<line x1="110.4" y1="46.45" x2="110.4" y2="46.6" stroke="#dc7499"/>
<line x1="106.8" y1="46.6" x2="106.8" y2="51" stroke="#dc7499"/>
<line x1="113.99" y1="46.6" x2="113.99" y2="51" stroke="#dc7499"/>
<line x1="106.8" y1="46.6" x2="113.99" y2="46.6" stroke="#dc7499"/>
<line x1="99.61" y1="46.45" x2="110.4" y2="46.45" stroke="#dc7499"/>
<line x1="131.97" y1="44.36" x2="131.97" y2="45.39" stroke="#dc7499"/>
<line x1="124.78" y1="45.39" x2="124.78" y2="47.16" stroke="#dc7499"/>
<line x1="121.18" y1="47.16" x2="121.18" y2="51" stroke="#dc7499"/>
<line x1="128.37" y1="47.16" x2="128.37" y2="51" stroke="#dc7499"/>
<line x1="121.18" y1="47.16" x2="128.37" y2="47.16" stroke="#dc7499"/>
<line x1="139.16" y1="45.39" x2="139.16" y2="45.79" stroke="#dc7499"/>
<line x1="135.56" y1="45.79" x2="135.56" y2="51" stroke="#dc7499"/>
<line x1="142.75" y1="45.79" x2="142.75" y2="51" stroke="#dc7499"/>
<line x1="135.56" y1="45.79" x2="142.75" y2="45.79" stroke="#dc7499"/>
<line x1="124.78" y1="45.39" x2="139.16" y2="45.39" stroke="#dc7499"/>
<line x1="105" y1="44.36" x2="131.97" y2="44.36" stroke="#dc7499"/>
<line x1="69.5" y1="43.05" x2="118.48" y2="43.05" stroke="#dc7499"/>
<line x1="186.79" y1="38.69" x2="186.79" y2="40.97" stroke="#dc7499"/>
<line x1="160.73" y1="40.97" x2="160.73" y2="43.41" stroke="#dc7499"/>
<line x1="153.53" y1="43.41" x2="153.53" y2="47.6" stroke="#dc7499"/>
<line x1="149.94" y1="47.6" x2="149.94" y2="51" stroke="#dc7499"/>
<line x1="157.13" y1="47.6" x2="157.13" y2="51" stroke="#dc7499"/>
<line x1="149.94" y1="47.6" x2="157.13" y2="47.6" stroke="#dc7499"/>
<line x1="167.92" y1="43.41" x2="167.92" y2="45.91" stroke="#dc7499"/>
<line x1="164.32" y1="45.91" x2="164.32" y2="51" stroke="#dc7499"/>
<line x1="171.51" y1="45.91" x2="171.51" y2="51" stroke="#dc7499"/>
<line x1="164.32" y1="45.91" x2="171.51" y2="45.91" stroke="#dc7499"/>
<line x1="153.53" y1="43.41" x2="167.92" y2="43.41" stroke="#dc7499"/>
<line x1="212.85" y1="40.97" x2="212.85" y2="42.05" stroke="#dc7499"/>
<line x1="193.08" y1="42.05" x2="193.08" y2="44.19" stroke="#dc7499"/>
<line x1="182.3" y1="44.19" x2="182.3" y2="46.22" stroke="#dc7499"/>
<line x1="178.7" y1="46.22" x2="178.7" y2="51" stroke="#dc7499"/>
<line x1="185.89" y1="46.22" x2="185.89" y2="51" stroke="#dc7499"/>
<line x1="178.7" y1="46.22" x2="185.89" y2="46.22" stroke="#dc7499"/>
<line x1="203.87" y1="44.19" x2="203.87" y2="44.62" stroke="#dc7499"/>
<line x1="196.68" y1="44.62" x2="196.68" y2="46.33" stroke="#dc7499"/>
<line x1="193.08" y1="46.33" x2="193.08" y2="51" stroke="#dc7499"/>
<line x1="200.27" y1="46.33" x2="200.27" y2="51" stroke="#dc7499"/>
<line x1="193.08" y1="46.33" x2="200.27" y2="46.33" stroke="#dc7499"/>
<line x1="211.06" y1="44.62" x2="211.06" y2="45.83" stroke="#dc7499"/>
<line x1="207.46" y1="45.83" x2="207.46" y2="51" stroke="#dc7499"/>
<line x1="214.65" y1="45.83" x2="214.65" y2="51" stroke="#dc7499"/>
<line x1="207.46" y1="45.83" x2="214.65" y2="45.83" stroke="#dc7499"/>
<line x1="196.68" y1="44.62" x2="211.06" y2="44.62" stroke="#dc7499"/>
<line x1="182.3" y1="44.19" x2="203.87" y2="44.19" stroke="#dc7499"/>
<line x1="232.62" y1="42.05" x2="232.62" y2="42.85" stroke="#dc7499"/>
<line x1="225.44" y1="42.85" x2="225.44" y2="46.8" stroke="#dc7499"/>
<line x1="221.84" y1="46.8" x2="221.84" y2="51" stroke="#dc7499"/>
<line x1="229.03" y1="46.8" x2="229.03" y2="51" stroke="#dc7499"/>
<line x1="221.84" y1="46.8" x2="229.03" y2="46.8" stroke="#dc7499"/>
<line x1="239.82" y1="42.85" x2="239.82" y2="46.29" stroke="#dc7499"/>
<line x1="236.22" y1="46.29" x2="236.22" y2="51" stroke="#dc7499"/>
<line x1="243.41" y1="46.29" x2="243.41" y2="51" stroke="#dc7499"/>
<line x1="236.22" y1="46.29" x2="243.41" y2="46.29" stroke="#dc7499"/>
<line x1="225.44" y1="42.85" x2="239.82" y2="42.85" stroke="#dc7499"/>
<line x1="193.08" y1="42.05" x2="232.62" y2="42.05" stroke="#dc7499"/>
<line x1="160.73" y1="40.97" x2="212.85" y2="40.97" stroke="#dc7499"/>
<line x1="93.99" y1="38.69" x2="186.79" y2="38.69" stroke="#dc7499"/>
<line x1="40.29" y1="38" x2="140.39" y2="38" stroke="#dc7499"/>
<line x1="266.8" y1="40.5" x2="266.8" y2="42.83" stroke="#5fab8c"/>
<line x1="256.9" y1="42.83" x2="256.9" y2="45.01" stroke="#5fab8c"/>
<line x1="251.5" y1="45.01" x2="251.5" y2="51" stroke="#5fab8c"/>
<line x1="262.3" y1="45.01" x2="262.3" y2="45.86" stroke="#5fab8c"/>
<line x1="258.7" y1="45.86" x2="258.7" y2="51" stroke="#5fab8c"/>
<line x1="265.9" y1="45.86" x2="265.9" y2="51" stroke="#5fab8c"/>
<line x1="258.7" y1="45.86" x2="265.9" y2="45.86" stroke="#5fab8c"/>
<line x1="251.5" y1="45.01" x2="262.3" y2="45.01" stroke="#5fab8c"/>
<line x1="276.7" y1="42.83" x2="276.7" y2="44.27" stroke="#5fab8c"/>
<line x1="273.1" y1="44.27" x2="273.1" y2="51" stroke="#5fab8c"/>
<line x1="280.3" y1="44.27" x2="280.3" y2="51" stroke="#5fab8c"/>
<line x1="273.1" y1="44.27" x2="280.3" y2="44.27" stroke="#5fab8c"/>
<line x1="256.9" y1="42.83" x2="276.7" y2="42.83" stroke="#5fab8c"/>
<line x1="303.59" y1="40.5" x2="303.59" y2="41.45" stroke="#5fab8c"/>
<line x1="291.1" y1="41.45" x2="291.1" y2="45.06" stroke="#5fab8c"/>
<line x1="287.5" y1="45.06" x2="287.5" y2="51" stroke="#5fab8c"/>
<line x1="294.7" y1="45.06" x2="294.7" y2="51" stroke="#5fab8c"/>
<line x1="287.5" y1="45.06" x2="294.7" y2="45.06" stroke="#5fab8c"/>
<line x1="316.07" y1="41.45" x2="316.07" y2="43.17" stroke="#5fab8c"/>
<line x1="301.9" y1="43.17" x2="301.9" y2="51" stroke="#5fab8c"/>
<line x1="330.25" y1="43.17" x2="330.25" y2="44.08" stroke="#5fab8c"/>
<line x1="317.2" y1="44.08" x2="317.2" y2="44.97" stroke="#5fab8c"/>
<line x1="309.1" y1="44.97" x2="309.1" y2="51" stroke="#5fab8c"/>
<line x1="325.3" y1="44.97" x2="325.3" y2="45.66" stroke="#5fab8c"/>
<line x1="319.9" y1="45.66" x2="319.9" y2="47.8" stroke="#5fab8c"/>
<line x1="316.3" y1="47.8" x2="316.3" y2="51" stroke="#5fab8c"/>
<line x1="323.5" y1="47.8" x2="323.5" y2="51" stroke="#5fab8c"/>
<line x1="316.3" y1="47.8" x2="323.5" y2="47.8" stroke="#5fab8c"/>
<line x1="330.7" y1="45.66" x2="330.7" y2="51" stroke="#5fab8c"/>
<line x1="319.9" y1="45.66" x2="330.7" y2="45.66" stroke="#5fab8c"/>
<line x1="309.1" y1="44.97" x2="325.3" y2="44.97" stroke="#5fab8c"/>
<line x1="343.3" y1="44.08" x2="343.3" y2="45.17" stroke="#5fab8c"/>
<line x1="337.9" y1="45.17" x2="337.9" y2="51" stroke="#5fab8c"/>
<line x1="348.7" y1="45.17" x2="348.7" y2="46.94" stroke="#5fab8c"/>
<line x1="345.1" y1="46.94" x2="345.1" y2="51" stroke="#5fab8c"/>
<line x1="352.3" y1="46.94" x2="352.3" y2="51" stroke="#5fab8c"/>
<line x1="345.1" y1="46.94" x2="352.3" y2="46.94" stroke="#5fab8c"/>
<line x1="337.9" y1="45.17" x2="348.7" y2="45.17" stroke="#5fab8c"/>
<line x1="317.2" y1="44.08" x2="343.3" y2="44.08" stroke="#5fab8c"/>
<line x1="301.9" y1="43.17" x2="330.25" y2="43.17" stroke="#5fab8c"/>
<line x1="291.1" y1="41.45" x2="316.07" y2="41.45" stroke="#5fab8c"/>
<line x1="266.8" y1="40.5" x2="303.59" y2="40.5" stroke="#5fab8c"/>
<line x1="367.65" y1="40.2" x2="367.65" y2="43.1" stroke="#5b9bd2"/>
<line x1="360.9" y1="43.1" x2="360.9" y2="51" stroke="#5b9bd2"/>
<line x1="374.4" y1="43.1" x2="374.4" y2="45" stroke="#5b9bd2"/>
<line x1="368.1" y1="45" x2="368.1" y2="51" stroke="#5b9bd2"/>
<line x1="380.7" y1="45" x2="380.7" y2="46.9" stroke="#5b9bd2"/>
<line x1="375.3" y1="46.9" x2="375.3" y2="51" stroke="#5b9bd2"/>
<line x1="386.1" y1="46.9" x2="386.1" y2="47.7" stroke="#5b9bd2"/>
<line x1="382.5" y1="47.7" x2="382.5" y2="51" stroke="#5b9bd2"/>
<line x1="389.7" y1="47.7" x2="389.7" y2="51" stroke="#5b9bd2"/>
<line x1="382.5" y1="47.7" x2="389.7" y2="47.7" stroke="#5b9bd2"/>
<line x1="375.3" y1="46.9" x2="386.1" y2="46.9" stroke="#5b9bd2"/>
<line x1="368.1" y1="45" x2="380.7" y2="45" stroke="#5b9bd2"/>
<line x1="360.9" y1="43.1" x2="374.4" y2="43.1" stroke="#5b9bd2"/>
<line x1="406.35" y1="40.2" x2="406.35" y2="41.8" stroke="#5b9bd2"/>
<line x1="396.9" y1="41.8" x2="396.9" y2="51" stroke="#5b9bd2"/>
<line x1="415.8" y1="41.8" x2="415.8" y2="42.3" stroke="#5b9bd2"/>
<line x1="404.1" y1="42.3" x2="404.1" y2="51" stroke="#5b9bd2"/>
<line x1="427.5" y1="42.3" x2="427.5" y2="43.2" stroke="#5b9bd2"/>
<line x1="416.7" y1="43.2" x2="416.7" y2="45" stroke="#5b9bd2"/>
<line x1="411.3" y1="45" x2="411.3" y2="51" stroke="#5b9bd2"/>
<line x1="422.1" y1="45" x2="422.1" y2="46.1" stroke="#5b9bd2"/>
<line x1="418.5" y1="46.1" x2="418.5" y2="51" stroke="#5b9bd2"/>
<line x1="425.7" y1="46.1" x2="425.7" y2="51" stroke="#5b9bd2"/>
<line x1="418.5" y1="46.1" x2="425.7" y2="46.1" stroke="#5b9bd2"/>
<line x1="411.3" y1="45" x2="422.1" y2="45" stroke="#5b9bd2"/>
<line x1="438.3" y1="43.2" x2="438.3" y2="45.5" stroke="#5b9bd2"/>
<line x1="432.9" y1="45.5" x2="432.9" y2="51" stroke="#5b9bd2"/>
<line x1="443.7" y1="45.5" x2="443.7" y2="47.6" stroke="#5b9bd2"/>
<line x1="440.1" y1="47.6" x2="440.1" y2="51" stroke="#5b9bd2"/>
<line x1="447.3" y1="47.6" x2="447.3" y2="51" stroke="#5b9bd2"/>
<line x1="440.1" y1="47.6" x2="447.3" y2="47.6" stroke="#5b9bd2"/>
<line x1="432.9" y1="45.5" x2="443.7" y2="45.5" stroke="#5b9bd2"/>
<line x1="416.7" y1="43.2" x2="438.3" y2="43.2" stroke="#5b9bd2"/>
<line x1="404.1" y1="42.3" x2="427.5" y2="42.3" stroke="#5b9bd2"/>
<line x1="396.9" y1="41.8" x2="415.8" y2="41.8" stroke="#5b9bd2"/>
<line x1="367.65" y1="40.2" x2="406.35" y2="40.2" stroke="#5b9bd2"/>
<line x1="285.19" y1="34" x2="285.19" y2="40.5" stroke="#5fab8c"/>
<line x1="387" y1="34" x2="387" y2="40.2" stroke="#5fab8c"/>
<line x1="285.19" y1="34" x2="387" y2="34" stroke="#5fab8c"/>
<line x1="90.34" y1="22.5" x2="90.34" y2="38" stroke="#dc7499"/>
<line x1="336.1" y1="22.5" x2="336.1" y2="34" stroke="#5fab8c"/>
<line x1="90.34" y1="22.5" x2="213.22" y2="22.5" stroke="#dc7499"/>
<line x1="213.22" y1="22.5" x2="336.1" y2="22.5" stroke="#5fab8c"/>
</g>
<g stroke-width="0.9" fill="none" stroke="#707070" stroke-linecap="square">
<line x1="13.6" y1="116.13" x2="21.46" y2="116.13"/>
<line x1="21.46" y1="73.4" x2="21.46" y2="73.4"/>
<line x1="21.46" y1="57.9" x2="23.7" y2="57.9"/>
<line x1="23.7" y1="54.55" x2="31" y2="54.55"/>
<line x1="23.7" y1="61.25" x2="31" y2="61.25"/>
<line x1="23.7" y1="54.55" x2="23.7" y2="61.25"/>
<line x1="21.46" y1="88.9" x2="22.37" y2="88.9"/>
<line x1="22.37" y1="75.5" x2="24.32" y2="75.5"/>
<line x1="24.32" y1="67.96" x2="31" y2="67.96"/>
<line x1="24.32" y1="83.04" x2="24.82" y2="83.04"/>
<line x1="24.82" y1="78.01" x2="24.86" y2="78.01"/>
<line x1="24.86" y1="74.66" x2="31" y2="74.66"/>
<line x1="24.86" y1="81.36" x2="31" y2="81.36"/>
<line x1="24.86" y1="74.66" x2="24.86" y2="81.36"/>
<line x1="24.82" y1="88.07" x2="31" y2="88.07"/>
<line x1="24.82" y1="78.01" x2="24.82" y2="88.07"/>
<line x1="24.32" y1="67.96" x2="24.32" y2="83.04"/>
<line x1="22.37" y1="102.31" x2="24.28" y2="102.31"/>
<line x1="24.28" y1="94.77" x2="31" y2="94.77"/>
<line x1="24.28" y1="109.85" x2="27" y2="109.85"/>
<line x1="27" y1="104.82" x2="27" y2="104.82"/>
<line x1="27" y1="101.47" x2="31" y2="101.47"/>
<line x1="27" y1="108.18" x2="31" y2="108.18"/>
<line x1="27" y1="101.47" x2="27" y2="108.18"/>
<line x1="27" y1="114.88" x2="31" y2="114.88"/>
<line x1="27" y1="104.82" x2="27" y2="114.88"/>
<line x1="24.28" y1="94.77" x2="24.28" y2="109.85"/>
<line x1="22.37" y1="75.5" x2="22.37" y2="102.31"/>
<line x1="21.46" y1="57.9" x2="21.46" y2="88.9"/>
<line x1="21.46" y1="158.87" x2="22.97" y2="158.87"/>
<line x1="22.97" y1="149.23" x2="23.1" y2="149.23"/>
<line x1="23.1" y1="136.66" x2="23.66" y2="136.66"/>
<line x1="23.66" y1="126.61" x2="24.99" y2="126.61"/>
<line x1="24.99" y1="121.58" x2="31" y2="121.58"/>
<line x1="24.99" y1="131.64" x2="26.73" y2="131.64"/>
<line x1="26.73" y1="128.28" x2="31" y2="128.28"/>
<line x1="26.73" y1="134.99" x2="31" y2="134.99"/>
<line x1="26.73" y1="128.28" x2="26.73" y2="134.99"/>
<line x1="24.99" y1="121.58" x2="24.99" y2="131.64"/>
<line x1="23.66" y1="146.72" x2="24.51" y2="146.72"/>
<line x1="24.51" y1="141.69" x2="31" y2="141.69"/>
<line x1="24.51" y1="151.74" x2="24.85" y2="151.74"/>
<line x1="24.85" y1="148.39" x2="31" y2="148.39"/>
<line x1="24.85" y1="155.1" x2="31" y2="155.1"/>
<line x1="24.85" y1="148.39" x2="24.85" y2="155.1"/>
<line x1="24.51" y1="141.69" x2="24.51" y2="151.74"/>
<line x1="23.66" y1="126.61" x2="23.66" y2="146.72"/>
<line x1="23.1" y1="161.8" x2="31" y2="161.8"/>
<line x1="23.1" y1="136.66" x2="23.1" y2="161.8"/>
<line x1="22.97" y1="168.5" x2="31" y2="168.5"/>
<line x1="22.97" y1="149.23" x2="22.97" y2="168.5"/>
<line x1="21.46" y1="73.4" x2="21.46" y2="158.87"/>
<line x1="13.6" y1="217.83" x2="22.08" y2="217.83"/>
<line x1="22.08" y1="184.21" x2="22.24" y2="184.21"/>
<line x1="22.24" y1="175.2" x2="31" y2="175.2"/>
<line x1="22.24" y1="193.22" x2="23.34" y2="193.22"/>
<line x1="23.34" y1="185.26" x2="25.73" y2="185.26"/>
<line x1="25.73" y1="181.91" x2="31" y2="181.91"/>
<line x1="25.73" y1="188.61" x2="31" y2="188.61"/>
<line x1="25.73" y1="181.91" x2="25.73" y2="188.61"/>
<line x1="23.34" y1="201.18" x2="24.37" y2="201.18"/>
<line x1="24.37" y1="195.31" x2="31" y2="195.31"/>
<line x1="24.37" y1="207.04" x2="24.65" y2="207.04"/>
<line x1="24.65" y1="202.02" x2="31" y2="202.02"/>
<line x1="24.65" y1="212.07" x2="25.31" y2="212.07"/>
<line x1="25.31" y1="208.72" x2="31" y2="208.72"/>
<line x1="25.31" y1="215.42" x2="31" y2="215.42"/>
<line x1="25.31" y1="208.72" x2="25.31" y2="215.42"/>
<line x1="24.65" y1="202.02" x2="24.65" y2="212.07"/>
<line x1="24.37" y1="195.31" x2="24.37" y2="207.04"/>
<line x1="23.34" y1="185.26" x2="23.34" y2="201.18"/>
<line x1="22.24" y1="175.2" x2="22.24" y2="193.22"/>
<line x1="22.08" y1="251.45" x2="22.08" y2="251.45"/>
<line x1="22.08" y1="235.53" x2="22.94" y2="235.53"/>
<line x1="22.94" y1="225.48" x2="24.72" y2="225.48"/>
<line x1="24.72" y1="222.13" x2="31" y2="222.13"/>
<line x1="24.72" y1="228.83" x2="31" y2="228.83"/>
<line x1="24.72" y1="222.13" x2="24.72" y2="228.83"/>
<line x1="22.94" y1="245.59" x2="23.36" y2="245.59"/>
<line x1="23.36" y1="238.88" x2="25.08" y2="238.88"/>
<line x1="25.08" y1="235.53" x2="31" y2="235.53"/>
<line x1="25.08" y1="242.23" x2="31" y2="242.23"/>
<line x1="25.08" y1="235.53" x2="25.08" y2="242.23"/>
<line x1="23.36" y1="252.29" x2="24.51" y2="252.29"/>
<line x1="24.51" y1="248.94" x2="31" y2="248.94"/>
<line x1="24.51" y1="255.64" x2="31" y2="255.64"/>
<line x1="24.51" y1="248.94" x2="24.51" y2="255.64"/>
<line x1="23.36" y1="238.88" x2="23.36" y2="252.29"/>
<line x1="22.94" y1="225.48" x2="22.94" y2="245.59"/>
<line x1="22.08" y1="267.37" x2="23.3" y2="267.37"/>
<line x1="23.3" y1="262.34" x2="31" y2="262.34"/>
<line x1="23.3" y1="272.4" x2="24.45" y2="272.4"/>
<line x1="24.45" y1="269.05" x2="31" y2="269.05"/>
<line x1="24.45" y1="275.75" x2="31" y2="275.75"/>
<line x1="24.45" y1="269.05" x2="24.45" y2="275.75"/>
<line x1="23.3" y1="262.34" x2="23.3" y2="272.4"/>
<line x1="22.08" y1="235.53" x2="22.08" y2="267.37"/>
<line x1="22.08" y1="184.21" x2="22.08" y2="251.45"/>
<line x1="13.6" y1="116.13" x2="13.6" y2="217.83"/>
</g>
<text x="7.3" y="18.1" font-family="Liberation Sans, sans-serif" font-size="11" font-weight="bold">A</text>
<text x="122.1" y="20.85" font-family="Liberation Sans, sans-serif" font-size="9.2" fill="#111" textLength="34.5" lengthAdjust="spacingAndGlyphs" stroke="#111" stroke-width="0.3">Cluster A</text>
<text x="283" y="20.85" font-family="Liberation Sans, sans-serif" font-size="9.2" fill="#111" textLength="35" lengthAdjust="spacingAndGlyphs" stroke="#111" stroke-width="0.3">Cluster B</text>
<text x="384.7" y="20.85" font-family="Liberation Sans, sans-serif" font-size="9.2" fill="#111" textLength="35.8" lengthAdjust="spacingAndGlyphs" stroke="#111" stroke-width="0.3">Cluster C</text>
<text x="451.3" y="57.55" font-family="Liberation Sans, sans-serif" font-size="6.8" fill="#1a1a1a" textLength="22.37" lengthAdjust="spacingAndGlyphs" stroke="#1a1a1a" stroke-width="0.18">SHISA8</text>
<text x="451.3" y="64.25" font-family="Liberation Sans, sans-serif" font-size="6.8" fill="#1a1a1a" textLength="26.93" lengthAdjust="spacingAndGlyphs" stroke="#1a1a1a" stroke-width="0.18">SLC12A8</text>
<text x="451.3" y="70.96" font-family="Liberation Sans, sans-serif" font-size="6.8" fill="#1a1a1a" textLength="27.26" lengthAdjust="spacingAndGlyphs" stroke="#1a1a1a" stroke-width="0.18">TNFSF13</text>
<text x="451.3" y="77.66" font-family="Liberation Sans, sans-serif" font-size="6.8" fill="#1a1a1a" textLength="23.78" lengthAdjust="spacingAndGlyphs" stroke="#1a1a1a" stroke-width="0.18">CXCL12</text>
<text x="451.3" y="84.36" font-family="Liberation Sans, sans-serif" font-size="6.8" fill="#1a1a1a" textLength="13.28" lengthAdjust="spacingAndGlyphs" stroke="#1a1a1a" stroke-width="0.18">MAF</text>
<text x="451.3" y="91.07" font-family="Liberation Sans, sans-serif" font-size="6.8" fill="#1a1a1a" textLength="19.58" lengthAdjust="spacingAndGlyphs" stroke="#1a1a1a" stroke-width="0.18">CTLA4</text>
<text x="451.3" y="97.77" font-family="Liberation Sans, sans-serif" font-size="6.8" fill="#1a1a1a" textLength="18.53" lengthAdjust="spacingAndGlyphs" stroke="#1a1a1a" stroke-width="0.18">HLA.C</text>
<text x="451.3" y="104.47" font-family="Liberation Sans, sans-serif" font-size="6.8" fill="#1a1a1a" textLength="18.18" lengthAdjust="spacingAndGlyphs" stroke="#1a1a1a" stroke-width="0.18">HLA.E</text>
<text x="451.3" y="111.18" font-family="Liberation Sans, sans-serif" font-size="6.8" fill="#1a1a1a" textLength="18.18" lengthAdjust="spacingAndGlyphs" stroke="#1a1a1a" stroke-width="0.18">HLA.A</text>
<text x="451.3" y="117.88" font-family="Liberation Sans, sans-serif" font-size="6.8" fill="#1a1a1a" textLength="17.83" lengthAdjust="spacingAndGlyphs" stroke="#1a1a1a" stroke-width="0.18">HLA.F</text>
<text x="451.3" y="124.58" font-family="Liberation Sans, sans-serif" font-size="6.8" fill="#1a1a1a" textLength="13.98" lengthAdjust="spacingAndGlyphs" stroke="#1a1a1a" stroke-width="0.18">GRN</text>
<text x="451.3" y="131.28" font-family="Liberation Sans, sans-serif" font-size="6.8" fill="#1a1a1a" textLength="16.08" lengthAdjust="spacingAndGlyphs" stroke="#1a1a1a" stroke-width="0.18">CD68</text>
<text x="451.3" y="137.99" font-family="Liberation Sans, sans-serif" font-size="6.8" fill="#1a1a1a" textLength="24.47" lengthAdjust="spacingAndGlyphs" stroke="#1a1a1a" stroke-width="0.18">SLAMF8</text>
<text x="451.3" y="144.69" font-family="Liberation Sans, sans-serif" font-size="6.8" fill="#1a1a1a" textLength="17.12" lengthAdjust="spacingAndGlyphs" stroke="#1a1a1a" stroke-width="0.18">CTSD</text>
<text x="451.3" y="151.39" font-family="Liberation Sans, sans-serif" font-size="6.8" fill="#1a1a1a" textLength="25.86" lengthAdjust="spacingAndGlyphs" stroke="#1a1a1a" stroke-width="0.18">NOTCH2</text>
<text x="451.3" y="158.1" font-family="Liberation Sans, sans-serif" font-size="6.8" fill="#1a1a1a" textLength="16.43" lengthAdjust="spacingAndGlyphs" stroke="#1a1a1a" stroke-width="0.18">DAB2</text>
<text x="451.3" y="164.8" font-family="Liberation Sans, sans-serif" font-size="6.8" fill="#1a1a1a" textLength="24.47" lengthAdjust="spacingAndGlyphs" stroke="#1a1a1a" stroke-width="0.18">SLAMF1</text>
<text x="451.3" y="171.5" font-family="Liberation Sans, sans-serif" font-size="6.8" fill="#1a1a1a" textLength="21.32" lengthAdjust="spacingAndGlyphs" stroke="#1a1a1a" stroke-width="0.18">PSMB4</text>
<text x="451.3" y="178.2" font-family="Liberation Sans, sans-serif" font-size="6.8" fill="#1a1a1a" textLength="14.67" lengthAdjust="spacingAndGlyphs" stroke="#1a1a1a" stroke-width="0.18">MME</text>
<text x="451.3" y="184.91" font-family="Liberation Sans, sans-serif" font-size="6.8" fill="#1a1a1a" textLength="18.52" lengthAdjust="spacingAndGlyphs" stroke="#1a1a1a" stroke-width="0.18">MCM4</text>
<text x="451.3" y="191.61" font-family="Liberation Sans, sans-serif" font-size="6.8" fill="#1a1a1a" textLength="16.43" lengthAdjust="spacingAndGlyphs" stroke="#1a1a1a" stroke-width="0.18">RFC3</text>
<text x="451.3" y="198.31" font-family="Liberation Sans, sans-serif" font-size="6.8" fill="#1a1a1a" textLength="30.41" lengthAdjust="spacingAndGlyphs" stroke="#1a1a1a" stroke-width="0.18">SMARCA4</text>
<text x="451.3" y="205.02" font-family="Liberation Sans, sans-serif" font-size="6.8" fill="#1a1a1a" textLength="25.17" lengthAdjust="spacingAndGlyphs" stroke="#1a1a1a" stroke-width="0.18">RANBP1</text>
<text x="451.3" y="211.72" font-family="Liberation Sans, sans-serif" font-size="6.8" fill="#1a1a1a" textLength="20.28" lengthAdjust="spacingAndGlyphs" stroke="#1a1a1a" stroke-width="0.18">DHX33</text>
<text x="451.3" y="218.42" font-family="Liberation Sans, sans-serif" font-size="6.8" fill="#1a1a1a" textLength="20.97" lengthAdjust="spacingAndGlyphs" stroke="#1a1a1a" stroke-width="0.18">NOLC1</text>
<text x="451.3" y="225.13" font-family="Liberation Sans, sans-serif" font-size="6.8" fill="#1a1a1a" textLength="22.72" lengthAdjust="spacingAndGlyphs" stroke="#1a1a1a" stroke-width="0.18">ARID1A</text>
<text x="451.3" y="231.83" font-family="Liberation Sans, sans-serif" font-size="6.8" fill="#1a1a1a" textLength="20.28" lengthAdjust="spacingAndGlyphs" stroke="#1a1a1a" stroke-width="0.18">DDX21</text>
<text x="451.3" y="238.53" font-family="Liberation Sans, sans-serif" font-size="6.8" fill="#1a1a1a" textLength="32.52" lengthAdjust="spacingAndGlyphs" stroke="#1a1a1a" stroke-width="0.18">EBNA1BP2</text>
<text x="451.3" y="245.23" font-family="Liberation Sans, sans-serif" font-size="6.8" fill="#1a1a1a" textLength="13.98" lengthAdjust="spacingAndGlyphs" stroke="#1a1a1a" stroke-width="0.18">SRM</text>
<text x="451.3" y="251.94" font-family="Liberation Sans, sans-serif" font-size="6.8" fill="#1a1a1a" textLength="27.62" lengthAdjust="spacingAndGlyphs" stroke="#1a1a1a" stroke-width="0.18">FAM216A</text>
<text x="451.3" y="258.64" font-family="Liberation Sans, sans-serif" font-size="6.8" fill="#1a1a1a" textLength="15.73" lengthAdjust="spacingAndGlyphs" stroke="#1a1a1a" stroke-width="0.18">ETS1</text>
<text x="451.3" y="265.34" font-family="Liberation Sans, sans-serif" font-size="6.8" fill="#1a1a1a" textLength="19.58" lengthAdjust="spacingAndGlyphs" stroke="#1a1a1a" stroke-width="0.18">TCL1A</text>
<text x="451.3" y="272.05" font-family="Liberation Sans, sans-serif" font-size="6.8" fill="#1a1a1a" textLength="21.32" lengthAdjust="spacingAndGlyphs" stroke="#1a1a1a" stroke-width="0.18">FOXO1</text>
<text x="451.3" y="278.75" font-family="Liberation Sans, sans-serif" font-size="6.8" fill="#1a1a1a" textLength="21.56" lengthAdjust="spacingAndGlyphs" stroke="#1a1a1a" stroke-width="0.18">PAXIP1</text>
<text transform="translate(37.3,280.9) rotate(-90)" x="-42.25" y="0" font-family="Liberation Sans, sans-serif" font-size="6.9" fill="#4b5bad" textLength="42.25" lengthAdjust="spacingAndGlyphs" stroke="#4b5bad" stroke-width="0.1">69_PB_DLBCL</text>
<text transform="translate(44.49,280.9) rotate(-90)" x="-45.72" y="0" font-family="Liberation Sans, sans-serif" font-size="6.9" fill="#4b5bad" textLength="45.72" lengthAdjust="spacingAndGlyphs" stroke="#4b5bad" stroke-width="0.1">102_PB_DLBCL</text>
<text transform="translate(51.68,280.9) rotate(-90)" x="-67.63" y="0" font-family="Liberation Sans, sans-serif" font-size="6.9" fill="#34b6b0" textLength="67.63" lengthAdjust="spacingAndGlyphs" stroke="#34b6b0" stroke-width="0.1">20_Disseminated_DLBCL</text>
<text transform="translate(58.87,280.9) rotate(-90)" x="-38.79" y="0" font-family="Liberation Sans, sans-serif" font-size="6.9" fill="#4b5bad" textLength="38.79" lengthAdjust="spacingAndGlyphs" stroke="#4b5bad" stroke-width="0.1">4_PB_DLBCL</text>
<text transform="translate(66.06,280.9) rotate(-90)" x="-42.25" y="0" font-family="Liberation Sans, sans-serif" font-size="6.9" fill="#4b5bad" textLength="42.25" lengthAdjust="spacingAndGlyphs" stroke="#4b5bad" stroke-width="0.1">93_PB_DLBCL</text>
<text transform="translate(73.25,280.9) rotate(-90)" x="-38.79" y="0" font-family="Liberation Sans, sans-serif" font-size="6.9" fill="#4b5bad" textLength="38.79" lengthAdjust="spacingAndGlyphs" stroke="#4b5bad" stroke-width="0.1">6_PB_DLBCL</text>
<text transform="translate(80.44,280.9) rotate(-90)" x="-42.25" y="0" font-family="Liberation Sans, sans-serif" font-size="6.9" fill="#4b5bad" textLength="42.25" lengthAdjust="spacingAndGlyphs" stroke="#4b5bad" stroke-width="0.1">21_PB_DLBCL</text>
<text transform="translate(87.63,280.9) rotate(-90)" x="-42.25" y="0" font-family="Liberation Sans, sans-serif" font-size="6.9" fill="#4b5bad" textLength="42.25" lengthAdjust="spacingAndGlyphs" stroke="#4b5bad" stroke-width="0.1">40_PB_DLBCL</text>
<text transform="translate(94.82,280.9) rotate(-90)" x="-42.25" y="0" font-family="Liberation Sans, sans-serif" font-size="6.9" fill="#4b5bad" textLength="42.25" lengthAdjust="spacingAndGlyphs" stroke="#4b5bad" stroke-width="0.1">54_PB_DLBCL</text>
<text transform="translate(102.01,280.9) rotate(-90)" x="-60.9" y="0" font-family="Liberation Sans, sans-serif" font-size="6.9" fill="#5f6db8" textLength="60.9" lengthAdjust="spacingAndGlyphs" stroke="#5f6db8" stroke-width="0.1">18_Polyostotic_DLBCL</text>
<text transform="translate(109.2,280.9) rotate(-90)" x="-67.63" y="0" font-family="Liberation Sans, sans-serif" font-size="6.9" fill="#34b6b0" textLength="67.63" lengthAdjust="spacingAndGlyphs" stroke="#34b6b0" stroke-width="0.1">25_Disseminated_DLBCL</text>
<text transform="translate(116.39,280.9) rotate(-90)" x="-67.63" y="0" font-family="Liberation Sans, sans-serif" font-size="6.9" fill="#34b6b0" textLength="67.63" lengthAdjust="spacingAndGlyphs" stroke="#34b6b0" stroke-width="0.1">37_Disseminated_DLBCL</text>
<text transform="translate(123.58,280.9) rotate(-90)" x="-42.25" y="0" font-family="Liberation Sans, sans-serif" font-size="6.9" fill="#4b5bad" textLength="42.25" lengthAdjust="spacingAndGlyphs" stroke="#4b5bad" stroke-width="0.1">65_PB_DLBCL</text>
<text transform="translate(130.77,280.9) rotate(-90)" x="-38.79" y="0" font-family="Liberation Sans, sans-serif" font-size="6.9" fill="#4b5bad" textLength="38.79" lengthAdjust="spacingAndGlyphs" stroke="#4b5bad" stroke-width="0.1">8_PB_DLBCL</text>
<text transform="translate(137.96,280.9) rotate(-90)" x="-60.9" y="0" font-family="Liberation Sans, sans-serif" font-size="6.9" fill="#5f6db8" textLength="60.9" lengthAdjust="spacingAndGlyphs" stroke="#5f6db8" stroke-width="0.1">17_Polyostotic_DLBCL</text>
<text transform="translate(145.15,280.9) rotate(-90)" x="-42.25" y="0" font-family="Liberation Sans, sans-serif" font-size="6.9" fill="#4b5bad" textLength="42.25" lengthAdjust="spacingAndGlyphs" stroke="#4b5bad" stroke-width="0.1">48_PB_DLBCL</text>
<text transform="translate(152.34,280.9) rotate(-90)" x="-55.16" y="0" font-family="Liberation Sans, sans-serif" font-size="6.9" fill="#98c98f" textLength="55.16" lengthAdjust="spacingAndGlyphs" stroke="#98c98f" stroke-width="0.1">33_Ext_NO_DLBCL</text>
<text transform="translate(159.53,280.9) rotate(-90)" x="-67.63" y="0" font-family="Liberation Sans, sans-serif" font-size="6.9" fill="#34b6b0" textLength="67.63" lengthAdjust="spacingAndGlyphs" stroke="#34b6b0" stroke-width="0.1">34_Disseminated_DLBCL</text>
<text transform="translate(166.72,280.9) rotate(-90)" x="-42.25" y="0" font-family="Liberation Sans, sans-serif" font-size="6.9" fill="#4b5bad" textLength="42.25" lengthAdjust="spacingAndGlyphs" stroke="#4b5bad" stroke-width="0.1">69_PB_DLBCL</text>
<text transform="translate(173.91,280.9) rotate(-90)" x="-57.43" y="0" font-family="Liberation Sans, sans-serif" font-size="6.9" fill="#5f6db8" textLength="57.43" lengthAdjust="spacingAndGlyphs" stroke="#5f6db8" stroke-width="0.1">7_Polyostotic_DLBCL</text>
<text transform="translate(181.1,280.9) rotate(-90)" x="-42.25" y="0" font-family="Liberation Sans, sans-serif" font-size="6.9" fill="#4b5bad" textLength="42.25" lengthAdjust="spacingAndGlyphs" stroke="#4b5bad" stroke-width="0.1">12_PB_DLBCL</text>
<text transform="translate(188.29,280.9) rotate(-90)" x="-42.25" y="0" font-family="Liberation Sans, sans-serif" font-size="6.9" fill="#4b5bad" textLength="42.25" lengthAdjust="spacingAndGlyphs" stroke="#4b5bad" stroke-width="0.1">13_PB_DLBCL</text>
<text transform="translate(195.48,280.9) rotate(-90)" x="-42.25" y="0" font-family="Liberation Sans, sans-serif" font-size="6.9" fill="#4b5bad" textLength="42.25" lengthAdjust="spacingAndGlyphs" stroke="#4b5bad" stroke-width="0.1">10_PB_DLBCL</text>
<text transform="translate(202.67,280.9) rotate(-90)" x="-42.25" y="0" font-family="Liberation Sans, sans-serif" font-size="6.9" fill="#4b5bad" textLength="42.25" lengthAdjust="spacingAndGlyphs" stroke="#4b5bad" stroke-width="0.1">19_PB_DLBCL</text>
<text transform="translate(209.86,280.9) rotate(-90)" x="-42.25" y="0" font-family="Liberation Sans, sans-serif" font-size="6.9" fill="#4b5bad" textLength="42.25" lengthAdjust="spacingAndGlyphs" stroke="#4b5bad" stroke-width="0.1">35_PB_DLBCL</text>
<text transform="translate(217.05,280.9) rotate(-90)" x="-67.63" y="0" font-family="Liberation Sans, sans-serif" font-size="6.9" fill="#34b6b0" textLength="67.63" lengthAdjust="spacingAndGlyphs" stroke="#34b6b0" stroke-width="0.1">29_Disseminated_DLBCL</text>
<text transform="translate(224.24,280.9) rotate(-90)" x="-67.63" y="0" font-family="Liberation Sans, sans-serif" font-size="6.9" fill="#34b6b0" textLength="67.63" lengthAdjust="spacingAndGlyphs" stroke="#34b6b0" stroke-width="0.1">72_Disseminated_DLBCL</text>
<text transform="translate(231.43,280.9) rotate(-90)" x="-42.25" y="0" font-family="Liberation Sans, sans-serif" font-size="6.9" fill="#4b5bad" textLength="42.25" lengthAdjust="spacingAndGlyphs" stroke="#4b5bad" stroke-width="0.1">94_PB_DLBCL</text>
<text transform="translate(238.62,280.9) rotate(-90)" x="-38.79" y="0" font-family="Liberation Sans, sans-serif" font-size="6.9" fill="#4b5bad" textLength="38.79" lengthAdjust="spacingAndGlyphs" stroke="#4b5bad" stroke-width="0.1">9_PB_DLBCL</text>
<text transform="translate(245.81,280.9) rotate(-90)" x="-42.25" y="0" font-family="Liberation Sans, sans-serif" font-size="6.9" fill="#4b5bad" textLength="42.25" lengthAdjust="spacingAndGlyphs" stroke="#4b5bad" stroke-width="0.1">91_PB_DLBCL</text>
<text transform="translate(253.9,280.9) rotate(-90)" x="-60.9" y="0" font-family="Liberation Sans, sans-serif" font-size="6.9" fill="#5f6db8" textLength="60.9" lengthAdjust="spacingAndGlyphs" stroke="#5f6db8" stroke-width="0.1">80_Polyostotic_DLBCL</text>
<text transform="translate(261.1,280.9) rotate(-90)" x="-67.63" y="0" font-family="Liberation Sans, sans-serif" font-size="6.9" fill="#34b6b0" textLength="67.63" lengthAdjust="spacingAndGlyphs" stroke="#34b6b0" stroke-width="0.1">16_Disseminated_DLBCL</text>
<text transform="translate(268.3,280.9) rotate(-90)" x="-42.25" y="0" font-family="Liberation Sans, sans-serif" font-size="6.9" fill="#4b5bad" textLength="42.25" lengthAdjust="spacingAndGlyphs" stroke="#4b5bad" stroke-width="0.1">38_PB_DLBCL</text>
<text transform="translate(275.5,280.9) rotate(-90)" x="-55.16" y="0" font-family="Liberation Sans, sans-serif" font-size="6.9" fill="#98c98f" textLength="55.16" lengthAdjust="spacingAndGlyphs" stroke="#98c98f" stroke-width="0.1">71_Ext_NO_DLBCL</text>
<text transform="translate(282.7,280.9) rotate(-90)" x="-55.89" y="0" font-family="Liberation Sans, sans-serif" font-size="6.9" fill="#98c98f" textLength="55.89" lengthAdjust="spacingAndGlyphs" stroke="#98c98f" stroke-width="0.1">51_Mix_NO_DLBCL</text>
<text transform="translate(289.9,280.9) rotate(-90)" x="-67.63" y="0" font-family="Liberation Sans, sans-serif" font-size="6.9" fill="#34b6b0" textLength="67.63" lengthAdjust="spacingAndGlyphs" stroke="#34b6b0" stroke-width="0.1">22_Disseminated_DLBCL</text>
<text transform="translate(297.1,280.9) rotate(-90)" x="-55.89" y="0" font-family="Liberation Sans, sans-serif" font-size="6.9" fill="#98c98f" textLength="55.89" lengthAdjust="spacingAndGlyphs" stroke="#98c98f" stroke-width="0.1">61_Mix_NO_DLBCL</text>
<text transform="translate(304.3,280.9) rotate(-90)" x="-42.25" y="0" font-family="Liberation Sans, sans-serif" font-size="6.9" fill="#4b5bad" textLength="42.25" lengthAdjust="spacingAndGlyphs" stroke="#4b5bad" stroke-width="0.1">27_PB_DLBCL</text>
<text transform="translate(311.5,280.9) rotate(-90)" x="-60.9" y="0" font-family="Liberation Sans, sans-serif" font-size="6.9" fill="#5f6db8" textLength="60.9" lengthAdjust="spacingAndGlyphs" stroke="#5f6db8" stroke-width="0.1">77_Polyostotic_DLBCL</text>
<text transform="translate(318.7,280.9) rotate(-90)" x="-55.89" y="0" font-family="Liberation Sans, sans-serif" font-size="6.9" fill="#98c98f" textLength="55.89" lengthAdjust="spacingAndGlyphs" stroke="#98c98f" stroke-width="0.1">45_Mix_NO_DLBCL</text>
<text transform="translate(325.9,280.9) rotate(-90)" x="-55.89" y="0" font-family="Liberation Sans, sans-serif" font-size="6.9" fill="#98c98f" textLength="55.89" lengthAdjust="spacingAndGlyphs" stroke="#98c98f" stroke-width="0.1">53_Mix_NO_DLBCL</text>
<text transform="translate(333.1,280.9) rotate(-90)" x="-67.63" y="0" font-family="Liberation Sans, sans-serif" font-size="6.9" fill="#34b6b0" textLength="67.63" lengthAdjust="spacingAndGlyphs" stroke="#34b6b0" stroke-width="0.1">55_Disseminated_DLBCL</text>
<text transform="translate(340.3,280.9) rotate(-90)" x="-67.63" y="0" font-family="Liberation Sans, sans-serif" font-size="6.9" fill="#34b6b0" textLength="67.63" lengthAdjust="spacingAndGlyphs" stroke="#34b6b0" stroke-width="0.1">70_Disseminated_DLBCL</text>
<text transform="translate(347.5,280.9) rotate(-90)" x="-42.25" y="0" font-family="Liberation Sans, sans-serif" font-size="6.9" fill="#4b5bad" textLength="42.25" lengthAdjust="spacingAndGlyphs" stroke="#4b5bad" stroke-width="0.1">31_PB_DLBCL</text>
<text transform="translate(354.7,280.9) rotate(-90)" x="-55.16" y="0" font-family="Liberation Sans, sans-serif" font-size="6.9" fill="#98c98f" textLength="55.16" lengthAdjust="spacingAndGlyphs" stroke="#98c98f" stroke-width="0.1">56_Ext_NO_DLBCL</text>
<text transform="translate(363.3,280.9) rotate(-90)" x="-55.89" y="0" font-family="Liberation Sans, sans-serif" font-size="6.9" fill="#98c98f" textLength="55.89" lengthAdjust="spacingAndGlyphs" stroke="#98c98f" stroke-width="0.1">59_Mix_NO_DLBCL</text>
<text transform="translate(370.5,280.9) rotate(-90)" x="-55.89" y="0" font-family="Liberation Sans, sans-serif" font-size="6.9" fill="#98c98f" textLength="55.89" lengthAdjust="spacingAndGlyphs" stroke="#98c98f" stroke-width="0.1">30_Mix_NO_DLBCL</text>
<text transform="translate(377.7,280.9) rotate(-90)" x="-57.34" y="0" font-family="Liberation Sans, sans-serif" font-size="6.9" fill="#98c98f" textLength="57.34" lengthAdjust="spacingAndGlyphs" stroke="#98c98f" stroke-width="0.1">47_Nod_NO_DLBCL</text>
<text transform="translate(384.9,280.9) rotate(-90)" x="-57.34" y="0" font-family="Liberation Sans, sans-serif" font-size="6.9" fill="#98c98f" textLength="57.34" lengthAdjust="spacingAndGlyphs" stroke="#98c98f" stroke-width="0.1">52_Nod_NO_DLBCL</text>
<text transform="translate(392.1,280.9) rotate(-90)" x="-55.16" y="0" font-family="Liberation Sans, sans-serif" font-size="6.9" fill="#98c98f" textLength="55.16" lengthAdjust="spacingAndGlyphs" stroke="#98c98f" stroke-width="0.1">60_Ext_NO_DLBCL</text>
<text transform="translate(399.3,280.9) rotate(-90)" x="-67.63" y="0" font-family="Liberation Sans, sans-serif" font-size="6.9" fill="#34b6b0" textLength="67.63" lengthAdjust="spacingAndGlyphs" stroke="#34b6b0" stroke-width="0.1">51_Disseminated_DLBCL</text>
<text transform="translate(406.5,280.9) rotate(-90)" x="-55.16" y="0" font-family="Liberation Sans, sans-serif" font-size="6.9" fill="#98c98f" textLength="55.16" lengthAdjust="spacingAndGlyphs" stroke="#98c98f" stroke-width="0.1">87_Ext_NO_DLBCL</text>
<text transform="translate(413.7,280.9) rotate(-90)" x="-55.89" y="0" font-family="Liberation Sans, sans-serif" font-size="6.9" fill="#98c98f" textLength="55.89" lengthAdjust="spacingAndGlyphs" stroke="#98c98f" stroke-width="0.1">73_Mix_NO_DLBCL</text>
<text transform="translate(420.9,280.9) rotate(-90)" x="-55.16" y="0" font-family="Liberation Sans, sans-serif" font-size="6.9" fill="#98c98f" textLength="55.16" lengthAdjust="spacingAndGlyphs" stroke="#98c98f" stroke-width="0.1">84_Ext_NO_DLBCL</text>
<text transform="translate(428.1,280.9) rotate(-90)" x="-55.16" y="0" font-family="Liberation Sans, sans-serif" font-size="6.9" fill="#98c98f" textLength="55.16" lengthAdjust="spacingAndGlyphs" stroke="#98c98f" stroke-width="0.1">89_Ext_NO_DLBCL</text>
<text transform="translate(435.3,280.9) rotate(-90)" x="-55.89" y="0" font-family="Liberation Sans, sans-serif" font-size="6.9" fill="#98c98f" textLength="55.89" lengthAdjust="spacingAndGlyphs" stroke="#98c98f" stroke-width="0.1">83_Mix_NO_DLBCL</text>
<text transform="translate(442.5,280.9) rotate(-90)" x="-55.89" y="0" font-family="Liberation Sans, sans-serif" font-size="6.9" fill="#98c98f" textLength="55.89" lengthAdjust="spacingAndGlyphs" stroke="#98c98f" stroke-width="0.1">43_Mix_NO_DLBCL</text>
<text transform="translate(449.7,280.9) rotate(-90)" x="-55.89" y="0" font-family="Liberation Sans, sans-serif" font-size="6.9" fill="#98c98f" textLength="55.89" lengthAdjust="spacingAndGlyphs" stroke="#98c98f" stroke-width="0.1">88_Mix_NO_DLBCL</text>
<text x="486.2" y="167.8" font-family="Liberation Sans, sans-serif" font-size="7.2" fill="#111" textLength="24.6" lengthAdjust="spacingAndGlyphs" stroke="#111" stroke-width="0.18">matrix_1</text>
<defs><linearGradient id="lg" x1="0" y1="0" x2="0" y2="1"><stop offset="0" stop-color="#e8151d"/><stop offset="0.22" stop-color="#e8151d"/><stop offset="0.36" stop-color="#f08a6c"/><stop offset="0.5" stop-color="#fbf6f6"/><stop offset="0.64" stop-color="#9d8ac8"/><stop offset="0.78" stop-color="#3a4ca8"/><stop offset="1" stop-color="#3a4ca8"/></linearGradient></defs>
<rect x="490" y="169.5" width="6.1" height="28.3" fill="url(#lg)"/>
<text x="499.55" y="172.8" font-family="Liberation Sans, sans-serif" font-size="6.2" fill="#111" textLength="3.45" lengthAdjust="spacingAndGlyphs" stroke="#111" stroke-width="0.18">4</text>
<text x="499.55" y="179.7" font-family="Liberation Sans, sans-serif" font-size="6.2" fill="#111" textLength="3.45" lengthAdjust="spacingAndGlyphs" stroke="#111" stroke-width="0.18">2</text>
<text x="499.55" y="186.3" font-family="Liberation Sans, sans-serif" font-size="6.2" fill="#111" textLength="3.45" lengthAdjust="spacingAndGlyphs" stroke="#111" stroke-width="0.18">0</text>
<text x="497.49" y="192.4" font-family="Liberation Sans, sans-serif" font-size="6.2" fill="#111" textLength="5.51" lengthAdjust="spacingAndGlyphs" stroke="#111" stroke-width="0.18">-2</text>
<text x="497.49" y="198.9" font-family="Liberation Sans, sans-serif" font-size="6.2" fill="#111" textLength="5.51" lengthAdjust="spacingAndGlyphs" stroke="#111" stroke-width="0.18">-4</text>
<text x="7.5" y="374.3" font-family="Liberation Sans, sans-serif" font-size="10" font-weight="bold">B</text>
<rect x="39.8" y="365.5" width="130" height="11.5" fill="#fff" stroke="#333" stroke-width="1"/>
<text x="70.15" y="375.1" font-family="Liberation Sans, sans-serif" font-size="8.9" textLength="65" lengthAdjust="spacingAndGlyphs" fill="#1a1a1a">Cluster_A (n=30)</text>
<rect x="170.7" y="365.5" width="130.2" height="11.5" fill="#fff" stroke="#333" stroke-width="1"/>
<text x="202.35" y="375.1" font-family="Liberation Sans, sans-serif" font-size="8.9" textLength="65" lengthAdjust="spacingAndGlyphs" fill="#1a1a1a">Cluster_B (n=15)</text>
<rect x="302.2" y="365.5" width="130.1" height="11.5" fill="#fff" stroke="#333" stroke-width="1"/>
<text x="331.3" y="375.1" font-family="Liberation Sans, sans-serif" font-size="8.9" textLength="65" lengthAdjust="spacingAndGlyphs" fill="#1a1a1a">Cluster_C (n=13)</text>
<rect x="39.8" y="468.0" width="128.7" height="1.0" fill="#222"/>
<rect x="44.1" y="408.6" width="28.2" height="59.8" fill="#175083" stroke="#0f416e" stroke-width="0.5"/>
<text x="52.2" y="406.9" font-family="Liberation Sans, sans-serif" font-size="6" fill="#222" textLength="12.01" lengthAdjust="spacingAndGlyphs" stroke="#222" stroke-width="0.12">67%</text>
<rect x="57.75" y="469" width="0.9" height="1.6" fill="#222"/>
<text transform="translate(63.7,473.7) rotate(-45)" x="-41.42" y="0" font-family="Liberation Sans, sans-serif" font-size="8.1" fill="#111" textLength="41.42" lengthAdjust="spacingAndGlyphs" stroke="#111" stroke-width="0.12">PB_DLBCL</text>
<rect x="74.8" y="459.6" width="28.2" height="8.8" fill="#8a80c4" stroke="#7a70b6" stroke-width="0.5"/>
<text x="82.9" y="457.9" font-family="Liberation Sans, sans-serif" font-size="6" fill="#222" textLength="12.01" lengthAdjust="spacingAndGlyphs" stroke="#222" stroke-width="0.12">10%</text>
<rect x="88.45" y="469" width="0.9" height="1.6" fill="#222"/>
<text transform="translate(94.4,473.7) rotate(-45)" x="-69.78" y="0" font-family="Liberation Sans, sans-serif" font-size="8.1" fill="#111" textLength="69.78" lengthAdjust="spacingAndGlyphs" stroke="#111" stroke-width="0.12">Polyostotic_DLBCL</text>
<rect x="105.5" y="450.6" width="28.2" height="17.8" fill="#2eaae2" stroke="#1f98d0" stroke-width="0.5"/>
<text x="113.6" y="448.9" font-family="Liberation Sans, sans-serif" font-size="6" fill="#222" textLength="12.01" lengthAdjust="spacingAndGlyphs" stroke="#222" stroke-width="0.12">20%</text>
<rect x="119.15" y="469" width="0.9" height="1.6" fill="#222"/>
<text transform="translate(125.1,473.7) rotate(-45)" x="-79.69" y="0" font-family="Liberation Sans, sans-serif" font-size="8.1" fill="#111" textLength="79.69" lengthAdjust="spacingAndGlyphs" stroke="#111" stroke-width="0.12">Disseminated_DLBCL</text>
<rect x="136.2" y="465.6" width="28.2" height="2.8" fill="#3cb44b" stroke="#2fa03e" stroke-width="0.5"/>
<text x="145.96" y="463.9" font-family="Liberation Sans, sans-serif" font-size="6" fill="#222" textLength="8.67" lengthAdjust="spacingAndGlyphs" stroke="#222" stroke-width="0.12">3%</text>
<rect x="149.85" y="469" width="0.9" height="1.6" fill="#222"/>
<text transform="translate(155.8,473.7) rotate(-45)" x="-64.82" y="0" font-family="Liberation Sans, sans-serif" font-size="8.1" fill="#111" textLength="64.82" lengthAdjust="spacingAndGlyphs" stroke="#111" stroke-width="0.12">NO_DLBCL_GCB</text>
<rect x="171.5" y="468.0" width="128.7" height="1.0" fill="#222"/>
<rect x="175.8" y="450.6" width="28.2" height="17.8" fill="#175083" stroke="#0f416e" stroke-width="0.5"/>
<text x="183.9" y="448.9" font-family="Liberation Sans, sans-serif" font-size="6" fill="#222" textLength="12.01" lengthAdjust="spacingAndGlyphs" stroke="#222" stroke-width="0.12">20%</text>
<rect x="189.45" y="469" width="0.9" height="1.6" fill="#222"/>
<text transform="translate(195.4,473.7) rotate(-45)" x="-41.42" y="0" font-family="Liberation Sans, sans-serif" font-size="8.1" fill="#111" textLength="41.42" lengthAdjust="spacingAndGlyphs" stroke="#111" stroke-width="0.12">PB_DLBCL</text>
<rect x="206.5" y="456.6" width="28.2" height="11.8" fill="#8a80c4" stroke="#7a70b6" stroke-width="0.5"/>
<text x="214.6" y="454.9" font-family="Liberation Sans, sans-serif" font-size="6" fill="#222" textLength="12.01" lengthAdjust="spacingAndGlyphs" stroke="#222" stroke-width="0.12">13%</text>
<rect x="220.15" y="469" width="0.9" height="1.6" fill="#222"/>
<text transform="translate(226.1,473.7) rotate(-45)" x="-69.78" y="0" font-family="Liberation Sans, sans-serif" font-size="8.1" fill="#111" textLength="69.78" lengthAdjust="spacingAndGlyphs" stroke="#111" stroke-width="0.12">Polyostotic_DLBCL</text>
<rect x="237.2" y="444.6" width="28.2" height="23.8" fill="#2eaae2" stroke="#1f98d0" stroke-width="0.5"/>
<text x="245.3" y="442.9" font-family="Liberation Sans, sans-serif" font-size="6" fill="#222" textLength="12.01" lengthAdjust="spacingAndGlyphs" stroke="#222" stroke-width="0.12">27%</text>
<rect x="250.85" y="469" width="0.9" height="1.6" fill="#222"/>
<text transform="translate(256.8,473.7) rotate(-45)" x="-79.69" y="0" font-family="Liberation Sans, sans-serif" font-size="8.1" fill="#111" textLength="79.69" lengthAdjust="spacingAndGlyphs" stroke="#111" stroke-width="0.12">Disseminated_DLBCL</text>
<rect x="267.9" y="432.6" width="28.2" height="35.8" fill="#3cb44b" stroke="#2fa03e" stroke-width="0.5"/>
<text x="276" y="430.9" font-family="Liberation Sans, sans-serif" font-size="6" fill="#222" textLength="12.01" lengthAdjust="spacingAndGlyphs" stroke="#222" stroke-width="0.12">40%</text>
<rect x="281.55" y="469" width="0.9" height="1.6" fill="#222"/>
<text transform="translate(287.5,473.7) rotate(-45)" x="-64.82" y="0" font-family="Liberation Sans, sans-serif" font-size="8.1" fill="#111" textLength="64.82" lengthAdjust="spacingAndGlyphs" stroke="#111" stroke-width="0.12">NO_DLBCL_GCB</text>
<rect x="303.3" y="468.0" width="128.7" height="1.0" fill="#222"/>
<rect x="321.25" y="469" width="0.9" height="1.6" fill="#222"/>
<text transform="translate(327.2,473.7) rotate(-45)" x="-41.42" y="0" font-family="Liberation Sans, sans-serif" font-size="8.1" fill="#111" textLength="41.42" lengthAdjust="spacingAndGlyphs" stroke="#111" stroke-width="0.12">PB_DLBCL</text>
<rect x="351.95" y="469" width="0.9" height="1.6" fill="#222"/>
<text transform="translate(357.9,473.7) rotate(-45)" x="-69.78" y="0" font-family="Liberation Sans, sans-serif" font-size="8.1" fill="#111" textLength="69.78" lengthAdjust="spacingAndGlyphs" stroke="#111" stroke-width="0.12">Polyostotic_DLBCL</text>
<rect x="369" y="461.68" width="28.2" height="6.72" fill="#2eaae2" stroke="#1f98d0" stroke-width="0.5"/>
<text x="378.76" y="459.98" font-family="Liberation Sans, sans-serif" font-size="6" fill="#222" textLength="8.67" lengthAdjust="spacingAndGlyphs" stroke="#222" stroke-width="0.12">8%</text>
<rect x="382.65" y="469" width="0.9" height="1.6" fill="#222"/>
<text transform="translate(388.6,473.7) rotate(-45)" x="-79.69" y="0" font-family="Liberation Sans, sans-serif" font-size="8.1" fill="#111" textLength="79.69" lengthAdjust="spacingAndGlyphs" stroke="#111" stroke-width="0.12">Disseminated_DLBCL</text>
<rect x="399.7" y="385.52" width="28.2" height="82.88" fill="#3cb44b" stroke="#2fa03e" stroke-width="0.5"/>
<text x="407.8" y="383.82" font-family="Liberation Sans, sans-serif" font-size="6" fill="#222" textLength="12.01" lengthAdjust="spacingAndGlyphs" stroke="#222" stroke-width="0.12">92%</text>
<rect x="413.35" y="469" width="0.9" height="1.6" fill="#222"/>
<text transform="translate(419.3,473.7) rotate(-45)" x="-64.82" y="0" font-family="Liberation Sans, sans-serif" font-size="8.1" fill="#111" textLength="64.82" lengthAdjust="spacingAndGlyphs" stroke="#111" stroke-width="0.12">NO_DLBCL_GCB</text>
<rect x="39.7" y="376.7" width="1.1" height="92.3" fill="#222"/>
<rect x="37.8" y="377.55" width="2" height="0.9" fill="#222"/>
<text x="18.8" y="380.8" font-family="Liberation Sans, sans-serif" font-size="7.9" fill="#222" textLength="17.8" lengthAdjust="spacingAndGlyphs" stroke="#222" stroke-width="0.18">100%</text>
<rect x="37.8" y="400.05" width="2" height="0.9" fill="#222"/>
<text x="22.6" y="403.3" font-family="Liberation Sans, sans-serif" font-size="7.9" fill="#222" textLength="14" lengthAdjust="spacingAndGlyphs" stroke="#222" stroke-width="0.18">75%</text>
<rect x="37.8" y="422.55" width="2" height="0.9" fill="#222"/>
<text x="22.6" y="425.8" font-family="Liberation Sans, sans-serif" font-size="7.9" fill="#222" textLength="14" lengthAdjust="spacingAndGlyphs" stroke="#222" stroke-width="0.18">50%</text>
<rect x="37.8" y="445.05" width="2" height="0.9" fill="#222"/>
<text x="22.6" y="448.3" font-family="Liberation Sans, sans-serif" font-size="7.9" fill="#222" textLength="14" lengthAdjust="spacingAndGlyphs" stroke="#222" stroke-width="0.18">25%</text>
<rect x="37.8" y="467.55" width="2" height="0.9" fill="#222"/>
<text x="26.4" y="470.8" font-family="Liberation Sans, sans-serif" font-size="7.9" fill="#222" textLength="10.2" lengthAdjust="spacingAndGlyphs" stroke="#222" stroke-width="0.18">0%</text>
<text transform="translate(16.8,435.8) rotate(-90)" x="0" y="0" font-family="Liberation Sans, sans-serif" font-size="8.3" fill="#111" textLength="30.9" lengthAdjust="spacingAndGlyphs" stroke="#111" stroke-width="0.2">Percentage</text>
<text x="439" y="410.1" font-family="Liberation Sans, sans-serif" font-size="6.8" fill="#111" textLength="63.2" lengthAdjust="spacingAndGlyphs" stroke="#111" stroke-width="0.18">N(O)-DLBCL subtype</text>
<rect x="440.1" y="411" width="7.7" height="7.9" fill="#175083"/>
<text x="449.6" y="418.6" font-family="Liberation Sans, sans-serif" font-size="6.8" fill="#111" textLength="34.3" lengthAdjust="spacingAndGlyphs" stroke="#111" stroke-width="0.18">PB_DLBCL</text>
<rect x="440.1" y="419.55" width="7.7" height="7.9" fill="#8a80c4"/>
<text x="449.6" y="427.15" font-family="Liberation Sans, sans-serif" font-size="6.8" fill="#111" textLength="56.8" lengthAdjust="spacingAndGlyphs" stroke="#111" stroke-width="0.18">Polyostotic_DLBCL</text>
<rect x="440.1" y="428.1" width="7.7" height="7.9" fill="#2eaae2"/>
<text x="449.6" y="435.7" font-family="Liberation Sans, sans-serif" font-size="6.8" fill="#111" textLength="65" lengthAdjust="spacingAndGlyphs" stroke="#111" stroke-width="0.18">Disseminated_DLBCL</text>
<rect x="440.1" y="436.65" width="7.7" height="7.9" fill="#3cb44b"/>
<text x="449.6" y="444.25" font-family="Liberation Sans, sans-serif" font-size="6.8" fill="#111" textLength="55.4" lengthAdjust="spacingAndGlyphs" stroke="#111" stroke-width="0.18">NO_DLBCL_GCB</text>
<rect x="0" y="0" width="520" height="1.2" fill="#000"/>
<rect x="0" y="0" width="1.4" height="541" fill="#000"/>
<rect x="518.6" y="0" width="1.4" height="541" fill="#000"/>
<rect x="0" y="539.2" width="520" height="1.8" fill="#000"/>
</svg>
</body></html>
